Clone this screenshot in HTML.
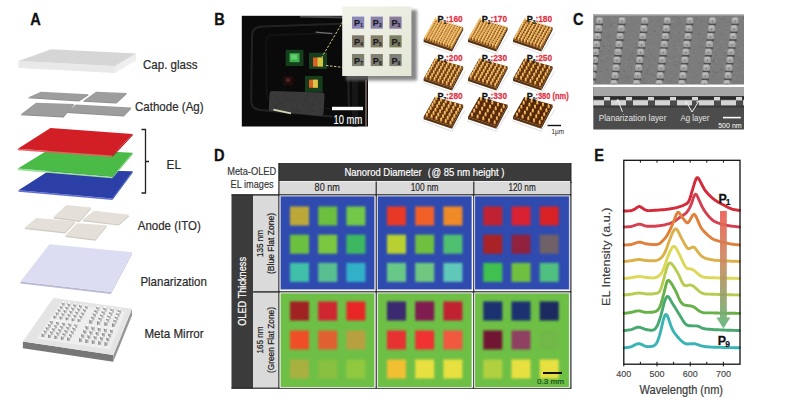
<!DOCTYPE html>
<html><head><meta charset="utf-8"><style>
html,body{margin:0;padding:0;background:#fff;}
body{width:800px;height:407px;overflow:hidden;font-family:"Liberation Sans",sans-serif;}
svg{display:block;}
</style></head><body>
<svg width="800" height="407" viewBox="0 0 800 407">
<defs><linearGradient id="ag" x1="0" y1="0" x2="0" y2="1"><stop offset="0" stop-color="#ea5a50"/><stop offset="0.45" stop-color="#c88a5c"/><stop offset="1" stop-color="#5cb474"/></linearGradient>
<filter id="blur2" x="-20%" y="-20%" width="140%" height="140%"><feGaussianBlur stdDeviation="1.6"/></filter>
<filter id="blur1" x="-30%" y="-30%" width="160%" height="160%"><feGaussianBlur stdDeviation="0.7"/></filter>
<filter id="blur05"><feGaussianBlur stdDeviation="0.45"/></filter>
<filter id="blurSq" x="-20%" y="-20%" width="140%" height="140%"><feGaussianBlur stdDeviation="0.8"/></filter>
<linearGradient id="insetg" x1="0" y1="0" x2="1" y2="1"><stop offset="0" stop-color="#f2f3ea"/><stop offset="1" stop-color="#e4e6d6"/></linearGradient>
<clipPath id="semclip"><rect x="593.3" y="14" width="150.7" height="70.5"/></clipPath>
<clipPath id="sem2clip"><rect x="593.3" y="87" width="150.7" height="42.5"/></clipPath>
<clipPath id="photoclip"><rect x="241.8" y="15.8" width="126.2" height="110.7"/></clipPath></defs>
<text transform="translate(30.30,24.60) scale(0.900,1)" font-size="16.20" fill="#111" font-weight="bold" stroke="#111" stroke-width="0.30" font-family="Liberation Sans, sans-serif">A</text>
<text transform="translate(214.20,24.80) scale(0.900,1)" font-size="16.20" fill="#111" font-weight="bold" stroke="#111" stroke-width="0.30" font-family="Liberation Sans, sans-serif">B</text>
<text transform="translate(573.00,24.60) scale(0.900,1)" font-size="16.20" fill="#111" font-weight="bold" stroke="#111" stroke-width="0.30" font-family="Liberation Sans, sans-serif">C</text>
<text transform="translate(214.00,161.20) scale(0.900,1)" font-size="16.20" fill="#111" font-weight="bold" stroke="#111" stroke-width="0.30" font-family="Liberation Sans, sans-serif">D</text>
<text transform="translate(594.30,161.20) scale(0.900,1)" font-size="16.20" fill="#111" font-weight="bold" stroke="#111" stroke-width="0.30" font-family="Liberation Sans, sans-serif">E</text>
<polygon points="18.4,61.0 115.0,66.0 115.0,73.0 18.4,68.0" fill="#e9e9e9" />
<polygon points="115.0,66.0 136.0,53.5 136.0,60.5 115.0,73.0" fill="#efefef" />
<polygon points="18.4,61.0 51.3,49.3 136.0,53.5 115.0,66.0" fill="#d6d6d6" />
<polygon points="27.9,98.3 40.9,92.5 88.8,95.1 79.0,101.6" fill="#8a8a8a" />
<polygon points="27.9,97.5 40.9,91.7 88.8,94.3 79.0,100.8" fill="#9d9d9d" />
<polygon points="83.1,101.8 96.1,92.5 127.0,93.8 116.4,103.5" fill="#8a8a8a" />
<polygon points="83.1,101.0 96.1,91.7 127.0,93.0 116.4,102.7" fill="#9d9d9d" />
<polygon points="20.6,115.2 36.0,103.5 74.2,104.8 63.6,117.4" fill="#8a8a8a" />
<polygon points="20.6,114.4 36.0,102.7 74.2,104.0 63.6,116.6" fill="#9d9d9d" />
<polygon points="66.9,113.0 75.8,105.2 131.5,108.4 123.7,116.5" fill="#8a8a8a" />
<polygon points="66.9,112.2 75.8,104.4 131.5,107.6 123.7,115.7" fill="#9d9d9d" />
<polygon points="18.5,190.2 112.4,198.5 112.4,200.0 18.5,191.7" fill="#6070d0" />
<polygon points="112.4,198.5 132.6,171.3 132.6,172.8 112.4,200.0" fill="#3050c0" />
<polygon points="18.5,190.2 51.0,169.5 132.6,171.3 112.4,198.5" fill="#2b3fa6" />
<polygon points="17.9,168.4 112.4,176.5 112.4,178.3 17.9,170.2" fill="#a0e0a0" />
<polygon points="112.4,176.5 132.6,152.8 132.6,154.6 112.4,178.3" fill="#7ad07a" />
<polygon points="17.9,168.4 50.5,148.5 132.6,152.8 112.4,176.5" fill="#4bbb48" />
<polygon points="17.9,148.8 112.4,155.5 112.4,157.0 17.9,150.3" fill="#e86060" />
<polygon points="112.4,155.5 132.6,134.0 132.6,135.5 112.4,157.0" fill="#b01820" />
<polygon points="17.9,148.8 50.5,127.9 132.6,134.0 112.4,155.5" fill="#d21f26" />
<path d="M141.5,129.5 H145.5 V193 H141.5 M145.5,161.5 H149" stroke="#222" stroke-width="1.3" fill="none"/>
<polygon points="53.3,218.5 66.4,206.2 91.4,208.8 79.6,221.9" fill="#cfcac2" />
<polygon points="53.3,217.3 66.4,205.0 91.4,207.6 79.6,220.7" fill="#e4e0d9" />
<polygon points="82.2,221.2 94.0,211.9 129.4,215.9 119.0,225.6" fill="#cfcac2" />
<polygon points="82.2,220.0 94.0,210.7 129.4,214.7 119.0,224.4" fill="#e4e0d9" />
<polygon points="24.4,229.0 36.2,219.2 75.6,222.4 65.0,233.5" fill="#cfcac2" />
<polygon points="24.4,227.8 36.2,218.0 75.6,221.2 65.0,232.3" fill="#e4e0d9" />
<polygon points="65.0,236.9 77.0,224.5 107.0,226.4 95.3,240.8" fill="#cfcac2" />
<polygon points="65.0,235.7 77.0,223.3 107.0,225.2 95.3,239.6" fill="#e4e0d9" />
<polygon points="20.5,281.6 111.0,292.0 111.0,294.0 20.5,283.6" fill="#b9b9d3" />
<polygon points="111.0,292.0 132.0,252.2 132.0,254.2 111.0,294.0" fill="#c8c8e0" />
<polygon points="20.5,281.6 49.4,244.3 132.0,252.2 111.0,292.0" fill="#dcdcf3" />
<polygon points="22.9,341.5 113.3,354.9 113.3,361.7 22.9,348.3" fill="#777777" />
<polygon points="113.3,354.9 132.0,308.7 132.0,315.5 113.3,361.7" fill="#979797" />
<polygon points="22.9,341.5 53.3,297.9 132.0,308.7 113.3,354.9" fill="#e4e4e4" />
<polygon points="36.6,338.7 60.4,302.7 125.7,311.7 109.8,349.5" fill="#eeeeee" />
<rect x="49.9" y="320.3" width="3.0" height="4.0" fill="#b4b4b4"/>
<rect x="49.9" y="320.3" width="1.2" height="4.0" fill="#8e8e8e"/>
<ellipse cx="51.4" cy="320.3" rx="1.50" ry="0.9" fill="#fbfbfb"/>
<rect x="56.0" y="321.2" width="3.0" height="4.0" fill="#b4b4b4"/>
<rect x="56.0" y="321.2" width="1.2" height="4.0" fill="#8e8e8e"/>
<ellipse cx="57.5" cy="321.2" rx="1.50" ry="0.9" fill="#fbfbfb"/>
<rect x="62.2" y="322.1" width="3.0" height="4.0" fill="#b4b4b4"/>
<rect x="62.2" y="322.1" width="1.2" height="4.0" fill="#8e8e8e"/>
<ellipse cx="63.7" cy="322.1" rx="1.50" ry="0.9" fill="#fbfbfb"/>
<rect x="68.3" y="322.9" width="3.0" height="4.0" fill="#b4b4b4"/>
<rect x="68.3" y="322.9" width="1.2" height="4.0" fill="#8e8e8e"/>
<ellipse cx="69.8" cy="322.9" rx="1.50" ry="0.9" fill="#fbfbfb"/>
<rect x="74.4" y="323.8" width="3.0" height="4.0" fill="#b4b4b4"/>
<rect x="74.4" y="323.8" width="1.2" height="4.0" fill="#8e8e8e"/>
<ellipse cx="75.9" cy="323.8" rx="1.50" ry="0.9" fill="#fbfbfb"/>
<rect x="47.9" y="323.5" width="3.0" height="4.0" fill="#b4b4b4"/>
<rect x="47.9" y="323.5" width="1.2" height="4.0" fill="#8e8e8e"/>
<ellipse cx="49.4" cy="323.5" rx="1.50" ry="0.9" fill="#fbfbfb"/>
<rect x="54.0" y="324.4" width="3.0" height="4.0" fill="#b4b4b4"/>
<rect x="54.0" y="324.4" width="1.2" height="4.0" fill="#8e8e8e"/>
<ellipse cx="55.5" cy="324.4" rx="1.50" ry="0.9" fill="#fbfbfb"/>
<rect x="60.2" y="325.3" width="3.0" height="4.0" fill="#b4b4b4"/>
<rect x="60.2" y="325.3" width="1.2" height="4.0" fill="#8e8e8e"/>
<ellipse cx="61.7" cy="325.3" rx="1.50" ry="0.9" fill="#fbfbfb"/>
<rect x="66.4" y="326.2" width="3.0" height="4.0" fill="#b4b4b4"/>
<rect x="66.4" y="326.2" width="1.2" height="4.0" fill="#8e8e8e"/>
<ellipse cx="67.9" cy="326.2" rx="1.50" ry="0.9" fill="#fbfbfb"/>
<rect x="72.6" y="327.0" width="3.0" height="4.0" fill="#b4b4b4"/>
<rect x="72.6" y="327.0" width="1.2" height="4.0" fill="#8e8e8e"/>
<ellipse cx="74.1" cy="327.0" rx="1.50" ry="0.9" fill="#fbfbfb"/>
<rect x="45.8" y="326.6" width="3.0" height="4.0" fill="#b4b4b4"/>
<rect x="45.8" y="326.6" width="1.2" height="4.0" fill="#8e8e8e"/>
<ellipse cx="47.3" cy="326.6" rx="1.50" ry="0.9" fill="#fbfbfb"/>
<rect x="52.1" y="327.5" width="3.0" height="4.0" fill="#b4b4b4"/>
<rect x="52.1" y="327.5" width="1.2" height="4.0" fill="#8e8e8e"/>
<ellipse cx="53.6" cy="327.5" rx="1.50" ry="0.9" fill="#fbfbfb"/>
<rect x="58.3" y="328.5" width="3.0" height="4.0" fill="#b4b4b4"/>
<rect x="58.3" y="328.5" width="1.2" height="4.0" fill="#8e8e8e"/>
<ellipse cx="59.8" cy="328.5" rx="1.50" ry="0.9" fill="#fbfbfb"/>
<rect x="64.6" y="329.4" width="3.0" height="4.0" fill="#b4b4b4"/>
<rect x="64.6" y="329.4" width="1.2" height="4.0" fill="#8e8e8e"/>
<ellipse cx="66.1" cy="329.4" rx="1.50" ry="0.9" fill="#fbfbfb"/>
<rect x="70.8" y="330.3" width="3.0" height="4.0" fill="#b4b4b4"/>
<rect x="70.8" y="330.3" width="1.2" height="4.0" fill="#8e8e8e"/>
<ellipse cx="72.3" cy="330.3" rx="1.50" ry="0.9" fill="#fbfbfb"/>
<rect x="43.8" y="329.8" width="3.0" height="4.0" fill="#b4b4b4"/>
<rect x="43.8" y="329.8" width="1.2" height="4.0" fill="#8e8e8e"/>
<ellipse cx="45.3" cy="329.8" rx="1.50" ry="0.9" fill="#fbfbfb"/>
<rect x="50.1" y="330.7" width="3.0" height="4.0" fill="#b4b4b4"/>
<rect x="50.1" y="330.7" width="1.2" height="4.0" fill="#8e8e8e"/>
<ellipse cx="51.6" cy="330.7" rx="1.50" ry="0.9" fill="#fbfbfb"/>
<rect x="56.4" y="331.7" width="3.0" height="4.0" fill="#b4b4b4"/>
<rect x="56.4" y="331.7" width="1.2" height="4.0" fill="#8e8e8e"/>
<ellipse cx="57.9" cy="331.7" rx="1.50" ry="0.9" fill="#fbfbfb"/>
<rect x="62.7" y="332.6" width="3.0" height="4.0" fill="#b4b4b4"/>
<rect x="62.7" y="332.6" width="1.2" height="4.0" fill="#8e8e8e"/>
<ellipse cx="64.2" cy="332.6" rx="1.50" ry="0.9" fill="#fbfbfb"/>
<rect x="69.0" y="333.5" width="3.0" height="4.0" fill="#b4b4b4"/>
<rect x="69.0" y="333.5" width="1.2" height="4.0" fill="#8e8e8e"/>
<ellipse cx="70.5" cy="333.5" rx="1.50" ry="0.9" fill="#fbfbfb"/>
<rect x="41.7" y="333.0" width="3.0" height="4.0" fill="#b4b4b4"/>
<rect x="41.7" y="333.0" width="1.2" height="4.0" fill="#8e8e8e"/>
<ellipse cx="43.2" cy="333.0" rx="1.50" ry="0.9" fill="#fbfbfb"/>
<rect x="48.1" y="333.9" width="3.0" height="4.0" fill="#b4b4b4"/>
<rect x="48.1" y="333.9" width="1.2" height="4.0" fill="#8e8e8e"/>
<ellipse cx="49.6" cy="333.9" rx="1.50" ry="0.9" fill="#fbfbfb"/>
<rect x="54.5" y="334.9" width="3.0" height="4.0" fill="#b4b4b4"/>
<rect x="54.5" y="334.9" width="1.2" height="4.0" fill="#8e8e8e"/>
<ellipse cx="56.0" cy="334.9" rx="1.50" ry="0.9" fill="#fbfbfb"/>
<rect x="60.9" y="335.8" width="3.0" height="4.0" fill="#b4b4b4"/>
<rect x="60.9" y="335.8" width="1.2" height="4.0" fill="#8e8e8e"/>
<ellipse cx="62.4" cy="335.8" rx="1.50" ry="0.9" fill="#fbfbfb"/>
<rect x="67.2" y="336.7" width="3.0" height="4.0" fill="#b4b4b4"/>
<rect x="67.2" y="336.7" width="1.2" height="4.0" fill="#8e8e8e"/>
<ellipse cx="68.7" cy="336.7" rx="1.50" ry="0.9" fill="#fbfbfb"/>
<rect x="85.5" y="325.4" width="3.0" height="4.4" fill="#b4b4b4"/>
<rect x="85.5" y="325.4" width="1.2" height="4.4" fill="#8e8e8e"/>
<ellipse cx="87.0" cy="325.4" rx="1.50" ry="0.9" fill="#fbfbfb"/>
<rect x="91.6" y="326.3" width="3.0" height="4.4" fill="#b4b4b4"/>
<rect x="91.6" y="326.3" width="1.2" height="4.4" fill="#8e8e8e"/>
<ellipse cx="93.1" cy="326.3" rx="1.50" ry="0.9" fill="#fbfbfb"/>
<rect x="97.8" y="327.2" width="3.0" height="4.4" fill="#b4b4b4"/>
<rect x="97.8" y="327.2" width="1.2" height="4.4" fill="#8e8e8e"/>
<ellipse cx="99.3" cy="327.2" rx="1.50" ry="0.9" fill="#fbfbfb"/>
<rect x="103.9" y="328.1" width="3.0" height="4.4" fill="#b4b4b4"/>
<rect x="103.9" y="328.1" width="1.2" height="4.4" fill="#8e8e8e"/>
<ellipse cx="105.4" cy="328.1" rx="1.50" ry="0.9" fill="#fbfbfb"/>
<rect x="110.0" y="329.0" width="3.0" height="4.4" fill="#b4b4b4"/>
<rect x="110.0" y="329.0" width="1.2" height="4.4" fill="#8e8e8e"/>
<ellipse cx="111.5" cy="329.0" rx="1.50" ry="0.9" fill="#fbfbfb"/>
<rect x="83.4" y="329.5" width="3.0" height="4.4" fill="#b4b4b4"/>
<rect x="83.4" y="329.5" width="1.2" height="4.4" fill="#8e8e8e"/>
<ellipse cx="84.9" cy="329.5" rx="1.50" ry="0.9" fill="#fbfbfb"/>
<rect x="89.6" y="330.4" width="3.0" height="4.4" fill="#b4b4b4"/>
<rect x="89.6" y="330.4" width="1.2" height="4.4" fill="#8e8e8e"/>
<ellipse cx="91.1" cy="330.4" rx="1.50" ry="0.9" fill="#fbfbfb"/>
<rect x="95.8" y="331.3" width="3.0" height="4.4" fill="#b4b4b4"/>
<rect x="95.8" y="331.3" width="1.2" height="4.4" fill="#8e8e8e"/>
<ellipse cx="97.3" cy="331.3" rx="1.50" ry="0.9" fill="#fbfbfb"/>
<rect x="102.0" y="332.2" width="3.0" height="4.4" fill="#b4b4b4"/>
<rect x="102.0" y="332.2" width="1.2" height="4.4" fill="#8e8e8e"/>
<ellipse cx="103.5" cy="332.2" rx="1.50" ry="0.9" fill="#fbfbfb"/>
<rect x="108.2" y="333.1" width="3.0" height="4.4" fill="#b4b4b4"/>
<rect x="108.2" y="333.1" width="1.2" height="4.4" fill="#8e8e8e"/>
<ellipse cx="109.7" cy="333.1" rx="1.50" ry="0.9" fill="#fbfbfb"/>
<rect x="81.3" y="333.6" width="3.0" height="4.4" fill="#b4b4b4"/>
<rect x="81.3" y="333.6" width="1.2" height="4.4" fill="#8e8e8e"/>
<ellipse cx="82.8" cy="333.6" rx="1.50" ry="0.9" fill="#fbfbfb"/>
<rect x="87.5" y="334.5" width="3.0" height="4.4" fill="#b4b4b4"/>
<rect x="87.5" y="334.5" width="1.2" height="4.4" fill="#8e8e8e"/>
<ellipse cx="89.0" cy="334.5" rx="1.50" ry="0.9" fill="#fbfbfb"/>
<rect x="93.8" y="335.4" width="3.0" height="4.4" fill="#b4b4b4"/>
<rect x="93.8" y="335.4" width="1.2" height="4.4" fill="#8e8e8e"/>
<ellipse cx="95.3" cy="335.4" rx="1.50" ry="0.9" fill="#fbfbfb"/>
<rect x="100.1" y="336.3" width="3.0" height="4.4" fill="#b4b4b4"/>
<rect x="100.1" y="336.3" width="1.2" height="4.4" fill="#8e8e8e"/>
<ellipse cx="101.6" cy="336.3" rx="1.50" ry="0.9" fill="#fbfbfb"/>
<rect x="106.4" y="337.2" width="3.0" height="4.4" fill="#b4b4b4"/>
<rect x="106.4" y="337.2" width="1.2" height="4.4" fill="#8e8e8e"/>
<ellipse cx="107.9" cy="337.2" rx="1.50" ry="0.9" fill="#fbfbfb"/>
<rect x="79.1" y="337.6" width="3.0" height="4.4" fill="#b4b4b4"/>
<rect x="79.1" y="337.6" width="1.2" height="4.4" fill="#8e8e8e"/>
<ellipse cx="80.6" cy="337.6" rx="1.50" ry="0.9" fill="#fbfbfb"/>
<rect x="85.5" y="338.6" width="3.0" height="4.4" fill="#b4b4b4"/>
<rect x="85.5" y="338.6" width="1.2" height="4.4" fill="#8e8e8e"/>
<ellipse cx="87.0" cy="338.6" rx="1.50" ry="0.9" fill="#fbfbfb"/>
<rect x="91.9" y="339.5" width="3.0" height="4.4" fill="#b4b4b4"/>
<rect x="91.9" y="339.5" width="1.2" height="4.4" fill="#8e8e8e"/>
<ellipse cx="93.4" cy="339.5" rx="1.50" ry="0.9" fill="#fbfbfb"/>
<rect x="98.3" y="340.4" width="3.0" height="4.4" fill="#b4b4b4"/>
<rect x="98.3" y="340.4" width="1.2" height="4.4" fill="#8e8e8e"/>
<ellipse cx="99.8" cy="340.4" rx="1.50" ry="0.9" fill="#fbfbfb"/>
<rect x="104.6" y="341.4" width="3.0" height="4.4" fill="#b4b4b4"/>
<rect x="104.6" y="341.4" width="1.2" height="4.4" fill="#8e8e8e"/>
<ellipse cx="106.1" cy="341.4" rx="1.50" ry="0.9" fill="#fbfbfb"/>
<rect x="61.9" y="302.2" width="2.8" height="3.6" fill="#b4b4b4"/>
<rect x="61.9" y="302.2" width="1.1" height="3.6" fill="#8e8e8e"/>
<ellipse cx="63.3" cy="302.2" rx="1.40" ry="0.9" fill="#fbfbfb"/>
<rect x="67.7" y="303.0" width="2.8" height="3.6" fill="#b4b4b4"/>
<rect x="67.7" y="303.0" width="1.1" height="3.6" fill="#8e8e8e"/>
<ellipse cx="69.1" cy="303.0" rx="1.40" ry="0.9" fill="#fbfbfb"/>
<rect x="73.5" y="303.8" width="2.8" height="3.6" fill="#b4b4b4"/>
<rect x="73.5" y="303.8" width="1.1" height="3.6" fill="#8e8e8e"/>
<ellipse cx="74.9" cy="303.8" rx="1.40" ry="0.9" fill="#fbfbfb"/>
<rect x="79.2" y="304.6" width="2.8" height="3.6" fill="#b4b4b4"/>
<rect x="79.2" y="304.6" width="1.1" height="3.6" fill="#8e8e8e"/>
<ellipse cx="80.6" cy="304.6" rx="1.40" ry="0.9" fill="#fbfbfb"/>
<rect x="85.0" y="305.4" width="2.8" height="3.6" fill="#b4b4b4"/>
<rect x="85.0" y="305.4" width="1.1" height="3.6" fill="#8e8e8e"/>
<ellipse cx="86.4" cy="305.4" rx="1.40" ry="0.9" fill="#fbfbfb"/>
<rect x="59.9" y="305.4" width="2.8" height="3.6" fill="#b4b4b4"/>
<rect x="59.9" y="305.4" width="1.1" height="3.6" fill="#8e8e8e"/>
<ellipse cx="61.3" cy="305.4" rx="1.40" ry="0.9" fill="#fbfbfb"/>
<rect x="65.7" y="306.2" width="2.8" height="3.6" fill="#b4b4b4"/>
<rect x="65.7" y="306.2" width="1.1" height="3.6" fill="#8e8e8e"/>
<ellipse cx="67.1" cy="306.2" rx="1.40" ry="0.9" fill="#fbfbfb"/>
<rect x="71.5" y="307.0" width="2.8" height="3.6" fill="#b4b4b4"/>
<rect x="71.5" y="307.0" width="1.1" height="3.6" fill="#8e8e8e"/>
<ellipse cx="72.9" cy="307.0" rx="1.40" ry="0.9" fill="#fbfbfb"/>
<rect x="77.4" y="307.8" width="2.8" height="3.6" fill="#b4b4b4"/>
<rect x="77.4" y="307.8" width="1.1" height="3.6" fill="#8e8e8e"/>
<ellipse cx="78.8" cy="307.8" rx="1.40" ry="0.9" fill="#fbfbfb"/>
<rect x="83.2" y="308.6" width="2.8" height="3.6" fill="#b4b4b4"/>
<rect x="83.2" y="308.6" width="1.1" height="3.6" fill="#8e8e8e"/>
<ellipse cx="84.6" cy="308.6" rx="1.40" ry="0.9" fill="#fbfbfb"/>
<rect x="57.8" y="308.5" width="2.8" height="3.6" fill="#b4b4b4"/>
<rect x="57.8" y="308.5" width="1.1" height="3.6" fill="#8e8e8e"/>
<ellipse cx="59.2" cy="308.5" rx="1.40" ry="0.9" fill="#fbfbfb"/>
<rect x="63.7" y="309.4" width="2.8" height="3.6" fill="#b4b4b4"/>
<rect x="63.7" y="309.4" width="1.1" height="3.6" fill="#8e8e8e"/>
<ellipse cx="65.1" cy="309.4" rx="1.40" ry="0.9" fill="#fbfbfb"/>
<rect x="69.6" y="310.2" width="2.8" height="3.6" fill="#b4b4b4"/>
<rect x="69.6" y="310.2" width="1.1" height="3.6" fill="#8e8e8e"/>
<ellipse cx="71.0" cy="310.2" rx="1.40" ry="0.9" fill="#fbfbfb"/>
<rect x="75.5" y="311.0" width="2.8" height="3.6" fill="#b4b4b4"/>
<rect x="75.5" y="311.0" width="1.1" height="3.6" fill="#8e8e8e"/>
<ellipse cx="76.9" cy="311.0" rx="1.40" ry="0.9" fill="#fbfbfb"/>
<rect x="81.4" y="311.9" width="2.8" height="3.6" fill="#b4b4b4"/>
<rect x="81.4" y="311.9" width="1.1" height="3.6" fill="#8e8e8e"/>
<ellipse cx="82.8" cy="311.9" rx="1.40" ry="0.9" fill="#fbfbfb"/>
<rect x="55.8" y="311.7" width="2.8" height="3.6" fill="#b4b4b4"/>
<rect x="55.8" y="311.7" width="1.1" height="3.6" fill="#8e8e8e"/>
<ellipse cx="57.2" cy="311.7" rx="1.40" ry="0.9" fill="#fbfbfb"/>
<rect x="61.7" y="312.6" width="2.8" height="3.6" fill="#b4b4b4"/>
<rect x="61.7" y="312.6" width="1.1" height="3.6" fill="#8e8e8e"/>
<ellipse cx="63.1" cy="312.6" rx="1.40" ry="0.9" fill="#fbfbfb"/>
<rect x="67.7" y="313.4" width="2.8" height="3.6" fill="#b4b4b4"/>
<rect x="67.7" y="313.4" width="1.1" height="3.6" fill="#8e8e8e"/>
<ellipse cx="69.1" cy="313.4" rx="1.40" ry="0.9" fill="#fbfbfb"/>
<rect x="73.7" y="314.2" width="2.8" height="3.6" fill="#b4b4b4"/>
<rect x="73.7" y="314.2" width="1.1" height="3.6" fill="#8e8e8e"/>
<ellipse cx="75.1" cy="314.2" rx="1.40" ry="0.9" fill="#fbfbfb"/>
<rect x="79.6" y="315.1" width="2.8" height="3.6" fill="#b4b4b4"/>
<rect x="79.6" y="315.1" width="1.1" height="3.6" fill="#8e8e8e"/>
<ellipse cx="81.0" cy="315.1" rx="1.40" ry="0.9" fill="#fbfbfb"/>
<rect x="53.7" y="314.9" width="2.8" height="3.6" fill="#b4b4b4"/>
<rect x="53.7" y="314.9" width="1.1" height="3.6" fill="#8e8e8e"/>
<ellipse cx="55.1" cy="314.9" rx="1.40" ry="0.9" fill="#fbfbfb"/>
<rect x="59.8" y="315.7" width="2.8" height="3.6" fill="#b4b4b4"/>
<rect x="59.8" y="315.7" width="1.1" height="3.6" fill="#8e8e8e"/>
<ellipse cx="61.2" cy="315.7" rx="1.40" ry="0.9" fill="#fbfbfb"/>
<rect x="65.8" y="316.6" width="2.8" height="3.6" fill="#b4b4b4"/>
<rect x="65.8" y="316.6" width="1.1" height="3.6" fill="#8e8e8e"/>
<ellipse cx="67.2" cy="316.6" rx="1.40" ry="0.9" fill="#fbfbfb"/>
<rect x="71.8" y="317.5" width="2.8" height="3.6" fill="#b4b4b4"/>
<rect x="71.8" y="317.5" width="1.1" height="3.6" fill="#8e8e8e"/>
<ellipse cx="73.2" cy="317.5" rx="1.40" ry="0.9" fill="#fbfbfb"/>
<rect x="77.8" y="318.3" width="2.8" height="3.6" fill="#b4b4b4"/>
<rect x="77.8" y="318.3" width="1.1" height="3.6" fill="#8e8e8e"/>
<ellipse cx="79.2" cy="318.3" rx="1.40" ry="0.9" fill="#fbfbfb"/>
<rect x="96.1" y="306.4" width="3.2" height="4.2" fill="#b4b4b4"/>
<rect x="96.1" y="306.4" width="1.3" height="4.2" fill="#8e8e8e"/>
<ellipse cx="97.7" cy="306.4" rx="1.60" ry="0.9" fill="#fbfbfb"/>
<rect x="103.4" y="307.4" width="3.2" height="4.2" fill="#b4b4b4"/>
<rect x="103.4" y="307.4" width="1.3" height="4.2" fill="#8e8e8e"/>
<ellipse cx="105.0" cy="307.4" rx="1.60" ry="0.9" fill="#fbfbfb"/>
<rect x="110.6" y="308.4" width="3.2" height="4.2" fill="#b4b4b4"/>
<rect x="110.6" y="308.4" width="1.3" height="4.2" fill="#8e8e8e"/>
<ellipse cx="112.2" cy="308.4" rx="1.60" ry="0.9" fill="#fbfbfb"/>
<rect x="117.8" y="309.4" width="3.2" height="4.2" fill="#b4b4b4"/>
<rect x="117.8" y="309.4" width="1.3" height="4.2" fill="#8e8e8e"/>
<ellipse cx="119.4" cy="309.4" rx="1.60" ry="0.9" fill="#fbfbfb"/>
<rect x="94.5" y="309.6" width="3.2" height="4.2" fill="#b4b4b4"/>
<rect x="94.5" y="309.6" width="1.3" height="4.2" fill="#8e8e8e"/>
<ellipse cx="96.1" cy="309.6" rx="1.60" ry="0.9" fill="#fbfbfb"/>
<rect x="101.8" y="310.7" width="3.2" height="4.2" fill="#b4b4b4"/>
<rect x="101.8" y="310.7" width="1.3" height="4.2" fill="#8e8e8e"/>
<ellipse cx="103.4" cy="310.7" rx="1.60" ry="0.9" fill="#fbfbfb"/>
<rect x="109.1" y="311.7" width="3.2" height="4.2" fill="#b4b4b4"/>
<rect x="109.1" y="311.7" width="1.3" height="4.2" fill="#8e8e8e"/>
<ellipse cx="110.7" cy="311.7" rx="1.60" ry="0.9" fill="#fbfbfb"/>
<rect x="116.4" y="312.7" width="3.2" height="4.2" fill="#b4b4b4"/>
<rect x="116.4" y="312.7" width="1.3" height="4.2" fill="#8e8e8e"/>
<ellipse cx="118.0" cy="312.7" rx="1.60" ry="0.9" fill="#fbfbfb"/>
<rect x="92.8" y="312.9" width="3.2" height="4.2" fill="#b4b4b4"/>
<rect x="92.8" y="312.9" width="1.3" height="4.2" fill="#8e8e8e"/>
<ellipse cx="94.4" cy="312.9" rx="1.60" ry="0.9" fill="#fbfbfb"/>
<rect x="100.2" y="313.9" width="3.2" height="4.2" fill="#b4b4b4"/>
<rect x="100.2" y="313.9" width="1.3" height="4.2" fill="#8e8e8e"/>
<ellipse cx="101.8" cy="313.9" rx="1.60" ry="0.9" fill="#fbfbfb"/>
<rect x="107.5" y="315.0" width="3.2" height="4.2" fill="#b4b4b4"/>
<rect x="107.5" y="315.0" width="1.3" height="4.2" fill="#8e8e8e"/>
<ellipse cx="109.1" cy="315.0" rx="1.60" ry="0.9" fill="#fbfbfb"/>
<rect x="114.9" y="316.0" width="3.2" height="4.2" fill="#b4b4b4"/>
<rect x="114.9" y="316.0" width="1.3" height="4.2" fill="#8e8e8e"/>
<ellipse cx="116.5" cy="316.0" rx="1.60" ry="0.9" fill="#fbfbfb"/>
<rect x="91.1" y="316.1" width="3.2" height="4.2" fill="#b4b4b4"/>
<rect x="91.1" y="316.1" width="1.3" height="4.2" fill="#8e8e8e"/>
<ellipse cx="92.7" cy="316.1" rx="1.60" ry="0.9" fill="#fbfbfb"/>
<rect x="98.6" y="317.2" width="3.2" height="4.2" fill="#b4b4b4"/>
<rect x="98.6" y="317.2" width="1.3" height="4.2" fill="#8e8e8e"/>
<ellipse cx="100.2" cy="317.2" rx="1.60" ry="0.9" fill="#fbfbfb"/>
<rect x="106.0" y="318.2" width="3.2" height="4.2" fill="#b4b4b4"/>
<rect x="106.0" y="318.2" width="1.3" height="4.2" fill="#8e8e8e"/>
<ellipse cx="107.6" cy="318.2" rx="1.60" ry="0.9" fill="#fbfbfb"/>
<rect x="113.5" y="319.3" width="3.2" height="4.2" fill="#b4b4b4"/>
<rect x="113.5" y="319.3" width="1.3" height="4.2" fill="#8e8e8e"/>
<ellipse cx="115.1" cy="319.3" rx="1.60" ry="0.9" fill="#fbfbfb"/>
<rect x="89.4" y="319.4" width="3.2" height="4.2" fill="#b4b4b4"/>
<rect x="89.4" y="319.4" width="1.3" height="4.2" fill="#8e8e8e"/>
<ellipse cx="91.0" cy="319.4" rx="1.60" ry="0.9" fill="#fbfbfb"/>
<rect x="97.0" y="320.5" width="3.2" height="4.2" fill="#b4b4b4"/>
<rect x="97.0" y="320.5" width="1.3" height="4.2" fill="#8e8e8e"/>
<ellipse cx="98.6" cy="320.5" rx="1.60" ry="0.9" fill="#fbfbfb"/>
<rect x="104.5" y="321.5" width="3.2" height="4.2" fill="#b4b4b4"/>
<rect x="104.5" y="321.5" width="1.3" height="4.2" fill="#8e8e8e"/>
<ellipse cx="106.1" cy="321.5" rx="1.60" ry="0.9" fill="#fbfbfb"/>
<rect x="112.0" y="322.6" width="3.2" height="4.2" fill="#b4b4b4"/>
<rect x="112.0" y="322.6" width="1.3" height="4.2" fill="#8e8e8e"/>
<ellipse cx="113.6" cy="322.6" rx="1.60" ry="0.9" fill="#fbfbfb"/>
<text x="143.0" y="69.0" font-size="12.80" fill="#2a2a2a" font-weight="normal" text-anchor="start" font-family="Liberation Sans, sans-serif" textLength="54.6" lengthAdjust="spacingAndGlyphs" stroke="#2a2a2a" stroke-width="0.2">Cap. glass</text>
<text x="135.0" y="110.5" font-size="12.80" fill="#2a2a2a" font-weight="normal" text-anchor="start" font-family="Liberation Sans, sans-serif" textLength="68.6" lengthAdjust="spacingAndGlyphs" stroke="#2a2a2a" stroke-width="0.2">Cathode (Ag)</text>
<text x="166.5" y="169.0" font-size="12.80" fill="#2a2a2a" font-weight="normal" text-anchor="start" font-family="Liberation Sans, sans-serif" textLength="14.5" lengthAdjust="spacingAndGlyphs" stroke="#2a2a2a" stroke-width="0.2">EL</text>
<text x="137.8" y="230.0" font-size="12.80" fill="#2a2a2a" font-weight="normal" text-anchor="start" font-family="Liberation Sans, sans-serif" textLength="63.0" lengthAdjust="spacingAndGlyphs" stroke="#2a2a2a" stroke-width="0.2">Anode (ITO)</text>
<text x="140.4" y="286.0" font-size="12.80" fill="#2a2a2a" font-weight="normal" text-anchor="start" font-family="Liberation Sans, sans-serif" textLength="66.5" lengthAdjust="spacingAndGlyphs" stroke="#2a2a2a" stroke-width="0.2">Planarization</text>
<text x="144.4" y="337.5" font-size="12.80" fill="#2a2a2a" font-weight="normal" text-anchor="start" font-family="Liberation Sans, sans-serif" textLength="59.3" lengthAdjust="spacingAndGlyphs" stroke="#2a2a2a" stroke-width="0.2">Meta Mirror</text>
<rect x="241.8" y="15.8" width="126.2" height="110.7" fill="#0a0a0a"/>
<g clip-path="url(#photoclip)">
<path d="M300,16.5 L368,18" stroke="#777" stroke-width="2" opacity="0.6" filter="url(#blur05)"/>
<path d="M262,26.6 L341,23.8 Q347,23.6 347,30 L349,110 M262,26.6 Q252,27 252,36 L251.2,100 Q251,109 260,110 L332,116.5" stroke="#232323" stroke-width="2" fill="none" filter="url(#blur05)"/>
<path d="M272,35 L338,33 M272,35 Q266,35 266,42 L266.6,94 Q267,100 274,101 L330,109" stroke="#161616" stroke-width="1.3" fill="none"/>
<path d="M315.6,32.2 L332.4,33.6" stroke="#8a8a8a" stroke-width="1.2" opacity="0.8"/>
<rect x="352" y="78" width="6" height="49" fill="#161616"/>
<path d="M366,80 L366,127" stroke="#c0a098" stroke-width="1.4" opacity="0.7"/>
</g>
<rect x="285.7" y="49.8" width="17.7" height="16.2" fill="#163e1e" filter="url(#blur05)"/>
<rect x="289.5" y="53.2" width="10" height="9" fill="#3cae4c" filter="url(#blur1)"/>
<rect x="291" y="54.5" width="6" height="5" fill="#60d070" filter="url(#blur05)"/>
<rect x="309" y="52.7" width="18" height="16.3" fill="#163e1e" filter="url(#blur05)"/>
<rect x="313" y="57.5" width="10" height="9" fill="#d86028" filter="url(#blur05)"/>
<rect x="317.5" y="57.5" width="5.5" height="9" fill="#d0c840" filter="url(#blur05)"/>
<rect x="283.4" y="75.9" width="10" height="9" fill="#221010" filter="url(#blur05)"/>
<rect x="286" y="78" width="4" height="4" fill="#4a2020" filter="url(#blur05)"/>
<rect x="305" y="75.9" width="17.7" height="16" fill="#163e1e" filter="url(#blur05)"/>
<rect x="309" y="79.7" width="9" height="8" fill="#d86028" filter="url(#blur05)"/>
<rect x="313" y="79.7" width="4.8" height="8" fill="#d8c848" filter="url(#blur05)"/>
<path d="M272,91 L322,92.5 Q325,93 324.5,96 L323.5,113 Q323,116 320,116 L271,111 Q268.5,110.5 268.8,108 L269.5,94 Q270,91 272,91 Z" fill="#3a3a3a"/>
<rect x="277.7" y="110.1" width="1.2" height="1.2" fill="#222" opacity="0.25"/>
<rect x="283.8" y="103.4" width="1.2" height="1.2" fill="#4a4a4a" opacity="0.25"/>
<rect x="294.6" y="101.2" width="1.2" height="1.2" fill="#222" opacity="0.25"/>
<rect x="275.7" y="94.5" width="1.2" height="1.2" fill="#4a4a4a" opacity="0.25"/>
<rect x="292.6" y="108.5" width="1.2" height="1.2" fill="#222" opacity="0.25"/>
<rect x="305.8" y="99.1" width="1.2" height="1.2" fill="#222" opacity="0.25"/>
<rect x="300.6" y="95.9" width="1.2" height="1.2" fill="#4a4a4a" opacity="0.25"/>
<rect x="272.5" y="94.5" width="1.2" height="1.2" fill="#222" opacity="0.25"/>
<rect x="318.0" y="101.2" width="1.2" height="1.2" fill="#222" opacity="0.25"/>
<rect x="319.5" y="107.8" width="1.2" height="1.2" fill="#222" opacity="0.25"/>
<rect x="309.2" y="111.8" width="1.2" height="1.2" fill="#222" opacity="0.25"/>
<rect x="288.3" y="106.9" width="1.2" height="1.2" fill="#4a4a4a" opacity="0.25"/>
<rect x="318.6" y="111.6" width="1.2" height="1.2" fill="#4a4a4a" opacity="0.25"/>
<rect x="312.9" y="104.6" width="1.2" height="1.2" fill="#222" opacity="0.25"/>
<rect x="280.3" y="112.9" width="1.2" height="1.2" fill="#4a4a4a" opacity="0.25"/>
<rect x="277.0" y="100.3" width="1.2" height="1.2" fill="#4a4a4a" opacity="0.25"/>
<rect x="296.4" y="111.3" width="1.2" height="1.2" fill="#222" opacity="0.25"/>
<rect x="286.2" y="105.2" width="1.2" height="1.2" fill="#4a4a4a" opacity="0.25"/>
<rect x="313.3" y="103.6" width="1.2" height="1.2" fill="#222" opacity="0.25"/>
<rect x="295.0" y="108.1" width="1.2" height="1.2" fill="#4a4a4a" opacity="0.25"/>
<rect x="291.7" y="97.3" width="1.2" height="1.2" fill="#4a4a4a" opacity="0.25"/>
<rect x="275.3" y="106.6" width="1.2" height="1.2" fill="#222" opacity="0.25"/>
<rect x="309.9" y="103.9" width="1.2" height="1.2" fill="#4a4a4a" opacity="0.25"/>
<rect x="289.5" y="107.9" width="1.2" height="1.2" fill="#4a4a4a" opacity="0.25"/>
<rect x="273.2" y="107.4" width="1.2" height="1.2" fill="#4a4a4a" opacity="0.25"/>
<rect x="303.4" y="97.2" width="1.2" height="1.2" fill="#222" opacity="0.25"/>
<rect x="320.1" y="108.6" width="1.2" height="1.2" fill="#222" opacity="0.25"/>
<rect x="291.2" y="100.5" width="1.2" height="1.2" fill="#4a4a4a" opacity="0.25"/>
<rect x="294.0" y="99.1" width="1.2" height="1.2" fill="#222" opacity="0.25"/>
<rect x="290.2" y="110.3" width="1.2" height="1.2" fill="#222" opacity="0.25"/>
<rect x="296.9" y="104.7" width="1.2" height="1.2" fill="#4a4a4a" opacity="0.25"/>
<rect x="318.5" y="103.1" width="1.2" height="1.2" fill="#4a4a4a" opacity="0.25"/>
<rect x="299.5" y="97.8" width="1.2" height="1.2" fill="#4a4a4a" opacity="0.25"/>
<rect x="295.2" y="100.8" width="1.2" height="1.2" fill="#4a4a4a" opacity="0.25"/>
<rect x="271.1" y="104.3" width="1.2" height="1.2" fill="#4a4a4a" opacity="0.25"/>
<rect x="293.9" y="94.5" width="1.2" height="1.2" fill="#222" opacity="0.25"/>
<rect x="302.8" y="104.5" width="1.2" height="1.2" fill="#222" opacity="0.25"/>
<rect x="314.1" y="109.2" width="1.2" height="1.2" fill="#4a4a4a" opacity="0.25"/>
<rect x="272.6" y="111.9" width="1.2" height="1.2" fill="#222" opacity="0.25"/>
<rect x="275.2" y="94.3" width="1.2" height="1.2" fill="#222" opacity="0.25"/>
<rect x="308.7" y="99.3" width="1.2" height="1.2" fill="#4a4a4a" opacity="0.25"/>
<rect x="276.5" y="105.9" width="1.2" height="1.2" fill="#4a4a4a" opacity="0.25"/>
<rect x="285.5" y="97.2" width="1.2" height="1.2" fill="#4a4a4a" opacity="0.25"/>
<rect x="297.4" y="97.2" width="1.2" height="1.2" fill="#4a4a4a" opacity="0.25"/>
<rect x="303.4" y="99.6" width="1.2" height="1.2" fill="#4a4a4a" opacity="0.25"/>
<rect x="295.8" y="96.2" width="1.2" height="1.2" fill="#4a4a4a" opacity="0.25"/>
<rect x="290.3" y="102.0" width="1.2" height="1.2" fill="#222" opacity="0.25"/>
<rect x="283.9" y="98.8" width="1.2" height="1.2" fill="#222" opacity="0.25"/>
<rect x="319.3" y="102.2" width="1.2" height="1.2" fill="#222" opacity="0.25"/>
<rect x="282.3" y="101.5" width="1.2" height="1.2" fill="#222" opacity="0.25"/>
<rect x="306.9" y="97.0" width="1.2" height="1.2" fill="#4a4a4a" opacity="0.25"/>
<rect x="298.2" y="98.2" width="1.2" height="1.2" fill="#4a4a4a" opacity="0.25"/>
<rect x="282.2" y="106.3" width="1.2" height="1.2" fill="#4a4a4a" opacity="0.25"/>
<rect x="304.7" y="109.3" width="1.2" height="1.2" fill="#4a4a4a" opacity="0.25"/>
<rect x="273.9" y="99.7" width="1.2" height="1.2" fill="#222" opacity="0.25"/>
<rect x="314.8" y="99.8" width="1.2" height="1.2" fill="#222" opacity="0.25"/>
<rect x="286.5" y="111.8" width="1.2" height="1.2" fill="#222" opacity="0.25"/>
<rect x="291.8" y="98.8" width="1.2" height="1.2" fill="#222" opacity="0.25"/>
<rect x="299.0" y="110.2" width="1.2" height="1.2" fill="#222" opacity="0.25"/>
<rect x="319.1" y="104.8" width="1.2" height="1.2" fill="#222" opacity="0.25"/>
<rect x="312.4" y="110.5" width="1.2" height="1.2" fill="#222" opacity="0.25"/>
<rect x="289.9" y="100.6" width="1.2" height="1.2" fill="#222" opacity="0.25"/>
<rect x="299.7" y="111.0" width="1.2" height="1.2" fill="#222" opacity="0.25"/>
<rect x="295.6" y="111.8" width="1.2" height="1.2" fill="#4a4a4a" opacity="0.25"/>
<rect x="285.8" y="103.5" width="1.2" height="1.2" fill="#4a4a4a" opacity="0.25"/>
<rect x="301.6" y="101.6" width="1.2" height="1.2" fill="#4a4a4a" opacity="0.25"/>
<rect x="271.9" y="97.8" width="1.2" height="1.2" fill="#4a4a4a" opacity="0.25"/>
<rect x="311.6" y="104.7" width="1.2" height="1.2" fill="#222" opacity="0.25"/>
<rect x="288.0" y="98.0" width="1.2" height="1.2" fill="#222" opacity="0.25"/>
<rect x="312.9" y="111.7" width="1.2" height="1.2" fill="#4a4a4a" opacity="0.25"/>
<rect x="316.7" y="109.9" width="1.2" height="1.2" fill="#4a4a4a" opacity="0.25"/>
<rect x="309.4" y="104.1" width="1.2" height="1.2" fill="#222" opacity="0.25"/>
<rect x="307.3" y="95.6" width="1.2" height="1.2" fill="#222" opacity="0.25"/>
<rect x="279.3" y="104.2" width="1.2" height="1.2" fill="#4a4a4a" opacity="0.25"/>
<rect x="309.0" y="105.4" width="1.2" height="1.2" fill="#4a4a4a" opacity="0.25"/>
<rect x="289.4" y="100.5" width="1.2" height="1.2" fill="#4a4a4a" opacity="0.25"/>
<rect x="282.8" y="111.9" width="1.2" height="1.2" fill="#4a4a4a" opacity="0.25"/>
<rect x="277.8" y="104.5" width="1.2" height="1.2" fill="#222" opacity="0.25"/>
<rect x="287.0" y="101.7" width="1.2" height="1.2" fill="#4a4a4a" opacity="0.25"/>
<rect x="314.3" y="109.0" width="1.2" height="1.2" fill="#222" opacity="0.25"/>
<rect x="288.0" y="105.7" width="1.2" height="1.2" fill="#4a4a4a" opacity="0.25"/>
<rect x="274.8" y="104.5" width="1.2" height="1.2" fill="#222" opacity="0.25"/>
<rect x="318.6" y="100.9" width="1.2" height="1.2" fill="#4a4a4a" opacity="0.25"/>
<rect x="299.2" y="111.6" width="1.2" height="1.2" fill="#4a4a4a" opacity="0.25"/>
<rect x="315.8" y="96.0" width="1.2" height="1.2" fill="#222" opacity="0.25"/>
<rect x="312.4" y="94.2" width="1.2" height="1.2" fill="#222" opacity="0.25"/>
<rect x="275.6" y="96.2" width="1.2" height="1.2" fill="#222" opacity="0.25"/>
<rect x="280.4" y="108.9" width="1.2" height="1.2" fill="#4a4a4a" opacity="0.25"/>
<rect x="279.1" y="102.6" width="1.2" height="1.2" fill="#222" opacity="0.25"/>
<rect x="278.9" y="110.1" width="1.2" height="1.2" fill="#4a4a4a" opacity="0.25"/>
<rect x="316.5" y="101.2" width="1.2" height="1.2" fill="#4a4a4a" opacity="0.25"/>
<rect x="298.5" y="107.5" width="1.2" height="1.2" fill="#4a4a4a" opacity="0.25"/>
<rect x="276.0" y="106.4" width="1.2" height="1.2" fill="#222" opacity="0.25"/>
<rect x="272.4" y="109.0" width="1.2" height="1.2" fill="#4a4a4a" opacity="0.25"/>
<rect x="307.3" y="100.1" width="1.2" height="1.2" fill="#4a4a4a" opacity="0.25"/>
<rect x="286.7" y="95.2" width="1.2" height="1.2" fill="#4a4a4a" opacity="0.25"/>
<rect x="319.5" y="112.4" width="1.2" height="1.2" fill="#222" opacity="0.25"/>
<rect x="283.5" y="108.9" width="1.2" height="1.2" fill="#4a4a4a" opacity="0.25"/>
<rect x="304.1" y="98.9" width="1.2" height="1.2" fill="#222" opacity="0.25"/>
<rect x="286.4" y="98.7" width="1.2" height="1.2" fill="#222" opacity="0.25"/>
<rect x="312.0" y="95.7" width="1.2" height="1.2" fill="#4a4a4a" opacity="0.25"/>
<rect x="275.5" y="104.9" width="1.2" height="1.2" fill="#4a4a4a" opacity="0.25"/>
<rect x="318.0" y="101.4" width="1.2" height="1.2" fill="#4a4a4a" opacity="0.25"/>
<rect x="273.1" y="97.5" width="1.2" height="1.2" fill="#4a4a4a" opacity="0.25"/>
<rect x="283.3" y="95.9" width="1.2" height="1.2" fill="#222" opacity="0.25"/>
<rect x="283.3" y="94.4" width="1.2" height="1.2" fill="#222" opacity="0.25"/>
<rect x="291.1" y="99.1" width="1.2" height="1.2" fill="#222" opacity="0.25"/>
<rect x="307.5" y="94.4" width="1.2" height="1.2" fill="#222" opacity="0.25"/>
<rect x="285.5" y="109.1" width="1.2" height="1.2" fill="#4a4a4a" opacity="0.25"/>
<rect x="294.4" y="110.3" width="1.2" height="1.2" fill="#222" opacity="0.25"/>
<rect x="296.1" y="109.1" width="1.2" height="1.2" fill="#222" opacity="0.25"/>
<rect x="296.5" y="106.6" width="1.2" height="1.2" fill="#222" opacity="0.25"/>
<rect x="309.8" y="112.7" width="1.2" height="1.2" fill="#4a4a4a" opacity="0.25"/>
<rect x="286.3" y="107.5" width="1.2" height="1.2" fill="#4a4a4a" opacity="0.25"/>
<rect x="277.3" y="97.9" width="1.2" height="1.2" fill="#222" opacity="0.25"/>
<rect x="310.0" y="109.6" width="1.2" height="1.2" fill="#222" opacity="0.25"/>
<rect x="279.9" y="102.2" width="1.2" height="1.2" fill="#222" opacity="0.25"/>
<rect x="273.4" y="110.4" width="1.2" height="1.2" fill="#222" opacity="0.25"/>
<rect x="283.6" y="95.2" width="1.2" height="1.2" fill="#4a4a4a" opacity="0.25"/>
<rect x="311.4" y="104.4" width="1.2" height="1.2" fill="#4a4a4a" opacity="0.25"/>
<path d="M273.4,109.6 L291,113.4" stroke="#d8d4b8" stroke-width="1.8"/>
<rect x="332" y="106.8" width="31" height="3.4" fill="#fff"/>
<text x="333.6" y="124.2" font-size="12.00" fill="#fff" font-weight="normal" text-anchor="start" font-family="Liberation Sans, sans-serif" textLength="28.6" lengthAdjust="spacingAndGlyphs" stroke="#fff" stroke-width="0.15">10 mm</text>
<path d="M345,18 L322,57 M326,65.5 L344,67.5" stroke="#d8c888" stroke-width="1" stroke-dasharray="2.5,1.5" fill="none"/>
<rect x="346" y="10" width="71" height="70.5" fill="#6a6a6a" opacity="0.8" filter="url(#blur2)"/>
<rect x="342.2" y="6.4" width="69.2" height="69.6" fill="url(#insetg)"/>
<rect x="352.0" y="16.6" width="12.2" height="12.1" fill="#8c88b8" filter="url(#blur05)"/>
<text transform="translate(354.00,26.20) scale(0.950,1)" font-size="9.60" fill="#1a1a24" font-weight="bold" stroke="#1a1a24" stroke-width="0.20" font-family="Liberation Sans, sans-serif">P</text>
<text transform="translate(360.20,27.20) scale(0.900,1)" font-size="5.40" fill="#1a1a24" font-weight="bold" stroke="#1a1a24" stroke-width="0.10" font-family="Liberation Sans, sans-serif">1</text>
<rect x="370.7" y="16.6" width="12.2" height="12.1" fill="#8a82aa" filter="url(#blur05)"/>
<text transform="translate(372.70,26.20) scale(0.950,1)" font-size="9.60" fill="#1a1a24" font-weight="bold" stroke="#1a1a24" stroke-width="0.20" font-family="Liberation Sans, sans-serif">P</text>
<text transform="translate(378.90,27.20) scale(0.900,1)" font-size="5.40" fill="#1a1a24" font-weight="bold" stroke="#1a1a24" stroke-width="0.10" font-family="Liberation Sans, sans-serif">2</text>
<rect x="389.4" y="16.6" width="12.2" height="12.1" fill="#8a7c9a" filter="url(#blur05)"/>
<text transform="translate(391.40,26.20) scale(0.950,1)" font-size="9.60" fill="#1a1a24" font-weight="bold" stroke="#1a1a24" stroke-width="0.20" font-family="Liberation Sans, sans-serif">P</text>
<text transform="translate(397.60,27.20) scale(0.900,1)" font-size="5.40" fill="#1a1a24" font-weight="bold" stroke="#1a1a24" stroke-width="0.10" font-family="Liberation Sans, sans-serif">3</text>
<rect x="352.0" y="35.3" width="12.2" height="12.1" fill="#807868" filter="url(#blur05)"/>
<text transform="translate(354.00,44.90) scale(0.950,1)" font-size="9.60" fill="#1a1a24" font-weight="bold" stroke="#1a1a24" stroke-width="0.20" font-family="Liberation Sans, sans-serif">P</text>
<text transform="translate(360.20,45.90) scale(0.900,1)" font-size="5.40" fill="#1a1a24" font-weight="bold" stroke="#1a1a24" stroke-width="0.10" font-family="Liberation Sans, sans-serif">4</text>
<rect x="370.7" y="35.3" width="12.2" height="12.1" fill="#857f68" filter="url(#blur05)"/>
<text transform="translate(372.70,44.90) scale(0.950,1)" font-size="9.60" fill="#1a1a24" font-weight="bold" stroke="#1a1a24" stroke-width="0.20" font-family="Liberation Sans, sans-serif">P</text>
<text transform="translate(378.90,45.90) scale(0.900,1)" font-size="5.40" fill="#1a1a24" font-weight="bold" stroke="#1a1a24" stroke-width="0.10" font-family="Liberation Sans, sans-serif">5</text>
<rect x="389.4" y="35.3" width="12.2" height="12.1" fill="#7c8060" filter="url(#blur05)"/>
<text transform="translate(391.40,44.90) scale(0.950,1)" font-size="9.60" fill="#1a1a24" font-weight="bold" stroke="#1a1a24" stroke-width="0.20" font-family="Liberation Sans, sans-serif">P</text>
<text transform="translate(397.60,45.90) scale(0.900,1)" font-size="5.40" fill="#1a1a24" font-weight="bold" stroke="#1a1a24" stroke-width="0.10" font-family="Liberation Sans, sans-serif">6</text>
<rect x="352.0" y="54.0" width="12.2" height="12.1" fill="#7e8070" filter="url(#blur05)"/>
<text transform="translate(354.00,63.60) scale(0.950,1)" font-size="9.60" fill="#1a1a24" font-weight="bold" stroke="#1a1a24" stroke-width="0.20" font-family="Liberation Sans, sans-serif">P</text>
<text transform="translate(360.20,64.60) scale(0.900,1)" font-size="5.40" fill="#1a1a24" font-weight="bold" stroke="#1a1a24" stroke-width="0.10" font-family="Liberation Sans, sans-serif">7</text>
<rect x="370.7" y="54.0" width="12.2" height="12.1" fill="#807f70" filter="url(#blur05)"/>
<text transform="translate(372.70,63.60) scale(0.950,1)" font-size="9.60" fill="#1a1a24" font-weight="bold" stroke="#1a1a24" stroke-width="0.20" font-family="Liberation Sans, sans-serif">P</text>
<text transform="translate(378.90,64.60) scale(0.900,1)" font-size="5.40" fill="#1a1a24" font-weight="bold" stroke="#1a1a24" stroke-width="0.10" font-family="Liberation Sans, sans-serif">8</text>
<rect x="389.4" y="54.0" width="12.2" height="12.1" fill="#80807a" filter="url(#blur05)"/>
<text transform="translate(391.40,63.60) scale(0.950,1)" font-size="9.60" fill="#1a1a24" font-weight="bold" stroke="#1a1a24" stroke-width="0.20" font-family="Liberation Sans, sans-serif">P</text>
<text transform="translate(397.60,64.60) scale(0.900,1)" font-size="5.40" fill="#1a1a24" font-weight="bold" stroke="#1a1a24" stroke-width="0.10" font-family="Liberation Sans, sans-serif">9</text>
<path d="M422.6,43.4 L452.0,53.9 L465.2,32.4" stroke="#d8d8d8" stroke-width="0.8" fill="none"/>
<polygon points="423.6,39.4 452.0,48.9 452.0,51.4 423.6,41.9" fill="#5a3410" />
<polygon points="452.0,48.9 463.2,27.4 463.2,29.9 452.0,51.4" fill="#4a2a0c" />
<polygon points="423.6,39.4 434.8,19.6 463.2,27.4 452.0,48.9" fill="#7a4818" />
<ellipse cx="435.6" cy="20.9" rx="1.01" ry="0.68" fill="#b8702c"/>
<ellipse cx="435.6" cy="19.4" rx="0.75" ry="2.08" fill="#e8b058"/>
<ellipse cx="435.6" cy="18.5" rx="0.38" ry="0.91" fill="#fbe0a0"/>
<ellipse cx="438.2" cy="21.8" rx="1.01" ry="0.68" fill="#b8702c"/>
<ellipse cx="438.2" cy="20.2" rx="0.75" ry="2.08" fill="#e8b058"/>
<ellipse cx="438.2" cy="19.3" rx="0.38" ry="0.91" fill="#fbe0a0"/>
<ellipse cx="440.7" cy="22.7" rx="1.01" ry="0.68" fill="#b8702c"/>
<ellipse cx="440.7" cy="21.1" rx="0.75" ry="2.08" fill="#e8b058"/>
<ellipse cx="440.7" cy="20.2" rx="0.38" ry="0.91" fill="#fbe0a0"/>
<ellipse cx="443.3" cy="23.5" rx="1.01" ry="0.68" fill="#b8702c"/>
<ellipse cx="443.3" cy="22.0" rx="0.75" ry="2.08" fill="#e8b058"/>
<ellipse cx="443.3" cy="21.1" rx="0.38" ry="0.91" fill="#fbe0a0"/>
<ellipse cx="445.9" cy="24.4" rx="1.01" ry="0.68" fill="#b8702c"/>
<ellipse cx="445.9" cy="22.8" rx="0.75" ry="2.08" fill="#e8b058"/>
<ellipse cx="445.9" cy="21.9" rx="0.38" ry="0.91" fill="#fbe0a0"/>
<ellipse cx="448.5" cy="25.2" rx="1.01" ry="0.68" fill="#b8702c"/>
<ellipse cx="448.5" cy="23.7" rx="0.75" ry="2.08" fill="#e8b058"/>
<ellipse cx="448.5" cy="22.8" rx="0.38" ry="0.91" fill="#fbe0a0"/>
<ellipse cx="451.1" cy="26.1" rx="1.01" ry="0.68" fill="#b8702c"/>
<ellipse cx="451.1" cy="24.6" rx="0.75" ry="2.08" fill="#e8b058"/>
<ellipse cx="451.1" cy="23.6" rx="0.38" ry="0.91" fill="#fbe0a0"/>
<ellipse cx="453.7" cy="27.0" rx="1.01" ry="0.68" fill="#b8702c"/>
<ellipse cx="453.7" cy="25.4" rx="0.75" ry="2.08" fill="#e8b058"/>
<ellipse cx="453.7" cy="24.5" rx="0.38" ry="0.91" fill="#fbe0a0"/>
<ellipse cx="456.2" cy="27.8" rx="1.01" ry="0.68" fill="#b8702c"/>
<ellipse cx="456.2" cy="26.3" rx="0.75" ry="2.08" fill="#e8b058"/>
<ellipse cx="456.2" cy="25.4" rx="0.38" ry="0.91" fill="#fbe0a0"/>
<ellipse cx="458.8" cy="28.7" rx="1.01" ry="0.68" fill="#b8702c"/>
<ellipse cx="458.8" cy="27.1" rx="0.75" ry="2.08" fill="#e8b058"/>
<ellipse cx="458.8" cy="26.2" rx="0.38" ry="0.91" fill="#fbe0a0"/>
<ellipse cx="461.4" cy="29.6" rx="1.01" ry="0.68" fill="#b8702c"/>
<ellipse cx="461.4" cy="28.0" rx="0.75" ry="2.08" fill="#e8b058"/>
<ellipse cx="461.4" cy="27.1" rx="0.38" ry="0.91" fill="#fbe0a0"/>
<ellipse cx="434.6" cy="22.7" rx="1.01" ry="0.68" fill="#b8702c"/>
<ellipse cx="434.6" cy="21.2" rx="0.75" ry="2.08" fill="#e8b058"/>
<ellipse cx="434.6" cy="20.3" rx="0.38" ry="0.91" fill="#fbe0a0"/>
<ellipse cx="437.1" cy="23.6" rx="1.01" ry="0.68" fill="#b8702c"/>
<ellipse cx="437.1" cy="22.0" rx="0.75" ry="2.08" fill="#e8b058"/>
<ellipse cx="437.1" cy="21.1" rx="0.38" ry="0.91" fill="#fbe0a0"/>
<ellipse cx="439.7" cy="24.5" rx="1.01" ry="0.68" fill="#b8702c"/>
<ellipse cx="439.7" cy="22.9" rx="0.75" ry="2.08" fill="#e8b058"/>
<ellipse cx="439.7" cy="22.0" rx="0.38" ry="0.91" fill="#fbe0a0"/>
<ellipse cx="442.3" cy="25.3" rx="1.01" ry="0.68" fill="#b8702c"/>
<ellipse cx="442.3" cy="23.8" rx="0.75" ry="2.08" fill="#e8b058"/>
<ellipse cx="442.3" cy="22.9" rx="0.38" ry="0.91" fill="#fbe0a0"/>
<ellipse cx="444.9" cy="26.2" rx="1.01" ry="0.68" fill="#b8702c"/>
<ellipse cx="444.9" cy="24.6" rx="0.75" ry="2.08" fill="#e8b058"/>
<ellipse cx="444.9" cy="23.7" rx="0.38" ry="0.91" fill="#fbe0a0"/>
<ellipse cx="447.5" cy="27.1" rx="1.01" ry="0.68" fill="#b8702c"/>
<ellipse cx="447.5" cy="25.5" rx="0.75" ry="2.08" fill="#e8b058"/>
<ellipse cx="447.5" cy="24.6" rx="0.38" ry="0.91" fill="#fbe0a0"/>
<ellipse cx="450.1" cy="27.9" rx="1.01" ry="0.68" fill="#b8702c"/>
<ellipse cx="450.1" cy="26.4" rx="0.75" ry="2.08" fill="#e8b058"/>
<ellipse cx="450.1" cy="25.4" rx="0.38" ry="0.91" fill="#fbe0a0"/>
<ellipse cx="452.6" cy="28.8" rx="1.01" ry="0.68" fill="#b8702c"/>
<ellipse cx="452.6" cy="27.2" rx="0.75" ry="2.08" fill="#e8b058"/>
<ellipse cx="452.6" cy="26.3" rx="0.38" ry="0.91" fill="#fbe0a0"/>
<ellipse cx="455.2" cy="29.6" rx="1.01" ry="0.68" fill="#b8702c"/>
<ellipse cx="455.2" cy="28.1" rx="0.75" ry="2.08" fill="#e8b058"/>
<ellipse cx="455.2" cy="27.2" rx="0.38" ry="0.91" fill="#fbe0a0"/>
<ellipse cx="457.8" cy="30.5" rx="1.01" ry="0.68" fill="#b8702c"/>
<ellipse cx="457.8" cy="28.9" rx="0.75" ry="2.08" fill="#e8b058"/>
<ellipse cx="457.8" cy="28.0" rx="0.38" ry="0.91" fill="#fbe0a0"/>
<ellipse cx="460.4" cy="31.4" rx="1.01" ry="0.68" fill="#b8702c"/>
<ellipse cx="460.4" cy="29.8" rx="0.75" ry="2.08" fill="#e8b058"/>
<ellipse cx="460.4" cy="28.9" rx="0.38" ry="0.91" fill="#fbe0a0"/>
<ellipse cx="433.5" cy="24.5" rx="1.01" ry="0.68" fill="#b8702c"/>
<ellipse cx="433.5" cy="23.0" rx="0.75" ry="2.08" fill="#e8b058"/>
<ellipse cx="433.5" cy="22.1" rx="0.38" ry="0.91" fill="#fbe0a0"/>
<ellipse cx="436.1" cy="25.4" rx="1.01" ry="0.68" fill="#b8702c"/>
<ellipse cx="436.1" cy="23.8" rx="0.75" ry="2.08" fill="#e8b058"/>
<ellipse cx="436.1" cy="22.9" rx="0.38" ry="0.91" fill="#fbe0a0"/>
<ellipse cx="438.7" cy="26.3" rx="1.01" ry="0.68" fill="#b8702c"/>
<ellipse cx="438.7" cy="24.7" rx="0.75" ry="2.08" fill="#e8b058"/>
<ellipse cx="438.7" cy="23.8" rx="0.38" ry="0.91" fill="#fbe0a0"/>
<ellipse cx="441.3" cy="27.1" rx="1.01" ry="0.68" fill="#b8702c"/>
<ellipse cx="441.3" cy="25.6" rx="0.75" ry="2.08" fill="#e8b058"/>
<ellipse cx="441.3" cy="24.7" rx="0.38" ry="0.91" fill="#fbe0a0"/>
<ellipse cx="443.9" cy="28.0" rx="1.01" ry="0.68" fill="#b8702c"/>
<ellipse cx="443.9" cy="26.4" rx="0.75" ry="2.08" fill="#e8b058"/>
<ellipse cx="443.9" cy="25.5" rx="0.38" ry="0.91" fill="#fbe0a0"/>
<ellipse cx="446.5" cy="28.9" rx="1.01" ry="0.68" fill="#b8702c"/>
<ellipse cx="446.5" cy="27.3" rx="0.75" ry="2.08" fill="#e8b058"/>
<ellipse cx="446.5" cy="26.4" rx="0.38" ry="0.91" fill="#fbe0a0"/>
<ellipse cx="449.0" cy="29.7" rx="1.01" ry="0.68" fill="#b8702c"/>
<ellipse cx="449.0" cy="28.2" rx="0.75" ry="2.08" fill="#e8b058"/>
<ellipse cx="449.0" cy="27.2" rx="0.38" ry="0.91" fill="#fbe0a0"/>
<ellipse cx="451.6" cy="30.6" rx="1.01" ry="0.68" fill="#b8702c"/>
<ellipse cx="451.6" cy="29.0" rx="0.75" ry="2.08" fill="#e8b058"/>
<ellipse cx="451.6" cy="28.1" rx="0.38" ry="0.91" fill="#fbe0a0"/>
<ellipse cx="454.2" cy="31.4" rx="1.01" ry="0.68" fill="#b8702c"/>
<ellipse cx="454.2" cy="29.9" rx="0.75" ry="2.08" fill="#e8b058"/>
<ellipse cx="454.2" cy="29.0" rx="0.38" ry="0.91" fill="#fbe0a0"/>
<ellipse cx="456.8" cy="32.3" rx="1.01" ry="0.68" fill="#b8702c"/>
<ellipse cx="456.8" cy="30.7" rx="0.75" ry="2.08" fill="#e8b058"/>
<ellipse cx="456.8" cy="29.8" rx="0.38" ry="0.91" fill="#fbe0a0"/>
<ellipse cx="459.4" cy="33.2" rx="1.01" ry="0.68" fill="#b8702c"/>
<ellipse cx="459.4" cy="31.6" rx="0.75" ry="2.08" fill="#e8b058"/>
<ellipse cx="459.4" cy="30.7" rx="0.38" ry="0.91" fill="#fbe0a0"/>
<ellipse cx="432.5" cy="26.3" rx="1.01" ry="0.68" fill="#b8702c"/>
<ellipse cx="432.5" cy="24.8" rx="0.75" ry="2.08" fill="#e8b058"/>
<ellipse cx="432.5" cy="23.9" rx="0.38" ry="0.91" fill="#fbe0a0"/>
<ellipse cx="435.1" cy="27.2" rx="1.01" ry="0.68" fill="#b8702c"/>
<ellipse cx="435.1" cy="25.6" rx="0.75" ry="2.08" fill="#e8b058"/>
<ellipse cx="435.1" cy="24.7" rx="0.38" ry="0.91" fill="#fbe0a0"/>
<ellipse cx="437.7" cy="28.1" rx="1.01" ry="0.68" fill="#b8702c"/>
<ellipse cx="437.7" cy="26.5" rx="0.75" ry="2.08" fill="#e8b058"/>
<ellipse cx="437.7" cy="25.6" rx="0.38" ry="0.91" fill="#fbe0a0"/>
<ellipse cx="440.3" cy="28.9" rx="1.01" ry="0.68" fill="#b8702c"/>
<ellipse cx="440.3" cy="27.4" rx="0.75" ry="2.08" fill="#e8b058"/>
<ellipse cx="440.3" cy="26.5" rx="0.38" ry="0.91" fill="#fbe0a0"/>
<ellipse cx="442.9" cy="29.8" rx="1.01" ry="0.68" fill="#b8702c"/>
<ellipse cx="442.9" cy="28.2" rx="0.75" ry="2.08" fill="#e8b058"/>
<ellipse cx="442.9" cy="27.3" rx="0.38" ry="0.91" fill="#fbe0a0"/>
<ellipse cx="445.4" cy="30.7" rx="1.01" ry="0.68" fill="#b8702c"/>
<ellipse cx="445.4" cy="29.1" rx="0.75" ry="2.08" fill="#e8b058"/>
<ellipse cx="445.4" cy="28.2" rx="0.38" ry="0.91" fill="#fbe0a0"/>
<ellipse cx="448.0" cy="31.5" rx="1.01" ry="0.68" fill="#b8702c"/>
<ellipse cx="448.0" cy="30.0" rx="0.75" ry="2.08" fill="#e8b058"/>
<ellipse cx="448.0" cy="29.0" rx="0.38" ry="0.91" fill="#fbe0a0"/>
<ellipse cx="450.6" cy="32.4" rx="1.01" ry="0.68" fill="#b8702c"/>
<ellipse cx="450.6" cy="30.8" rx="0.75" ry="2.08" fill="#e8b058"/>
<ellipse cx="450.6" cy="29.9" rx="0.38" ry="0.91" fill="#fbe0a0"/>
<ellipse cx="453.2" cy="33.2" rx="1.01" ry="0.68" fill="#b8702c"/>
<ellipse cx="453.2" cy="31.7" rx="0.75" ry="2.08" fill="#e8b058"/>
<ellipse cx="453.2" cy="30.8" rx="0.38" ry="0.91" fill="#fbe0a0"/>
<ellipse cx="455.8" cy="34.1" rx="1.01" ry="0.68" fill="#b8702c"/>
<ellipse cx="455.8" cy="32.5" rx="0.75" ry="2.08" fill="#e8b058"/>
<ellipse cx="455.8" cy="31.6" rx="0.38" ry="0.91" fill="#fbe0a0"/>
<ellipse cx="458.3" cy="35.0" rx="1.01" ry="0.68" fill="#b8702c"/>
<ellipse cx="458.3" cy="33.4" rx="0.75" ry="2.08" fill="#e8b058"/>
<ellipse cx="458.3" cy="32.5" rx="0.38" ry="0.91" fill="#fbe0a0"/>
<ellipse cx="431.5" cy="28.1" rx="1.01" ry="0.68" fill="#b8702c"/>
<ellipse cx="431.5" cy="26.6" rx="0.75" ry="2.08" fill="#e8b058"/>
<ellipse cx="431.5" cy="25.7" rx="0.38" ry="0.91" fill="#fbe0a0"/>
<ellipse cx="434.1" cy="29.0" rx="1.01" ry="0.68" fill="#b8702c"/>
<ellipse cx="434.1" cy="27.4" rx="0.75" ry="2.08" fill="#e8b058"/>
<ellipse cx="434.1" cy="26.5" rx="0.38" ry="0.91" fill="#fbe0a0"/>
<ellipse cx="436.7" cy="29.9" rx="1.01" ry="0.68" fill="#b8702c"/>
<ellipse cx="436.7" cy="28.3" rx="0.75" ry="2.08" fill="#e8b058"/>
<ellipse cx="436.7" cy="27.4" rx="0.38" ry="0.91" fill="#fbe0a0"/>
<ellipse cx="439.3" cy="30.7" rx="1.01" ry="0.68" fill="#b8702c"/>
<ellipse cx="439.3" cy="29.2" rx="0.75" ry="2.08" fill="#e8b058"/>
<ellipse cx="439.3" cy="28.3" rx="0.38" ry="0.91" fill="#fbe0a0"/>
<ellipse cx="441.8" cy="31.6" rx="1.01" ry="0.68" fill="#b8702c"/>
<ellipse cx="441.8" cy="30.0" rx="0.75" ry="2.08" fill="#e8b058"/>
<ellipse cx="441.8" cy="29.1" rx="0.38" ry="0.91" fill="#fbe0a0"/>
<ellipse cx="444.4" cy="32.5" rx="1.01" ry="0.68" fill="#b8702c"/>
<ellipse cx="444.4" cy="30.9" rx="0.75" ry="2.08" fill="#e8b058"/>
<ellipse cx="444.4" cy="30.0" rx="0.38" ry="0.91" fill="#fbe0a0"/>
<ellipse cx="447.0" cy="33.3" rx="1.01" ry="0.68" fill="#b8702c"/>
<ellipse cx="447.0" cy="31.8" rx="0.75" ry="2.08" fill="#e8b058"/>
<ellipse cx="447.0" cy="30.8" rx="0.38" ry="0.91" fill="#fbe0a0"/>
<ellipse cx="449.6" cy="34.2" rx="1.01" ry="0.68" fill="#b8702c"/>
<ellipse cx="449.6" cy="32.6" rx="0.75" ry="2.08" fill="#e8b058"/>
<ellipse cx="449.6" cy="31.7" rx="0.38" ry="0.91" fill="#fbe0a0"/>
<ellipse cx="452.2" cy="35.0" rx="1.01" ry="0.68" fill="#b8702c"/>
<ellipse cx="452.2" cy="33.5" rx="0.75" ry="2.08" fill="#e8b058"/>
<ellipse cx="452.2" cy="32.6" rx="0.38" ry="0.91" fill="#fbe0a0"/>
<ellipse cx="454.7" cy="35.9" rx="1.01" ry="0.68" fill="#b8702c"/>
<ellipse cx="454.7" cy="34.3" rx="0.75" ry="2.08" fill="#e8b058"/>
<ellipse cx="454.7" cy="33.4" rx="0.38" ry="0.91" fill="#fbe0a0"/>
<ellipse cx="457.3" cy="36.8" rx="1.01" ry="0.68" fill="#b8702c"/>
<ellipse cx="457.3" cy="35.2" rx="0.75" ry="2.08" fill="#e8b058"/>
<ellipse cx="457.3" cy="34.3" rx="0.38" ry="0.91" fill="#fbe0a0"/>
<ellipse cx="430.5" cy="29.9" rx="1.01" ry="0.68" fill="#b8702c"/>
<ellipse cx="430.5" cy="28.4" rx="0.75" ry="2.08" fill="#e8b058"/>
<ellipse cx="430.5" cy="27.5" rx="0.38" ry="0.91" fill="#fbe0a0"/>
<ellipse cx="433.1" cy="30.8" rx="1.01" ry="0.68" fill="#b8702c"/>
<ellipse cx="433.1" cy="29.2" rx="0.75" ry="2.08" fill="#e8b058"/>
<ellipse cx="433.1" cy="28.3" rx="0.38" ry="0.91" fill="#fbe0a0"/>
<ellipse cx="435.7" cy="31.7" rx="1.01" ry="0.68" fill="#b8702c"/>
<ellipse cx="435.7" cy="30.1" rx="0.75" ry="2.08" fill="#e8b058"/>
<ellipse cx="435.7" cy="29.2" rx="0.38" ry="0.91" fill="#fbe0a0"/>
<ellipse cx="438.2" cy="32.5" rx="1.01" ry="0.68" fill="#b8702c"/>
<ellipse cx="438.2" cy="31.0" rx="0.75" ry="2.08" fill="#e8b058"/>
<ellipse cx="438.2" cy="30.1" rx="0.38" ry="0.91" fill="#fbe0a0"/>
<ellipse cx="440.8" cy="33.4" rx="1.01" ry="0.68" fill="#b8702c"/>
<ellipse cx="440.8" cy="31.8" rx="0.75" ry="2.08" fill="#e8b058"/>
<ellipse cx="440.8" cy="30.9" rx="0.38" ry="0.91" fill="#fbe0a0"/>
<ellipse cx="443.4" cy="34.2" rx="1.01" ry="0.68" fill="#b8702c"/>
<ellipse cx="443.4" cy="32.7" rx="0.75" ry="2.08" fill="#e8b058"/>
<ellipse cx="443.4" cy="31.8" rx="0.38" ry="0.91" fill="#fbe0a0"/>
<ellipse cx="446.0" cy="35.1" rx="1.01" ry="0.68" fill="#b8702c"/>
<ellipse cx="446.0" cy="33.6" rx="0.75" ry="2.08" fill="#e8b058"/>
<ellipse cx="446.0" cy="32.6" rx="0.38" ry="0.91" fill="#fbe0a0"/>
<ellipse cx="448.6" cy="36.0" rx="1.01" ry="0.68" fill="#b8702c"/>
<ellipse cx="448.6" cy="34.4" rx="0.75" ry="2.08" fill="#e8b058"/>
<ellipse cx="448.6" cy="33.5" rx="0.38" ry="0.91" fill="#fbe0a0"/>
<ellipse cx="451.1" cy="36.8" rx="1.01" ry="0.68" fill="#b8702c"/>
<ellipse cx="451.1" cy="35.3" rx="0.75" ry="2.08" fill="#e8b058"/>
<ellipse cx="451.1" cy="34.4" rx="0.38" ry="0.91" fill="#fbe0a0"/>
<ellipse cx="453.7" cy="37.7" rx="1.01" ry="0.68" fill="#b8702c"/>
<ellipse cx="453.7" cy="36.1" rx="0.75" ry="2.08" fill="#e8b058"/>
<ellipse cx="453.7" cy="35.2" rx="0.38" ry="0.91" fill="#fbe0a0"/>
<ellipse cx="456.3" cy="38.6" rx="1.01" ry="0.68" fill="#b8702c"/>
<ellipse cx="456.3" cy="37.0" rx="0.75" ry="2.08" fill="#e8b058"/>
<ellipse cx="456.3" cy="36.1" rx="0.38" ry="0.91" fill="#fbe0a0"/>
<ellipse cx="429.5" cy="31.7" rx="1.01" ry="0.68" fill="#b8702c"/>
<ellipse cx="429.5" cy="30.2" rx="0.75" ry="2.08" fill="#e8b058"/>
<ellipse cx="429.5" cy="29.3" rx="0.38" ry="0.91" fill="#fbe0a0"/>
<ellipse cx="432.1" cy="32.6" rx="1.01" ry="0.68" fill="#b8702c"/>
<ellipse cx="432.1" cy="31.0" rx="0.75" ry="2.08" fill="#e8b058"/>
<ellipse cx="432.1" cy="30.1" rx="0.38" ry="0.91" fill="#fbe0a0"/>
<ellipse cx="434.6" cy="33.5" rx="1.01" ry="0.68" fill="#b8702c"/>
<ellipse cx="434.6" cy="31.9" rx="0.75" ry="2.08" fill="#e8b058"/>
<ellipse cx="434.6" cy="31.0" rx="0.38" ry="0.91" fill="#fbe0a0"/>
<ellipse cx="437.2" cy="34.3" rx="1.01" ry="0.68" fill="#b8702c"/>
<ellipse cx="437.2" cy="32.8" rx="0.75" ry="2.08" fill="#e8b058"/>
<ellipse cx="437.2" cy="31.9" rx="0.38" ry="0.91" fill="#fbe0a0"/>
<ellipse cx="439.8" cy="35.2" rx="1.01" ry="0.68" fill="#b8702c"/>
<ellipse cx="439.8" cy="33.6" rx="0.75" ry="2.08" fill="#e8b058"/>
<ellipse cx="439.8" cy="32.7" rx="0.38" ry="0.91" fill="#fbe0a0"/>
<ellipse cx="442.4" cy="36.1" rx="1.01" ry="0.68" fill="#b8702c"/>
<ellipse cx="442.4" cy="34.5" rx="0.75" ry="2.08" fill="#e8b058"/>
<ellipse cx="442.4" cy="33.6" rx="0.38" ry="0.91" fill="#fbe0a0"/>
<ellipse cx="445.0" cy="36.9" rx="1.01" ry="0.68" fill="#b8702c"/>
<ellipse cx="445.0" cy="35.4" rx="0.75" ry="2.08" fill="#e8b058"/>
<ellipse cx="445.0" cy="34.4" rx="0.38" ry="0.91" fill="#fbe0a0"/>
<ellipse cx="447.5" cy="37.8" rx="1.01" ry="0.68" fill="#b8702c"/>
<ellipse cx="447.5" cy="36.2" rx="0.75" ry="2.08" fill="#e8b058"/>
<ellipse cx="447.5" cy="35.3" rx="0.38" ry="0.91" fill="#fbe0a0"/>
<ellipse cx="450.1" cy="38.6" rx="1.01" ry="0.68" fill="#b8702c"/>
<ellipse cx="450.1" cy="37.1" rx="0.75" ry="2.08" fill="#e8b058"/>
<ellipse cx="450.1" cy="36.2" rx="0.38" ry="0.91" fill="#fbe0a0"/>
<ellipse cx="452.7" cy="39.5" rx="1.01" ry="0.68" fill="#b8702c"/>
<ellipse cx="452.7" cy="37.9" rx="0.75" ry="2.08" fill="#e8b058"/>
<ellipse cx="452.7" cy="37.0" rx="0.38" ry="0.91" fill="#fbe0a0"/>
<ellipse cx="455.3" cy="40.4" rx="1.01" ry="0.68" fill="#b8702c"/>
<ellipse cx="455.3" cy="38.8" rx="0.75" ry="2.08" fill="#e8b058"/>
<ellipse cx="455.3" cy="37.9" rx="0.38" ry="0.91" fill="#fbe0a0"/>
<ellipse cx="428.5" cy="33.5" rx="1.01" ry="0.68" fill="#b8702c"/>
<ellipse cx="428.5" cy="32.0" rx="0.75" ry="2.08" fill="#e8b058"/>
<ellipse cx="428.5" cy="31.1" rx="0.38" ry="0.91" fill="#fbe0a0"/>
<ellipse cx="431.0" cy="34.4" rx="1.01" ry="0.68" fill="#b8702c"/>
<ellipse cx="431.0" cy="32.8" rx="0.75" ry="2.08" fill="#e8b058"/>
<ellipse cx="431.0" cy="31.9" rx="0.38" ry="0.91" fill="#fbe0a0"/>
<ellipse cx="433.6" cy="35.3" rx="1.01" ry="0.68" fill="#b8702c"/>
<ellipse cx="433.6" cy="33.7" rx="0.75" ry="2.08" fill="#e8b058"/>
<ellipse cx="433.6" cy="32.8" rx="0.38" ry="0.91" fill="#fbe0a0"/>
<ellipse cx="436.2" cy="36.1" rx="1.01" ry="0.68" fill="#b8702c"/>
<ellipse cx="436.2" cy="34.6" rx="0.75" ry="2.08" fill="#e8b058"/>
<ellipse cx="436.2" cy="33.7" rx="0.38" ry="0.91" fill="#fbe0a0"/>
<ellipse cx="438.8" cy="37.0" rx="1.01" ry="0.68" fill="#b8702c"/>
<ellipse cx="438.8" cy="35.4" rx="0.75" ry="2.08" fill="#e8b058"/>
<ellipse cx="438.8" cy="34.5" rx="0.38" ry="0.91" fill="#fbe0a0"/>
<ellipse cx="441.4" cy="37.9" rx="1.01" ry="0.68" fill="#b8702c"/>
<ellipse cx="441.4" cy="36.3" rx="0.75" ry="2.08" fill="#e8b058"/>
<ellipse cx="441.4" cy="35.4" rx="0.38" ry="0.91" fill="#fbe0a0"/>
<ellipse cx="443.9" cy="38.7" rx="1.01" ry="0.68" fill="#b8702c"/>
<ellipse cx="443.9" cy="37.2" rx="0.75" ry="2.08" fill="#e8b058"/>
<ellipse cx="443.9" cy="36.2" rx="0.38" ry="0.91" fill="#fbe0a0"/>
<ellipse cx="446.5" cy="39.6" rx="1.01" ry="0.68" fill="#b8702c"/>
<ellipse cx="446.5" cy="38.0" rx="0.75" ry="2.08" fill="#e8b058"/>
<ellipse cx="446.5" cy="37.1" rx="0.38" ry="0.91" fill="#fbe0a0"/>
<ellipse cx="449.1" cy="40.4" rx="1.01" ry="0.68" fill="#b8702c"/>
<ellipse cx="449.1" cy="38.9" rx="0.75" ry="2.08" fill="#e8b058"/>
<ellipse cx="449.1" cy="38.0" rx="0.38" ry="0.91" fill="#fbe0a0"/>
<ellipse cx="451.7" cy="41.3" rx="1.01" ry="0.68" fill="#b8702c"/>
<ellipse cx="451.7" cy="39.7" rx="0.75" ry="2.08" fill="#e8b058"/>
<ellipse cx="451.7" cy="38.8" rx="0.38" ry="0.91" fill="#fbe0a0"/>
<ellipse cx="454.3" cy="42.2" rx="1.01" ry="0.68" fill="#b8702c"/>
<ellipse cx="454.3" cy="40.6" rx="0.75" ry="2.08" fill="#e8b058"/>
<ellipse cx="454.3" cy="39.7" rx="0.38" ry="0.91" fill="#fbe0a0"/>
<ellipse cx="427.4" cy="35.3" rx="1.01" ry="0.68" fill="#b8702c"/>
<ellipse cx="427.4" cy="33.8" rx="0.75" ry="2.08" fill="#e8b058"/>
<ellipse cx="427.4" cy="32.9" rx="0.38" ry="0.91" fill="#fbe0a0"/>
<ellipse cx="430.0" cy="36.2" rx="1.01" ry="0.68" fill="#b8702c"/>
<ellipse cx="430.0" cy="34.6" rx="0.75" ry="2.08" fill="#e8b058"/>
<ellipse cx="430.0" cy="33.7" rx="0.38" ry="0.91" fill="#fbe0a0"/>
<ellipse cx="432.6" cy="37.1" rx="1.01" ry="0.68" fill="#b8702c"/>
<ellipse cx="432.6" cy="35.5" rx="0.75" ry="2.08" fill="#e8b058"/>
<ellipse cx="432.6" cy="34.6" rx="0.38" ry="0.91" fill="#fbe0a0"/>
<ellipse cx="435.2" cy="37.9" rx="1.01" ry="0.68" fill="#b8702c"/>
<ellipse cx="435.2" cy="36.4" rx="0.75" ry="2.08" fill="#e8b058"/>
<ellipse cx="435.2" cy="35.5" rx="0.38" ry="0.91" fill="#fbe0a0"/>
<ellipse cx="437.8" cy="38.8" rx="1.01" ry="0.68" fill="#b8702c"/>
<ellipse cx="437.8" cy="37.2" rx="0.75" ry="2.08" fill="#e8b058"/>
<ellipse cx="437.8" cy="36.3" rx="0.38" ry="0.91" fill="#fbe0a0"/>
<ellipse cx="440.3" cy="39.7" rx="1.01" ry="0.68" fill="#b8702c"/>
<ellipse cx="440.3" cy="38.1" rx="0.75" ry="2.08" fill="#e8b058"/>
<ellipse cx="440.3" cy="37.2" rx="0.38" ry="0.91" fill="#fbe0a0"/>
<ellipse cx="442.9" cy="40.5" rx="1.01" ry="0.68" fill="#b8702c"/>
<ellipse cx="442.9" cy="39.0" rx="0.75" ry="2.08" fill="#e8b058"/>
<ellipse cx="442.9" cy="38.0" rx="0.38" ry="0.91" fill="#fbe0a0"/>
<ellipse cx="445.5" cy="41.4" rx="1.01" ry="0.68" fill="#b8702c"/>
<ellipse cx="445.5" cy="39.8" rx="0.75" ry="2.08" fill="#e8b058"/>
<ellipse cx="445.5" cy="38.9" rx="0.38" ry="0.91" fill="#fbe0a0"/>
<ellipse cx="448.1" cy="42.2" rx="1.01" ry="0.68" fill="#b8702c"/>
<ellipse cx="448.1" cy="40.7" rx="0.75" ry="2.08" fill="#e8b058"/>
<ellipse cx="448.1" cy="39.8" rx="0.38" ry="0.91" fill="#fbe0a0"/>
<ellipse cx="450.7" cy="43.1" rx="1.01" ry="0.68" fill="#b8702c"/>
<ellipse cx="450.7" cy="41.5" rx="0.75" ry="2.08" fill="#e8b058"/>
<ellipse cx="450.7" cy="40.6" rx="0.38" ry="0.91" fill="#fbe0a0"/>
<ellipse cx="453.3" cy="44.0" rx="1.01" ry="0.68" fill="#b8702c"/>
<ellipse cx="453.3" cy="42.4" rx="0.75" ry="2.08" fill="#e8b058"/>
<ellipse cx="453.3" cy="41.5" rx="0.38" ry="0.91" fill="#fbe0a0"/>
<ellipse cx="426.4" cy="37.1" rx="1.01" ry="0.68" fill="#b8702c"/>
<ellipse cx="426.4" cy="35.6" rx="0.75" ry="2.08" fill="#e8b058"/>
<ellipse cx="426.4" cy="34.7" rx="0.38" ry="0.91" fill="#fbe0a0"/>
<ellipse cx="429.0" cy="38.0" rx="1.01" ry="0.68" fill="#b8702c"/>
<ellipse cx="429.0" cy="36.4" rx="0.75" ry="2.08" fill="#e8b058"/>
<ellipse cx="429.0" cy="35.5" rx="0.38" ry="0.91" fill="#fbe0a0"/>
<ellipse cx="431.6" cy="38.9" rx="1.01" ry="0.68" fill="#b8702c"/>
<ellipse cx="431.6" cy="37.3" rx="0.75" ry="2.08" fill="#e8b058"/>
<ellipse cx="431.6" cy="36.4" rx="0.38" ry="0.91" fill="#fbe0a0"/>
<ellipse cx="434.2" cy="39.7" rx="1.01" ry="0.68" fill="#b8702c"/>
<ellipse cx="434.2" cy="38.2" rx="0.75" ry="2.08" fill="#e8b058"/>
<ellipse cx="434.2" cy="37.3" rx="0.38" ry="0.91" fill="#fbe0a0"/>
<ellipse cx="436.7" cy="40.6" rx="1.01" ry="0.68" fill="#b8702c"/>
<ellipse cx="436.7" cy="39.0" rx="0.75" ry="2.08" fill="#e8b058"/>
<ellipse cx="436.7" cy="38.1" rx="0.38" ry="0.91" fill="#fbe0a0"/>
<ellipse cx="439.3" cy="41.5" rx="1.01" ry="0.68" fill="#b8702c"/>
<ellipse cx="439.3" cy="39.9" rx="0.75" ry="2.08" fill="#e8b058"/>
<ellipse cx="439.3" cy="39.0" rx="0.38" ry="0.91" fill="#fbe0a0"/>
<ellipse cx="441.9" cy="42.3" rx="1.01" ry="0.68" fill="#b8702c"/>
<ellipse cx="441.9" cy="40.8" rx="0.75" ry="2.08" fill="#e8b058"/>
<ellipse cx="441.9" cy="39.8" rx="0.38" ry="0.91" fill="#fbe0a0"/>
<ellipse cx="444.5" cy="43.2" rx="1.01" ry="0.68" fill="#b8702c"/>
<ellipse cx="444.5" cy="41.6" rx="0.75" ry="2.08" fill="#e8b058"/>
<ellipse cx="444.5" cy="40.7" rx="0.38" ry="0.91" fill="#fbe0a0"/>
<ellipse cx="447.1" cy="44.0" rx="1.01" ry="0.68" fill="#b8702c"/>
<ellipse cx="447.1" cy="42.5" rx="0.75" ry="2.08" fill="#e8b058"/>
<ellipse cx="447.1" cy="41.6" rx="0.38" ry="0.91" fill="#fbe0a0"/>
<ellipse cx="449.7" cy="44.9" rx="1.01" ry="0.68" fill="#b8702c"/>
<ellipse cx="449.7" cy="43.3" rx="0.75" ry="2.08" fill="#e8b058"/>
<ellipse cx="449.7" cy="42.4" rx="0.38" ry="0.91" fill="#fbe0a0"/>
<ellipse cx="452.2" cy="45.8" rx="1.01" ry="0.68" fill="#b8702c"/>
<ellipse cx="452.2" cy="44.2" rx="0.75" ry="2.08" fill="#e8b058"/>
<ellipse cx="452.2" cy="43.3" rx="0.38" ry="0.91" fill="#fbe0a0"/>
<ellipse cx="425.4" cy="38.9" rx="1.01" ry="0.68" fill="#b8702c"/>
<ellipse cx="425.4" cy="37.4" rx="0.75" ry="2.08" fill="#e8b058"/>
<ellipse cx="425.4" cy="36.5" rx="0.38" ry="0.91" fill="#fbe0a0"/>
<ellipse cx="428.0" cy="39.8" rx="1.01" ry="0.68" fill="#b8702c"/>
<ellipse cx="428.0" cy="38.2" rx="0.75" ry="2.08" fill="#e8b058"/>
<ellipse cx="428.0" cy="37.3" rx="0.38" ry="0.91" fill="#fbe0a0"/>
<ellipse cx="430.6" cy="40.7" rx="1.01" ry="0.68" fill="#b8702c"/>
<ellipse cx="430.6" cy="39.1" rx="0.75" ry="2.08" fill="#e8b058"/>
<ellipse cx="430.6" cy="38.2" rx="0.38" ry="0.91" fill="#fbe0a0"/>
<ellipse cx="433.1" cy="41.5" rx="1.01" ry="0.68" fill="#b8702c"/>
<ellipse cx="433.1" cy="40.0" rx="0.75" ry="2.08" fill="#e8b058"/>
<ellipse cx="433.1" cy="39.1" rx="0.38" ry="0.91" fill="#fbe0a0"/>
<ellipse cx="435.7" cy="42.4" rx="1.01" ry="0.68" fill="#b8702c"/>
<ellipse cx="435.7" cy="40.8" rx="0.75" ry="2.08" fill="#e8b058"/>
<ellipse cx="435.7" cy="39.9" rx="0.38" ry="0.91" fill="#fbe0a0"/>
<ellipse cx="438.3" cy="43.3" rx="1.01" ry="0.68" fill="#b8702c"/>
<ellipse cx="438.3" cy="41.7" rx="0.75" ry="2.08" fill="#e8b058"/>
<ellipse cx="438.3" cy="40.8" rx="0.38" ry="0.91" fill="#fbe0a0"/>
<ellipse cx="440.9" cy="44.1" rx="1.01" ry="0.68" fill="#b8702c"/>
<ellipse cx="440.9" cy="42.6" rx="0.75" ry="2.08" fill="#e8b058"/>
<ellipse cx="440.9" cy="41.6" rx="0.38" ry="0.91" fill="#fbe0a0"/>
<ellipse cx="443.5" cy="45.0" rx="1.01" ry="0.68" fill="#b8702c"/>
<ellipse cx="443.5" cy="43.4" rx="0.75" ry="2.08" fill="#e8b058"/>
<ellipse cx="443.5" cy="42.5" rx="0.38" ry="0.91" fill="#fbe0a0"/>
<ellipse cx="446.1" cy="45.8" rx="1.01" ry="0.68" fill="#b8702c"/>
<ellipse cx="446.1" cy="44.3" rx="0.75" ry="2.08" fill="#e8b058"/>
<ellipse cx="446.1" cy="43.4" rx="0.38" ry="0.91" fill="#fbe0a0"/>
<ellipse cx="448.6" cy="46.7" rx="1.01" ry="0.68" fill="#b8702c"/>
<ellipse cx="448.6" cy="45.1" rx="0.75" ry="2.08" fill="#e8b058"/>
<ellipse cx="448.6" cy="44.2" rx="0.38" ry="0.91" fill="#fbe0a0"/>
<ellipse cx="451.2" cy="47.6" rx="1.01" ry="0.68" fill="#b8702c"/>
<ellipse cx="451.2" cy="46.0" rx="0.75" ry="2.08" fill="#e8b058"/>
<ellipse cx="451.2" cy="45.1" rx="0.38" ry="0.91" fill="#fbe0a0"/>
<text transform="translate(437.40,21.80) scale(0.950,1)" font-size="9.60" fill="#111" font-weight="bold" stroke="#111" stroke-width="0.35" font-family="Liberation Sans, sans-serif">P</text>
<text transform="translate(443.40,24.00) scale(0.900,1)" font-size="5.50" fill="#111" font-weight="bold" stroke="#111" stroke-width="0.20" font-family="Liberation Sans, sans-serif">1</text>
<text transform="translate(446.00,21.80) scale(0.870,1)" font-size="9.60" fill="#dc3446" font-weight="bold" stroke="#dc3446" stroke-width="0.25" font-family="Liberation Sans, sans-serif">:160</text>
<path d="M467.0,43.4 L496.4,53.9 L509.6,32.4" stroke="#d8d8d8" stroke-width="0.8" fill="none"/>
<polygon points="468.0,39.4 496.4,48.9 496.4,51.4 468.0,41.9" fill="#5a3410" />
<polygon points="496.4,48.9 507.6,27.4 507.6,29.9 496.4,51.4" fill="#4a2a0c" />
<polygon points="468.0,39.4 479.2,19.6 507.6,27.4 496.4,48.9" fill="#7a4818" />
<ellipse cx="480.1" cy="21.1" rx="1.05" ry="0.70" fill="#b8702c"/>
<ellipse cx="480.1" cy="19.5" rx="0.78" ry="2.08" fill="#e8b058"/>
<ellipse cx="480.1" cy="18.6" rx="0.39" ry="0.91" fill="#fbe0a0"/>
<ellipse cx="482.9" cy="22.0" rx="1.05" ry="0.70" fill="#b8702c"/>
<ellipse cx="482.9" cy="20.5" rx="0.78" ry="2.08" fill="#e8b058"/>
<ellipse cx="482.9" cy="19.5" rx="0.39" ry="0.91" fill="#fbe0a0"/>
<ellipse cx="485.7" cy="23.0" rx="1.05" ry="0.70" fill="#b8702c"/>
<ellipse cx="485.7" cy="21.4" rx="0.78" ry="2.08" fill="#e8b058"/>
<ellipse cx="485.7" cy="20.5" rx="0.39" ry="0.91" fill="#fbe0a0"/>
<ellipse cx="488.6" cy="23.9" rx="1.05" ry="0.70" fill="#b8702c"/>
<ellipse cx="488.6" cy="22.4" rx="0.78" ry="2.08" fill="#e8b058"/>
<ellipse cx="488.6" cy="21.4" rx="0.39" ry="0.91" fill="#fbe0a0"/>
<ellipse cx="491.4" cy="24.9" rx="1.05" ry="0.70" fill="#b8702c"/>
<ellipse cx="491.4" cy="23.3" rx="0.78" ry="2.08" fill="#e8b058"/>
<ellipse cx="491.4" cy="22.4" rx="0.39" ry="0.91" fill="#fbe0a0"/>
<ellipse cx="494.3" cy="25.8" rx="1.05" ry="0.70" fill="#b8702c"/>
<ellipse cx="494.3" cy="24.3" rx="0.78" ry="2.08" fill="#e8b058"/>
<ellipse cx="494.3" cy="23.3" rx="0.39" ry="0.91" fill="#fbe0a0"/>
<ellipse cx="497.1" cy="26.8" rx="1.05" ry="0.70" fill="#b8702c"/>
<ellipse cx="497.1" cy="25.2" rx="0.78" ry="2.08" fill="#e8b058"/>
<ellipse cx="497.1" cy="24.3" rx="0.39" ry="0.91" fill="#fbe0a0"/>
<ellipse cx="499.9" cy="27.7" rx="1.05" ry="0.70" fill="#b8702c"/>
<ellipse cx="499.9" cy="26.2" rx="0.78" ry="2.08" fill="#e8b058"/>
<ellipse cx="499.9" cy="25.2" rx="0.39" ry="0.91" fill="#fbe0a0"/>
<ellipse cx="502.8" cy="28.7" rx="1.05" ry="0.70" fill="#b8702c"/>
<ellipse cx="502.8" cy="27.1" rx="0.78" ry="2.08" fill="#e8b058"/>
<ellipse cx="502.8" cy="26.2" rx="0.39" ry="0.91" fill="#fbe0a0"/>
<ellipse cx="505.6" cy="29.6" rx="1.05" ry="0.70" fill="#b8702c"/>
<ellipse cx="505.6" cy="28.1" rx="0.78" ry="2.08" fill="#e8b058"/>
<ellipse cx="505.6" cy="27.1" rx="0.39" ry="0.91" fill="#fbe0a0"/>
<ellipse cx="478.9" cy="23.0" rx="1.05" ry="0.70" fill="#b8702c"/>
<ellipse cx="478.9" cy="21.5" rx="0.78" ry="2.08" fill="#e8b058"/>
<ellipse cx="478.9" cy="20.6" rx="0.39" ry="0.91" fill="#fbe0a0"/>
<ellipse cx="481.8" cy="24.0" rx="1.05" ry="0.70" fill="#b8702c"/>
<ellipse cx="481.8" cy="22.4" rx="0.78" ry="2.08" fill="#e8b058"/>
<ellipse cx="481.8" cy="21.5" rx="0.39" ry="0.91" fill="#fbe0a0"/>
<ellipse cx="484.6" cy="24.9" rx="1.05" ry="0.70" fill="#b8702c"/>
<ellipse cx="484.6" cy="23.4" rx="0.78" ry="2.08" fill="#e8b058"/>
<ellipse cx="484.6" cy="22.5" rx="0.39" ry="0.91" fill="#fbe0a0"/>
<ellipse cx="487.5" cy="25.9" rx="1.05" ry="0.70" fill="#b8702c"/>
<ellipse cx="487.5" cy="24.3" rx="0.78" ry="2.08" fill="#e8b058"/>
<ellipse cx="487.5" cy="23.4" rx="0.39" ry="0.91" fill="#fbe0a0"/>
<ellipse cx="490.3" cy="26.8" rx="1.05" ry="0.70" fill="#b8702c"/>
<ellipse cx="490.3" cy="25.3" rx="0.78" ry="2.08" fill="#e8b058"/>
<ellipse cx="490.3" cy="24.4" rx="0.39" ry="0.91" fill="#fbe0a0"/>
<ellipse cx="493.1" cy="27.8" rx="1.05" ry="0.70" fill="#b8702c"/>
<ellipse cx="493.1" cy="26.2" rx="0.78" ry="2.08" fill="#e8b058"/>
<ellipse cx="493.1" cy="25.3" rx="0.39" ry="0.91" fill="#fbe0a0"/>
<ellipse cx="496.0" cy="28.7" rx="1.05" ry="0.70" fill="#b8702c"/>
<ellipse cx="496.0" cy="27.2" rx="0.78" ry="2.08" fill="#e8b058"/>
<ellipse cx="496.0" cy="26.3" rx="0.39" ry="0.91" fill="#fbe0a0"/>
<ellipse cx="498.8" cy="29.7" rx="1.05" ry="0.70" fill="#b8702c"/>
<ellipse cx="498.8" cy="28.1" rx="0.78" ry="2.08" fill="#e8b058"/>
<ellipse cx="498.8" cy="27.2" rx="0.39" ry="0.91" fill="#fbe0a0"/>
<ellipse cx="501.7" cy="30.6" rx="1.05" ry="0.70" fill="#b8702c"/>
<ellipse cx="501.7" cy="29.1" rx="0.78" ry="2.08" fill="#e8b058"/>
<ellipse cx="501.7" cy="28.2" rx="0.39" ry="0.91" fill="#fbe0a0"/>
<ellipse cx="504.5" cy="31.6" rx="1.05" ry="0.70" fill="#b8702c"/>
<ellipse cx="504.5" cy="30.0" rx="0.78" ry="2.08" fill="#e8b058"/>
<ellipse cx="504.5" cy="29.1" rx="0.39" ry="0.91" fill="#fbe0a0"/>
<ellipse cx="477.8" cy="25.0" rx="1.05" ry="0.70" fill="#b8702c"/>
<ellipse cx="477.8" cy="23.5" rx="0.78" ry="2.08" fill="#e8b058"/>
<ellipse cx="477.8" cy="22.6" rx="0.39" ry="0.91" fill="#fbe0a0"/>
<ellipse cx="480.7" cy="26.0" rx="1.05" ry="0.70" fill="#b8702c"/>
<ellipse cx="480.7" cy="24.4" rx="0.78" ry="2.08" fill="#e8b058"/>
<ellipse cx="480.7" cy="23.5" rx="0.39" ry="0.91" fill="#fbe0a0"/>
<ellipse cx="483.5" cy="26.9" rx="1.05" ry="0.70" fill="#b8702c"/>
<ellipse cx="483.5" cy="25.4" rx="0.78" ry="2.08" fill="#e8b058"/>
<ellipse cx="483.5" cy="24.5" rx="0.39" ry="0.91" fill="#fbe0a0"/>
<ellipse cx="486.3" cy="27.9" rx="1.05" ry="0.70" fill="#b8702c"/>
<ellipse cx="486.3" cy="26.3" rx="0.78" ry="2.08" fill="#e8b058"/>
<ellipse cx="486.3" cy="25.4" rx="0.39" ry="0.91" fill="#fbe0a0"/>
<ellipse cx="489.2" cy="28.8" rx="1.05" ry="0.70" fill="#b8702c"/>
<ellipse cx="489.2" cy="27.3" rx="0.78" ry="2.08" fill="#e8b058"/>
<ellipse cx="489.2" cy="26.4" rx="0.39" ry="0.91" fill="#fbe0a0"/>
<ellipse cx="492.0" cy="29.8" rx="1.05" ry="0.70" fill="#b8702c"/>
<ellipse cx="492.0" cy="28.2" rx="0.78" ry="2.08" fill="#e8b058"/>
<ellipse cx="492.0" cy="27.3" rx="0.39" ry="0.91" fill="#fbe0a0"/>
<ellipse cx="494.9" cy="30.7" rx="1.05" ry="0.70" fill="#b8702c"/>
<ellipse cx="494.9" cy="29.2" rx="0.78" ry="2.08" fill="#e8b058"/>
<ellipse cx="494.9" cy="28.3" rx="0.39" ry="0.91" fill="#fbe0a0"/>
<ellipse cx="497.7" cy="31.7" rx="1.05" ry="0.70" fill="#b8702c"/>
<ellipse cx="497.7" cy="30.1" rx="0.78" ry="2.08" fill="#e8b058"/>
<ellipse cx="497.7" cy="29.2" rx="0.39" ry="0.91" fill="#fbe0a0"/>
<ellipse cx="500.5" cy="32.6" rx="1.05" ry="0.70" fill="#b8702c"/>
<ellipse cx="500.5" cy="31.1" rx="0.78" ry="2.08" fill="#e8b058"/>
<ellipse cx="500.5" cy="30.2" rx="0.39" ry="0.91" fill="#fbe0a0"/>
<ellipse cx="503.4" cy="33.6" rx="1.05" ry="0.70" fill="#b8702c"/>
<ellipse cx="503.4" cy="32.0" rx="0.78" ry="2.08" fill="#e8b058"/>
<ellipse cx="503.4" cy="31.1" rx="0.39" ry="0.91" fill="#fbe0a0"/>
<ellipse cx="476.7" cy="27.0" rx="1.05" ry="0.70" fill="#b8702c"/>
<ellipse cx="476.7" cy="25.4" rx="0.78" ry="2.08" fill="#e8b058"/>
<ellipse cx="476.7" cy="24.5" rx="0.39" ry="0.91" fill="#fbe0a0"/>
<ellipse cx="479.5" cy="28.0" rx="1.05" ry="0.70" fill="#b8702c"/>
<ellipse cx="479.5" cy="26.4" rx="0.78" ry="2.08" fill="#e8b058"/>
<ellipse cx="479.5" cy="25.5" rx="0.39" ry="0.91" fill="#fbe0a0"/>
<ellipse cx="482.4" cy="28.9" rx="1.05" ry="0.70" fill="#b8702c"/>
<ellipse cx="482.4" cy="27.3" rx="0.78" ry="2.08" fill="#e8b058"/>
<ellipse cx="482.4" cy="26.4" rx="0.39" ry="0.91" fill="#fbe0a0"/>
<ellipse cx="485.2" cy="29.9" rx="1.05" ry="0.70" fill="#b8702c"/>
<ellipse cx="485.2" cy="28.3" rx="0.78" ry="2.08" fill="#e8b058"/>
<ellipse cx="485.2" cy="27.4" rx="0.39" ry="0.91" fill="#fbe0a0"/>
<ellipse cx="488.1" cy="30.8" rx="1.05" ry="0.70" fill="#b8702c"/>
<ellipse cx="488.1" cy="29.2" rx="0.78" ry="2.08" fill="#e8b058"/>
<ellipse cx="488.1" cy="28.3" rx="0.39" ry="0.91" fill="#fbe0a0"/>
<ellipse cx="490.9" cy="31.8" rx="1.05" ry="0.70" fill="#b8702c"/>
<ellipse cx="490.9" cy="30.2" rx="0.78" ry="2.08" fill="#e8b058"/>
<ellipse cx="490.9" cy="29.3" rx="0.39" ry="0.91" fill="#fbe0a0"/>
<ellipse cx="493.7" cy="32.7" rx="1.05" ry="0.70" fill="#b8702c"/>
<ellipse cx="493.7" cy="31.1" rx="0.78" ry="2.08" fill="#e8b058"/>
<ellipse cx="493.7" cy="30.2" rx="0.39" ry="0.91" fill="#fbe0a0"/>
<ellipse cx="496.6" cy="33.7" rx="1.05" ry="0.70" fill="#b8702c"/>
<ellipse cx="496.6" cy="32.1" rx="0.78" ry="2.08" fill="#e8b058"/>
<ellipse cx="496.6" cy="31.2" rx="0.39" ry="0.91" fill="#fbe0a0"/>
<ellipse cx="499.4" cy="34.6" rx="1.05" ry="0.70" fill="#b8702c"/>
<ellipse cx="499.4" cy="33.0" rx="0.78" ry="2.08" fill="#e8b058"/>
<ellipse cx="499.4" cy="32.1" rx="0.39" ry="0.91" fill="#fbe0a0"/>
<ellipse cx="502.3" cy="35.6" rx="1.05" ry="0.70" fill="#b8702c"/>
<ellipse cx="502.3" cy="34.0" rx="0.78" ry="2.08" fill="#e8b058"/>
<ellipse cx="502.3" cy="33.1" rx="0.39" ry="0.91" fill="#fbe0a0"/>
<ellipse cx="475.6" cy="29.0" rx="1.05" ry="0.70" fill="#b8702c"/>
<ellipse cx="475.6" cy="27.4" rx="0.78" ry="2.08" fill="#e8b058"/>
<ellipse cx="475.6" cy="26.5" rx="0.39" ry="0.91" fill="#fbe0a0"/>
<ellipse cx="478.4" cy="29.9" rx="1.05" ry="0.70" fill="#b8702c"/>
<ellipse cx="478.4" cy="28.4" rx="0.78" ry="2.08" fill="#e8b058"/>
<ellipse cx="478.4" cy="27.5" rx="0.39" ry="0.91" fill="#fbe0a0"/>
<ellipse cx="481.3" cy="30.9" rx="1.05" ry="0.70" fill="#b8702c"/>
<ellipse cx="481.3" cy="29.3" rx="0.78" ry="2.08" fill="#e8b058"/>
<ellipse cx="481.3" cy="28.4" rx="0.39" ry="0.91" fill="#fbe0a0"/>
<ellipse cx="484.1" cy="31.8" rx="1.05" ry="0.70" fill="#b8702c"/>
<ellipse cx="484.1" cy="30.3" rx="0.78" ry="2.08" fill="#e8b058"/>
<ellipse cx="484.1" cy="29.4" rx="0.39" ry="0.91" fill="#fbe0a0"/>
<ellipse cx="486.9" cy="32.8" rx="1.05" ry="0.70" fill="#b8702c"/>
<ellipse cx="486.9" cy="31.2" rx="0.78" ry="2.08" fill="#e8b058"/>
<ellipse cx="486.9" cy="30.3" rx="0.39" ry="0.91" fill="#fbe0a0"/>
<ellipse cx="489.8" cy="33.7" rx="1.05" ry="0.70" fill="#b8702c"/>
<ellipse cx="489.8" cy="32.2" rx="0.78" ry="2.08" fill="#e8b058"/>
<ellipse cx="489.8" cy="31.3" rx="0.39" ry="0.91" fill="#fbe0a0"/>
<ellipse cx="492.6" cy="34.7" rx="1.05" ry="0.70" fill="#b8702c"/>
<ellipse cx="492.6" cy="33.1" rx="0.78" ry="2.08" fill="#e8b058"/>
<ellipse cx="492.6" cy="32.2" rx="0.39" ry="0.91" fill="#fbe0a0"/>
<ellipse cx="495.5" cy="35.6" rx="1.05" ry="0.70" fill="#b8702c"/>
<ellipse cx="495.5" cy="34.1" rx="0.78" ry="2.08" fill="#e8b058"/>
<ellipse cx="495.5" cy="33.2" rx="0.39" ry="0.91" fill="#fbe0a0"/>
<ellipse cx="498.3" cy="36.6" rx="1.05" ry="0.70" fill="#b8702c"/>
<ellipse cx="498.3" cy="35.0" rx="0.78" ry="2.08" fill="#e8b058"/>
<ellipse cx="498.3" cy="34.1" rx="0.39" ry="0.91" fill="#fbe0a0"/>
<ellipse cx="501.1" cy="37.5" rx="1.05" ry="0.70" fill="#b8702c"/>
<ellipse cx="501.1" cy="36.0" rx="0.78" ry="2.08" fill="#e8b058"/>
<ellipse cx="501.1" cy="35.1" rx="0.39" ry="0.91" fill="#fbe0a0"/>
<ellipse cx="474.5" cy="31.0" rx="1.05" ry="0.70" fill="#b8702c"/>
<ellipse cx="474.5" cy="29.4" rx="0.78" ry="2.08" fill="#e8b058"/>
<ellipse cx="474.5" cy="28.5" rx="0.39" ry="0.91" fill="#fbe0a0"/>
<ellipse cx="477.3" cy="31.9" rx="1.05" ry="0.70" fill="#b8702c"/>
<ellipse cx="477.3" cy="30.4" rx="0.78" ry="2.08" fill="#e8b058"/>
<ellipse cx="477.3" cy="29.4" rx="0.39" ry="0.91" fill="#fbe0a0"/>
<ellipse cx="480.1" cy="32.9" rx="1.05" ry="0.70" fill="#b8702c"/>
<ellipse cx="480.1" cy="31.3" rx="0.78" ry="2.08" fill="#e8b058"/>
<ellipse cx="480.1" cy="30.4" rx="0.39" ry="0.91" fill="#fbe0a0"/>
<ellipse cx="483.0" cy="33.8" rx="1.05" ry="0.70" fill="#b8702c"/>
<ellipse cx="483.0" cy="32.3" rx="0.78" ry="2.08" fill="#e8b058"/>
<ellipse cx="483.0" cy="31.3" rx="0.39" ry="0.91" fill="#fbe0a0"/>
<ellipse cx="485.8" cy="34.8" rx="1.05" ry="0.70" fill="#b8702c"/>
<ellipse cx="485.8" cy="33.2" rx="0.78" ry="2.08" fill="#e8b058"/>
<ellipse cx="485.8" cy="32.3" rx="0.39" ry="0.91" fill="#fbe0a0"/>
<ellipse cx="488.7" cy="35.7" rx="1.05" ry="0.70" fill="#b8702c"/>
<ellipse cx="488.7" cy="34.2" rx="0.78" ry="2.08" fill="#e8b058"/>
<ellipse cx="488.7" cy="33.2" rx="0.39" ry="0.91" fill="#fbe0a0"/>
<ellipse cx="491.5" cy="36.7" rx="1.05" ry="0.70" fill="#b8702c"/>
<ellipse cx="491.5" cy="35.1" rx="0.78" ry="2.08" fill="#e8b058"/>
<ellipse cx="491.5" cy="34.2" rx="0.39" ry="0.91" fill="#fbe0a0"/>
<ellipse cx="494.3" cy="37.6" rx="1.05" ry="0.70" fill="#b8702c"/>
<ellipse cx="494.3" cy="36.1" rx="0.78" ry="2.08" fill="#e8b058"/>
<ellipse cx="494.3" cy="35.1" rx="0.39" ry="0.91" fill="#fbe0a0"/>
<ellipse cx="497.2" cy="38.6" rx="1.05" ry="0.70" fill="#b8702c"/>
<ellipse cx="497.2" cy="37.0" rx="0.78" ry="2.08" fill="#e8b058"/>
<ellipse cx="497.2" cy="36.1" rx="0.39" ry="0.91" fill="#fbe0a0"/>
<ellipse cx="500.0" cy="39.5" rx="1.05" ry="0.70" fill="#b8702c"/>
<ellipse cx="500.0" cy="38.0" rx="0.78" ry="2.08" fill="#e8b058"/>
<ellipse cx="500.0" cy="37.0" rx="0.39" ry="0.91" fill="#fbe0a0"/>
<ellipse cx="473.3" cy="32.9" rx="1.05" ry="0.70" fill="#b8702c"/>
<ellipse cx="473.3" cy="31.4" rx="0.78" ry="2.08" fill="#e8b058"/>
<ellipse cx="473.3" cy="30.5" rx="0.39" ry="0.91" fill="#fbe0a0"/>
<ellipse cx="476.2" cy="33.9" rx="1.05" ry="0.70" fill="#b8702c"/>
<ellipse cx="476.2" cy="32.3" rx="0.78" ry="2.08" fill="#e8b058"/>
<ellipse cx="476.2" cy="31.4" rx="0.39" ry="0.91" fill="#fbe0a0"/>
<ellipse cx="479.0" cy="34.8" rx="1.05" ry="0.70" fill="#b8702c"/>
<ellipse cx="479.0" cy="33.3" rx="0.78" ry="2.08" fill="#e8b058"/>
<ellipse cx="479.0" cy="32.4" rx="0.39" ry="0.91" fill="#fbe0a0"/>
<ellipse cx="481.9" cy="35.8" rx="1.05" ry="0.70" fill="#b8702c"/>
<ellipse cx="481.9" cy="34.2" rx="0.78" ry="2.08" fill="#e8b058"/>
<ellipse cx="481.9" cy="33.3" rx="0.39" ry="0.91" fill="#fbe0a0"/>
<ellipse cx="484.7" cy="36.7" rx="1.05" ry="0.70" fill="#b8702c"/>
<ellipse cx="484.7" cy="35.2" rx="0.78" ry="2.08" fill="#e8b058"/>
<ellipse cx="484.7" cy="34.3" rx="0.39" ry="0.91" fill="#fbe0a0"/>
<ellipse cx="487.5" cy="37.7" rx="1.05" ry="0.70" fill="#b8702c"/>
<ellipse cx="487.5" cy="36.1" rx="0.78" ry="2.08" fill="#e8b058"/>
<ellipse cx="487.5" cy="35.2" rx="0.39" ry="0.91" fill="#fbe0a0"/>
<ellipse cx="490.4" cy="38.6" rx="1.05" ry="0.70" fill="#b8702c"/>
<ellipse cx="490.4" cy="37.1" rx="0.78" ry="2.08" fill="#e8b058"/>
<ellipse cx="490.4" cy="36.2" rx="0.39" ry="0.91" fill="#fbe0a0"/>
<ellipse cx="493.2" cy="39.6" rx="1.05" ry="0.70" fill="#b8702c"/>
<ellipse cx="493.2" cy="38.0" rx="0.78" ry="2.08" fill="#e8b058"/>
<ellipse cx="493.2" cy="37.1" rx="0.39" ry="0.91" fill="#fbe0a0"/>
<ellipse cx="496.1" cy="40.5" rx="1.05" ry="0.70" fill="#b8702c"/>
<ellipse cx="496.1" cy="39.0" rx="0.78" ry="2.08" fill="#e8b058"/>
<ellipse cx="496.1" cy="38.1" rx="0.39" ry="0.91" fill="#fbe0a0"/>
<ellipse cx="498.9" cy="41.5" rx="1.05" ry="0.70" fill="#b8702c"/>
<ellipse cx="498.9" cy="39.9" rx="0.78" ry="2.08" fill="#e8b058"/>
<ellipse cx="498.9" cy="39.0" rx="0.39" ry="0.91" fill="#fbe0a0"/>
<ellipse cx="472.2" cy="34.9" rx="1.05" ry="0.70" fill="#b8702c"/>
<ellipse cx="472.2" cy="33.4" rx="0.78" ry="2.08" fill="#e8b058"/>
<ellipse cx="472.2" cy="32.5" rx="0.39" ry="0.91" fill="#fbe0a0"/>
<ellipse cx="475.1" cy="35.9" rx="1.05" ry="0.70" fill="#b8702c"/>
<ellipse cx="475.1" cy="34.3" rx="0.78" ry="2.08" fill="#e8b058"/>
<ellipse cx="475.1" cy="33.4" rx="0.39" ry="0.91" fill="#fbe0a0"/>
<ellipse cx="477.9" cy="36.8" rx="1.05" ry="0.70" fill="#b8702c"/>
<ellipse cx="477.9" cy="35.3" rx="0.78" ry="2.08" fill="#e8b058"/>
<ellipse cx="477.9" cy="34.4" rx="0.39" ry="0.91" fill="#fbe0a0"/>
<ellipse cx="480.7" cy="37.8" rx="1.05" ry="0.70" fill="#b8702c"/>
<ellipse cx="480.7" cy="36.2" rx="0.78" ry="2.08" fill="#e8b058"/>
<ellipse cx="480.7" cy="35.3" rx="0.39" ry="0.91" fill="#fbe0a0"/>
<ellipse cx="483.6" cy="38.7" rx="1.05" ry="0.70" fill="#b8702c"/>
<ellipse cx="483.6" cy="37.2" rx="0.78" ry="2.08" fill="#e8b058"/>
<ellipse cx="483.6" cy="36.3" rx="0.39" ry="0.91" fill="#fbe0a0"/>
<ellipse cx="486.4" cy="39.7" rx="1.05" ry="0.70" fill="#b8702c"/>
<ellipse cx="486.4" cy="38.1" rx="0.78" ry="2.08" fill="#e8b058"/>
<ellipse cx="486.4" cy="37.2" rx="0.39" ry="0.91" fill="#fbe0a0"/>
<ellipse cx="489.3" cy="40.6" rx="1.05" ry="0.70" fill="#b8702c"/>
<ellipse cx="489.3" cy="39.1" rx="0.78" ry="2.08" fill="#e8b058"/>
<ellipse cx="489.3" cy="38.2" rx="0.39" ry="0.91" fill="#fbe0a0"/>
<ellipse cx="492.1" cy="41.6" rx="1.05" ry="0.70" fill="#b8702c"/>
<ellipse cx="492.1" cy="40.0" rx="0.78" ry="2.08" fill="#e8b058"/>
<ellipse cx="492.1" cy="39.1" rx="0.39" ry="0.91" fill="#fbe0a0"/>
<ellipse cx="494.9" cy="42.5" rx="1.05" ry="0.70" fill="#b8702c"/>
<ellipse cx="494.9" cy="41.0" rx="0.78" ry="2.08" fill="#e8b058"/>
<ellipse cx="494.9" cy="40.1" rx="0.39" ry="0.91" fill="#fbe0a0"/>
<ellipse cx="497.8" cy="43.5" rx="1.05" ry="0.70" fill="#b8702c"/>
<ellipse cx="497.8" cy="41.9" rx="0.78" ry="2.08" fill="#e8b058"/>
<ellipse cx="497.8" cy="41.0" rx="0.39" ry="0.91" fill="#fbe0a0"/>
<ellipse cx="471.1" cy="36.9" rx="1.05" ry="0.70" fill="#b8702c"/>
<ellipse cx="471.1" cy="35.3" rx="0.78" ry="2.08" fill="#e8b058"/>
<ellipse cx="471.1" cy="34.4" rx="0.39" ry="0.91" fill="#fbe0a0"/>
<ellipse cx="473.9" cy="37.9" rx="1.05" ry="0.70" fill="#b8702c"/>
<ellipse cx="473.9" cy="36.3" rx="0.78" ry="2.08" fill="#e8b058"/>
<ellipse cx="473.9" cy="35.4" rx="0.39" ry="0.91" fill="#fbe0a0"/>
<ellipse cx="476.8" cy="38.8" rx="1.05" ry="0.70" fill="#b8702c"/>
<ellipse cx="476.8" cy="37.2" rx="0.78" ry="2.08" fill="#e8b058"/>
<ellipse cx="476.8" cy="36.3" rx="0.39" ry="0.91" fill="#fbe0a0"/>
<ellipse cx="479.6" cy="39.8" rx="1.05" ry="0.70" fill="#b8702c"/>
<ellipse cx="479.6" cy="38.2" rx="0.78" ry="2.08" fill="#e8b058"/>
<ellipse cx="479.6" cy="37.3" rx="0.39" ry="0.91" fill="#fbe0a0"/>
<ellipse cx="482.5" cy="40.7" rx="1.05" ry="0.70" fill="#b8702c"/>
<ellipse cx="482.5" cy="39.1" rx="0.78" ry="2.08" fill="#e8b058"/>
<ellipse cx="482.5" cy="38.2" rx="0.39" ry="0.91" fill="#fbe0a0"/>
<ellipse cx="485.3" cy="41.7" rx="1.05" ry="0.70" fill="#b8702c"/>
<ellipse cx="485.3" cy="40.1" rx="0.78" ry="2.08" fill="#e8b058"/>
<ellipse cx="485.3" cy="39.2" rx="0.39" ry="0.91" fill="#fbe0a0"/>
<ellipse cx="488.1" cy="42.6" rx="1.05" ry="0.70" fill="#b8702c"/>
<ellipse cx="488.1" cy="41.0" rx="0.78" ry="2.08" fill="#e8b058"/>
<ellipse cx="488.1" cy="40.1" rx="0.39" ry="0.91" fill="#fbe0a0"/>
<ellipse cx="491.0" cy="43.6" rx="1.05" ry="0.70" fill="#b8702c"/>
<ellipse cx="491.0" cy="42.0" rx="0.78" ry="2.08" fill="#e8b058"/>
<ellipse cx="491.0" cy="41.1" rx="0.39" ry="0.91" fill="#fbe0a0"/>
<ellipse cx="493.8" cy="44.5" rx="1.05" ry="0.70" fill="#b8702c"/>
<ellipse cx="493.8" cy="42.9" rx="0.78" ry="2.08" fill="#e8b058"/>
<ellipse cx="493.8" cy="42.0" rx="0.39" ry="0.91" fill="#fbe0a0"/>
<ellipse cx="496.7" cy="45.5" rx="1.05" ry="0.70" fill="#b8702c"/>
<ellipse cx="496.7" cy="43.9" rx="0.78" ry="2.08" fill="#e8b058"/>
<ellipse cx="496.7" cy="43.0" rx="0.39" ry="0.91" fill="#fbe0a0"/>
<ellipse cx="470.0" cy="38.9" rx="1.05" ry="0.70" fill="#b8702c"/>
<ellipse cx="470.0" cy="37.3" rx="0.78" ry="2.08" fill="#e8b058"/>
<ellipse cx="470.0" cy="36.4" rx="0.39" ry="0.91" fill="#fbe0a0"/>
<ellipse cx="472.8" cy="39.8" rx="1.05" ry="0.70" fill="#b8702c"/>
<ellipse cx="472.8" cy="38.3" rx="0.78" ry="2.08" fill="#e8b058"/>
<ellipse cx="472.8" cy="37.4" rx="0.39" ry="0.91" fill="#fbe0a0"/>
<ellipse cx="475.7" cy="40.8" rx="1.05" ry="0.70" fill="#b8702c"/>
<ellipse cx="475.7" cy="39.2" rx="0.78" ry="2.08" fill="#e8b058"/>
<ellipse cx="475.7" cy="38.3" rx="0.39" ry="0.91" fill="#fbe0a0"/>
<ellipse cx="478.5" cy="41.7" rx="1.05" ry="0.70" fill="#b8702c"/>
<ellipse cx="478.5" cy="40.2" rx="0.78" ry="2.08" fill="#e8b058"/>
<ellipse cx="478.5" cy="39.3" rx="0.39" ry="0.91" fill="#fbe0a0"/>
<ellipse cx="481.3" cy="42.7" rx="1.05" ry="0.70" fill="#b8702c"/>
<ellipse cx="481.3" cy="41.1" rx="0.78" ry="2.08" fill="#e8b058"/>
<ellipse cx="481.3" cy="40.2" rx="0.39" ry="0.91" fill="#fbe0a0"/>
<ellipse cx="484.2" cy="43.6" rx="1.05" ry="0.70" fill="#b8702c"/>
<ellipse cx="484.2" cy="42.1" rx="0.78" ry="2.08" fill="#e8b058"/>
<ellipse cx="484.2" cy="41.2" rx="0.39" ry="0.91" fill="#fbe0a0"/>
<ellipse cx="487.0" cy="44.6" rx="1.05" ry="0.70" fill="#b8702c"/>
<ellipse cx="487.0" cy="43.0" rx="0.78" ry="2.08" fill="#e8b058"/>
<ellipse cx="487.0" cy="42.1" rx="0.39" ry="0.91" fill="#fbe0a0"/>
<ellipse cx="489.9" cy="45.5" rx="1.05" ry="0.70" fill="#b8702c"/>
<ellipse cx="489.9" cy="44.0" rx="0.78" ry="2.08" fill="#e8b058"/>
<ellipse cx="489.9" cy="43.1" rx="0.39" ry="0.91" fill="#fbe0a0"/>
<ellipse cx="492.7" cy="46.5" rx="1.05" ry="0.70" fill="#b8702c"/>
<ellipse cx="492.7" cy="44.9" rx="0.78" ry="2.08" fill="#e8b058"/>
<ellipse cx="492.7" cy="44.0" rx="0.39" ry="0.91" fill="#fbe0a0"/>
<ellipse cx="495.5" cy="47.4" rx="1.05" ry="0.70" fill="#b8702c"/>
<ellipse cx="495.5" cy="45.9" rx="0.78" ry="2.08" fill="#e8b058"/>
<ellipse cx="495.5" cy="45.0" rx="0.39" ry="0.91" fill="#fbe0a0"/>
<text transform="translate(481.80,21.80) scale(0.950,1)" font-size="9.60" fill="#111" font-weight="bold" stroke="#111" stroke-width="0.35" font-family="Liberation Sans, sans-serif">P</text>
<text transform="translate(487.80,24.00) scale(0.900,1)" font-size="5.50" fill="#111" font-weight="bold" stroke="#111" stroke-width="0.20" font-family="Liberation Sans, sans-serif">2</text>
<text transform="translate(490.40,21.80) scale(0.870,1)" font-size="9.60" fill="#dc3446" font-weight="bold" stroke="#dc3446" stroke-width="0.25" font-family="Liberation Sans, sans-serif">:170</text>
<path d="M512.0,43.4 L541.4,53.9 L554.6,32.4" stroke="#d8d8d8" stroke-width="0.8" fill="none"/>
<polygon points="513.0,39.4 541.4,48.9 541.4,51.4 513.0,41.9" fill="#5a3410" />
<polygon points="541.4,48.9 552.6,27.4 552.6,29.9 541.4,51.4" fill="#4a2a0c" />
<polygon points="513.0,39.4 524.2,19.6 552.6,27.4 541.4,48.9" fill="#784618" />
<ellipse cx="525.2" cy="21.2" rx="1.08" ry="0.72" fill="#b8702c"/>
<ellipse cx="525.2" cy="19.7" rx="0.80" ry="2.00" fill="#e8b058"/>
<ellipse cx="525.2" cy="18.9" rx="0.40" ry="0.88" fill="#fbe0a0"/>
<ellipse cx="528.3" cy="22.3" rx="1.08" ry="0.72" fill="#b8702c"/>
<ellipse cx="528.3" cy="20.8" rx="0.80" ry="2.00" fill="#e8b058"/>
<ellipse cx="528.3" cy="19.9" rx="0.40" ry="0.88" fill="#fbe0a0"/>
<ellipse cx="531.5" cy="23.3" rx="1.08" ry="0.72" fill="#b8702c"/>
<ellipse cx="531.5" cy="21.8" rx="0.80" ry="2.00" fill="#e8b058"/>
<ellipse cx="531.5" cy="21.0" rx="0.40" ry="0.88" fill="#fbe0a0"/>
<ellipse cx="534.6" cy="24.4" rx="1.08" ry="0.72" fill="#b8702c"/>
<ellipse cx="534.6" cy="22.9" rx="0.80" ry="2.00" fill="#e8b058"/>
<ellipse cx="534.6" cy="22.0" rx="0.40" ry="0.88" fill="#fbe0a0"/>
<ellipse cx="537.8" cy="25.5" rx="1.08" ry="0.72" fill="#b8702c"/>
<ellipse cx="537.8" cy="24.0" rx="0.80" ry="2.00" fill="#e8b058"/>
<ellipse cx="537.8" cy="23.1" rx="0.40" ry="0.88" fill="#fbe0a0"/>
<ellipse cx="540.9" cy="26.5" rx="1.08" ry="0.72" fill="#b8702c"/>
<ellipse cx="540.9" cy="25.0" rx="0.80" ry="2.00" fill="#e8b058"/>
<ellipse cx="540.9" cy="24.1" rx="0.40" ry="0.88" fill="#fbe0a0"/>
<ellipse cx="544.1" cy="27.6" rx="1.08" ry="0.72" fill="#b8702c"/>
<ellipse cx="544.1" cy="26.1" rx="0.80" ry="2.00" fill="#e8b058"/>
<ellipse cx="544.1" cy="25.2" rx="0.40" ry="0.88" fill="#fbe0a0"/>
<ellipse cx="547.2" cy="28.6" rx="1.08" ry="0.72" fill="#b8702c"/>
<ellipse cx="547.2" cy="27.1" rx="0.80" ry="2.00" fill="#e8b058"/>
<ellipse cx="547.2" cy="26.2" rx="0.40" ry="0.88" fill="#fbe0a0"/>
<ellipse cx="550.4" cy="29.7" rx="1.08" ry="0.72" fill="#b8702c"/>
<ellipse cx="550.4" cy="28.2" rx="0.80" ry="2.00" fill="#e8b058"/>
<ellipse cx="550.4" cy="27.3" rx="0.40" ry="0.88" fill="#fbe0a0"/>
<ellipse cx="523.9" cy="23.4" rx="1.08" ry="0.72" fill="#b8702c"/>
<ellipse cx="523.9" cy="21.9" rx="0.80" ry="2.00" fill="#e8b058"/>
<ellipse cx="523.9" cy="21.1" rx="0.40" ry="0.88" fill="#fbe0a0"/>
<ellipse cx="527.1" cy="24.5" rx="1.08" ry="0.72" fill="#b8702c"/>
<ellipse cx="527.1" cy="23.0" rx="0.80" ry="2.00" fill="#e8b058"/>
<ellipse cx="527.1" cy="22.1" rx="0.40" ry="0.88" fill="#fbe0a0"/>
<ellipse cx="530.2" cy="25.5" rx="1.08" ry="0.72" fill="#b8702c"/>
<ellipse cx="530.2" cy="24.0" rx="0.80" ry="2.00" fill="#e8b058"/>
<ellipse cx="530.2" cy="23.2" rx="0.40" ry="0.88" fill="#fbe0a0"/>
<ellipse cx="533.4" cy="26.6" rx="1.08" ry="0.72" fill="#b8702c"/>
<ellipse cx="533.4" cy="25.1" rx="0.80" ry="2.00" fill="#e8b058"/>
<ellipse cx="533.4" cy="24.2" rx="0.40" ry="0.88" fill="#fbe0a0"/>
<ellipse cx="536.5" cy="27.7" rx="1.08" ry="0.72" fill="#b8702c"/>
<ellipse cx="536.5" cy="26.2" rx="0.80" ry="2.00" fill="#e8b058"/>
<ellipse cx="536.5" cy="25.3" rx="0.40" ry="0.88" fill="#fbe0a0"/>
<ellipse cx="539.7" cy="28.7" rx="1.08" ry="0.72" fill="#b8702c"/>
<ellipse cx="539.7" cy="27.2" rx="0.80" ry="2.00" fill="#e8b058"/>
<ellipse cx="539.7" cy="26.3" rx="0.40" ry="0.88" fill="#fbe0a0"/>
<ellipse cx="542.8" cy="29.8" rx="1.08" ry="0.72" fill="#b8702c"/>
<ellipse cx="542.8" cy="28.3" rx="0.80" ry="2.00" fill="#e8b058"/>
<ellipse cx="542.8" cy="27.4" rx="0.40" ry="0.88" fill="#fbe0a0"/>
<ellipse cx="546.0" cy="30.8" rx="1.08" ry="0.72" fill="#b8702c"/>
<ellipse cx="546.0" cy="29.3" rx="0.80" ry="2.00" fill="#e8b058"/>
<ellipse cx="546.0" cy="28.4" rx="0.40" ry="0.88" fill="#fbe0a0"/>
<ellipse cx="549.2" cy="31.9" rx="1.08" ry="0.72" fill="#b8702c"/>
<ellipse cx="549.2" cy="30.4" rx="0.80" ry="2.00" fill="#e8b058"/>
<ellipse cx="549.2" cy="29.5" rx="0.40" ry="0.88" fill="#fbe0a0"/>
<ellipse cx="522.7" cy="25.6" rx="1.08" ry="0.72" fill="#b8702c"/>
<ellipse cx="522.7" cy="24.1" rx="0.80" ry="2.00" fill="#e8b058"/>
<ellipse cx="522.7" cy="23.3" rx="0.40" ry="0.88" fill="#fbe0a0"/>
<ellipse cx="525.8" cy="26.7" rx="1.08" ry="0.72" fill="#b8702c"/>
<ellipse cx="525.8" cy="25.2" rx="0.80" ry="2.00" fill="#e8b058"/>
<ellipse cx="525.8" cy="24.3" rx="0.40" ry="0.88" fill="#fbe0a0"/>
<ellipse cx="529.0" cy="27.7" rx="1.08" ry="0.72" fill="#b8702c"/>
<ellipse cx="529.0" cy="26.2" rx="0.80" ry="2.00" fill="#e8b058"/>
<ellipse cx="529.0" cy="25.4" rx="0.40" ry="0.88" fill="#fbe0a0"/>
<ellipse cx="532.1" cy="28.8" rx="1.08" ry="0.72" fill="#b8702c"/>
<ellipse cx="532.1" cy="27.3" rx="0.80" ry="2.00" fill="#e8b058"/>
<ellipse cx="532.1" cy="26.4" rx="0.40" ry="0.88" fill="#fbe0a0"/>
<ellipse cx="535.3" cy="29.9" rx="1.08" ry="0.72" fill="#b8702c"/>
<ellipse cx="535.3" cy="28.4" rx="0.80" ry="2.00" fill="#e8b058"/>
<ellipse cx="535.3" cy="27.5" rx="0.40" ry="0.88" fill="#fbe0a0"/>
<ellipse cx="538.4" cy="30.9" rx="1.08" ry="0.72" fill="#b8702c"/>
<ellipse cx="538.4" cy="29.4" rx="0.80" ry="2.00" fill="#e8b058"/>
<ellipse cx="538.4" cy="28.5" rx="0.40" ry="0.88" fill="#fbe0a0"/>
<ellipse cx="541.6" cy="32.0" rx="1.08" ry="0.72" fill="#b8702c"/>
<ellipse cx="541.6" cy="30.5" rx="0.80" ry="2.00" fill="#e8b058"/>
<ellipse cx="541.6" cy="29.6" rx="0.40" ry="0.88" fill="#fbe0a0"/>
<ellipse cx="544.8" cy="33.0" rx="1.08" ry="0.72" fill="#b8702c"/>
<ellipse cx="544.8" cy="31.5" rx="0.80" ry="2.00" fill="#e8b058"/>
<ellipse cx="544.8" cy="30.6" rx="0.40" ry="0.88" fill="#fbe0a0"/>
<ellipse cx="547.9" cy="34.1" rx="1.08" ry="0.72" fill="#b8702c"/>
<ellipse cx="547.9" cy="32.6" rx="0.80" ry="2.00" fill="#e8b058"/>
<ellipse cx="547.9" cy="31.7" rx="0.40" ry="0.88" fill="#fbe0a0"/>
<ellipse cx="521.4" cy="27.8" rx="1.08" ry="0.72" fill="#b8702c"/>
<ellipse cx="521.4" cy="26.3" rx="0.80" ry="2.00" fill="#e8b058"/>
<ellipse cx="521.4" cy="25.5" rx="0.40" ry="0.88" fill="#fbe0a0"/>
<ellipse cx="524.6" cy="28.9" rx="1.08" ry="0.72" fill="#b8702c"/>
<ellipse cx="524.6" cy="27.4" rx="0.80" ry="2.00" fill="#e8b058"/>
<ellipse cx="524.6" cy="26.5" rx="0.40" ry="0.88" fill="#fbe0a0"/>
<ellipse cx="527.7" cy="29.9" rx="1.08" ry="0.72" fill="#b8702c"/>
<ellipse cx="527.7" cy="28.4" rx="0.80" ry="2.00" fill="#e8b058"/>
<ellipse cx="527.7" cy="27.6" rx="0.40" ry="0.88" fill="#fbe0a0"/>
<ellipse cx="530.9" cy="31.0" rx="1.08" ry="0.72" fill="#b8702c"/>
<ellipse cx="530.9" cy="29.5" rx="0.80" ry="2.00" fill="#e8b058"/>
<ellipse cx="530.9" cy="28.6" rx="0.40" ry="0.88" fill="#fbe0a0"/>
<ellipse cx="534.0" cy="32.1" rx="1.08" ry="0.72" fill="#b8702c"/>
<ellipse cx="534.0" cy="30.6" rx="0.80" ry="2.00" fill="#e8b058"/>
<ellipse cx="534.0" cy="29.7" rx="0.40" ry="0.88" fill="#fbe0a0"/>
<ellipse cx="537.2" cy="33.1" rx="1.08" ry="0.72" fill="#b8702c"/>
<ellipse cx="537.2" cy="31.6" rx="0.80" ry="2.00" fill="#e8b058"/>
<ellipse cx="537.2" cy="30.7" rx="0.40" ry="0.88" fill="#fbe0a0"/>
<ellipse cx="540.4" cy="34.2" rx="1.08" ry="0.72" fill="#b8702c"/>
<ellipse cx="540.4" cy="32.7" rx="0.80" ry="2.00" fill="#e8b058"/>
<ellipse cx="540.4" cy="31.8" rx="0.40" ry="0.88" fill="#fbe0a0"/>
<ellipse cx="543.5" cy="35.2" rx="1.08" ry="0.72" fill="#b8702c"/>
<ellipse cx="543.5" cy="33.7" rx="0.80" ry="2.00" fill="#e8b058"/>
<ellipse cx="543.5" cy="32.8" rx="0.40" ry="0.88" fill="#fbe0a0"/>
<ellipse cx="546.7" cy="36.3" rx="1.08" ry="0.72" fill="#b8702c"/>
<ellipse cx="546.7" cy="34.8" rx="0.80" ry="2.00" fill="#e8b058"/>
<ellipse cx="546.7" cy="33.9" rx="0.40" ry="0.88" fill="#fbe0a0"/>
<ellipse cx="520.2" cy="30.0" rx="1.08" ry="0.72" fill="#b8702c"/>
<ellipse cx="520.2" cy="28.5" rx="0.80" ry="2.00" fill="#e8b058"/>
<ellipse cx="520.2" cy="27.7" rx="0.40" ry="0.88" fill="#fbe0a0"/>
<ellipse cx="523.3" cy="31.1" rx="1.08" ry="0.72" fill="#b8702c"/>
<ellipse cx="523.3" cy="29.6" rx="0.80" ry="2.00" fill="#e8b058"/>
<ellipse cx="523.3" cy="28.7" rx="0.40" ry="0.88" fill="#fbe0a0"/>
<ellipse cx="526.5" cy="32.1" rx="1.08" ry="0.72" fill="#b8702c"/>
<ellipse cx="526.5" cy="30.6" rx="0.80" ry="2.00" fill="#e8b058"/>
<ellipse cx="526.5" cy="29.8" rx="0.40" ry="0.88" fill="#fbe0a0"/>
<ellipse cx="529.6" cy="33.2" rx="1.08" ry="0.72" fill="#b8702c"/>
<ellipse cx="529.6" cy="31.7" rx="0.80" ry="2.00" fill="#e8b058"/>
<ellipse cx="529.6" cy="30.8" rx="0.40" ry="0.88" fill="#fbe0a0"/>
<ellipse cx="532.8" cy="34.2" rx="1.08" ry="0.72" fill="#b8702c"/>
<ellipse cx="532.8" cy="32.8" rx="0.80" ry="2.00" fill="#e8b058"/>
<ellipse cx="532.8" cy="31.9" rx="0.40" ry="0.88" fill="#fbe0a0"/>
<ellipse cx="536.0" cy="35.3" rx="1.08" ry="0.72" fill="#b8702c"/>
<ellipse cx="536.0" cy="33.8" rx="0.80" ry="2.00" fill="#e8b058"/>
<ellipse cx="536.0" cy="32.9" rx="0.40" ry="0.88" fill="#fbe0a0"/>
<ellipse cx="539.1" cy="36.4" rx="1.08" ry="0.72" fill="#b8702c"/>
<ellipse cx="539.1" cy="34.9" rx="0.80" ry="2.00" fill="#e8b058"/>
<ellipse cx="539.1" cy="34.0" rx="0.40" ry="0.88" fill="#fbe0a0"/>
<ellipse cx="542.3" cy="37.4" rx="1.08" ry="0.72" fill="#b8702c"/>
<ellipse cx="542.3" cy="35.9" rx="0.80" ry="2.00" fill="#e8b058"/>
<ellipse cx="542.3" cy="35.0" rx="0.40" ry="0.88" fill="#fbe0a0"/>
<ellipse cx="545.4" cy="38.5" rx="1.08" ry="0.72" fill="#b8702c"/>
<ellipse cx="545.4" cy="37.0" rx="0.80" ry="2.00" fill="#e8b058"/>
<ellipse cx="545.4" cy="36.1" rx="0.40" ry="0.88" fill="#fbe0a0"/>
<ellipse cx="518.9" cy="32.2" rx="1.08" ry="0.72" fill="#b8702c"/>
<ellipse cx="518.9" cy="30.7" rx="0.80" ry="2.00" fill="#e8b058"/>
<ellipse cx="518.9" cy="29.9" rx="0.40" ry="0.88" fill="#fbe0a0"/>
<ellipse cx="522.1" cy="33.3" rx="1.08" ry="0.72" fill="#b8702c"/>
<ellipse cx="522.1" cy="31.8" rx="0.80" ry="2.00" fill="#e8b058"/>
<ellipse cx="522.1" cy="30.9" rx="0.40" ry="0.88" fill="#fbe0a0"/>
<ellipse cx="525.2" cy="34.3" rx="1.08" ry="0.72" fill="#b8702c"/>
<ellipse cx="525.2" cy="32.8" rx="0.80" ry="2.00" fill="#e8b058"/>
<ellipse cx="525.2" cy="32.0" rx="0.40" ry="0.88" fill="#fbe0a0"/>
<ellipse cx="528.4" cy="35.4" rx="1.08" ry="0.72" fill="#b8702c"/>
<ellipse cx="528.4" cy="33.9" rx="0.80" ry="2.00" fill="#e8b058"/>
<ellipse cx="528.4" cy="33.0" rx="0.40" ry="0.88" fill="#fbe0a0"/>
<ellipse cx="531.6" cy="36.5" rx="1.08" ry="0.72" fill="#b8702c"/>
<ellipse cx="531.6" cy="35.0" rx="0.80" ry="2.00" fill="#e8b058"/>
<ellipse cx="531.6" cy="34.1" rx="0.40" ry="0.88" fill="#fbe0a0"/>
<ellipse cx="534.7" cy="37.5" rx="1.08" ry="0.72" fill="#b8702c"/>
<ellipse cx="534.7" cy="36.0" rx="0.80" ry="2.00" fill="#e8b058"/>
<ellipse cx="534.7" cy="35.1" rx="0.40" ry="0.88" fill="#fbe0a0"/>
<ellipse cx="537.9" cy="38.6" rx="1.08" ry="0.72" fill="#b8702c"/>
<ellipse cx="537.9" cy="37.1" rx="0.80" ry="2.00" fill="#e8b058"/>
<ellipse cx="537.9" cy="36.2" rx="0.40" ry="0.88" fill="#fbe0a0"/>
<ellipse cx="541.0" cy="39.6" rx="1.08" ry="0.72" fill="#b8702c"/>
<ellipse cx="541.0" cy="38.1" rx="0.80" ry="2.00" fill="#e8b058"/>
<ellipse cx="541.0" cy="37.2" rx="0.40" ry="0.88" fill="#fbe0a0"/>
<ellipse cx="544.2" cy="40.7" rx="1.08" ry="0.72" fill="#b8702c"/>
<ellipse cx="544.2" cy="39.2" rx="0.80" ry="2.00" fill="#e8b058"/>
<ellipse cx="544.2" cy="38.3" rx="0.40" ry="0.88" fill="#fbe0a0"/>
<ellipse cx="517.7" cy="34.4" rx="1.08" ry="0.72" fill="#b8702c"/>
<ellipse cx="517.7" cy="32.9" rx="0.80" ry="2.00" fill="#e8b058"/>
<ellipse cx="517.7" cy="32.1" rx="0.40" ry="0.88" fill="#fbe0a0"/>
<ellipse cx="520.8" cy="35.5" rx="1.08" ry="0.72" fill="#b8702c"/>
<ellipse cx="520.8" cy="34.0" rx="0.80" ry="2.00" fill="#e8b058"/>
<ellipse cx="520.8" cy="33.1" rx="0.40" ry="0.88" fill="#fbe0a0"/>
<ellipse cx="524.0" cy="36.5" rx="1.08" ry="0.72" fill="#b8702c"/>
<ellipse cx="524.0" cy="35.0" rx="0.80" ry="2.00" fill="#e8b058"/>
<ellipse cx="524.0" cy="34.2" rx="0.40" ry="0.88" fill="#fbe0a0"/>
<ellipse cx="527.2" cy="37.6" rx="1.08" ry="0.72" fill="#b8702c"/>
<ellipse cx="527.2" cy="36.1" rx="0.80" ry="2.00" fill="#e8b058"/>
<ellipse cx="527.2" cy="35.2" rx="0.40" ry="0.88" fill="#fbe0a0"/>
<ellipse cx="530.3" cy="38.7" rx="1.08" ry="0.72" fill="#b8702c"/>
<ellipse cx="530.3" cy="37.2" rx="0.80" ry="2.00" fill="#e8b058"/>
<ellipse cx="530.3" cy="36.3" rx="0.40" ry="0.88" fill="#fbe0a0"/>
<ellipse cx="533.5" cy="39.7" rx="1.08" ry="0.72" fill="#b8702c"/>
<ellipse cx="533.5" cy="38.2" rx="0.80" ry="2.00" fill="#e8b058"/>
<ellipse cx="533.5" cy="37.3" rx="0.40" ry="0.88" fill="#fbe0a0"/>
<ellipse cx="536.6" cy="40.8" rx="1.08" ry="0.72" fill="#b8702c"/>
<ellipse cx="536.6" cy="39.3" rx="0.80" ry="2.00" fill="#e8b058"/>
<ellipse cx="536.6" cy="38.4" rx="0.40" ry="0.88" fill="#fbe0a0"/>
<ellipse cx="539.8" cy="41.8" rx="1.08" ry="0.72" fill="#b8702c"/>
<ellipse cx="539.8" cy="40.3" rx="0.80" ry="2.00" fill="#e8b058"/>
<ellipse cx="539.8" cy="39.4" rx="0.40" ry="0.88" fill="#fbe0a0"/>
<ellipse cx="542.9" cy="42.9" rx="1.08" ry="0.72" fill="#b8702c"/>
<ellipse cx="542.9" cy="41.4" rx="0.80" ry="2.00" fill="#e8b058"/>
<ellipse cx="542.9" cy="40.5" rx="0.40" ry="0.88" fill="#fbe0a0"/>
<ellipse cx="516.4" cy="36.6" rx="1.08" ry="0.72" fill="#b8702c"/>
<ellipse cx="516.4" cy="35.1" rx="0.80" ry="2.00" fill="#e8b058"/>
<ellipse cx="516.4" cy="34.3" rx="0.40" ry="0.88" fill="#fbe0a0"/>
<ellipse cx="519.6" cy="37.7" rx="1.08" ry="0.72" fill="#b8702c"/>
<ellipse cx="519.6" cy="36.2" rx="0.80" ry="2.00" fill="#e8b058"/>
<ellipse cx="519.6" cy="35.3" rx="0.40" ry="0.88" fill="#fbe0a0"/>
<ellipse cx="522.8" cy="38.7" rx="1.08" ry="0.72" fill="#b8702c"/>
<ellipse cx="522.8" cy="37.2" rx="0.80" ry="2.00" fill="#e8b058"/>
<ellipse cx="522.8" cy="36.4" rx="0.40" ry="0.88" fill="#fbe0a0"/>
<ellipse cx="525.9" cy="39.8" rx="1.08" ry="0.72" fill="#b8702c"/>
<ellipse cx="525.9" cy="38.3" rx="0.80" ry="2.00" fill="#e8b058"/>
<ellipse cx="525.9" cy="37.4" rx="0.40" ry="0.88" fill="#fbe0a0"/>
<ellipse cx="529.1" cy="40.9" rx="1.08" ry="0.72" fill="#b8702c"/>
<ellipse cx="529.1" cy="39.4" rx="0.80" ry="2.00" fill="#e8b058"/>
<ellipse cx="529.1" cy="38.5" rx="0.40" ry="0.88" fill="#fbe0a0"/>
<ellipse cx="532.2" cy="41.9" rx="1.08" ry="0.72" fill="#b8702c"/>
<ellipse cx="532.2" cy="40.4" rx="0.80" ry="2.00" fill="#e8b058"/>
<ellipse cx="532.2" cy="39.5" rx="0.40" ry="0.88" fill="#fbe0a0"/>
<ellipse cx="535.4" cy="43.0" rx="1.08" ry="0.72" fill="#b8702c"/>
<ellipse cx="535.4" cy="41.5" rx="0.80" ry="2.00" fill="#e8b058"/>
<ellipse cx="535.4" cy="40.6" rx="0.40" ry="0.88" fill="#fbe0a0"/>
<ellipse cx="538.5" cy="44.0" rx="1.08" ry="0.72" fill="#b8702c"/>
<ellipse cx="538.5" cy="42.5" rx="0.80" ry="2.00" fill="#e8b058"/>
<ellipse cx="538.5" cy="41.6" rx="0.40" ry="0.88" fill="#fbe0a0"/>
<ellipse cx="541.7" cy="45.1" rx="1.08" ry="0.72" fill="#b8702c"/>
<ellipse cx="541.7" cy="43.6" rx="0.80" ry="2.00" fill="#e8b058"/>
<ellipse cx="541.7" cy="42.7" rx="0.40" ry="0.88" fill="#fbe0a0"/>
<ellipse cx="515.2" cy="38.8" rx="1.08" ry="0.72" fill="#b8702c"/>
<ellipse cx="515.2" cy="37.3" rx="0.80" ry="2.00" fill="#e8b058"/>
<ellipse cx="515.2" cy="36.5" rx="0.40" ry="0.88" fill="#fbe0a0"/>
<ellipse cx="518.4" cy="39.9" rx="1.08" ry="0.72" fill="#b8702c"/>
<ellipse cx="518.4" cy="38.4" rx="0.80" ry="2.00" fill="#e8b058"/>
<ellipse cx="518.4" cy="37.5" rx="0.40" ry="0.88" fill="#fbe0a0"/>
<ellipse cx="521.5" cy="40.9" rx="1.08" ry="0.72" fill="#b8702c"/>
<ellipse cx="521.5" cy="39.4" rx="0.80" ry="2.00" fill="#e8b058"/>
<ellipse cx="521.5" cy="38.6" rx="0.40" ry="0.88" fill="#fbe0a0"/>
<ellipse cx="524.7" cy="42.0" rx="1.08" ry="0.72" fill="#b8702c"/>
<ellipse cx="524.7" cy="40.5" rx="0.80" ry="2.00" fill="#e8b058"/>
<ellipse cx="524.7" cy="39.6" rx="0.40" ry="0.88" fill="#fbe0a0"/>
<ellipse cx="527.8" cy="43.1" rx="1.08" ry="0.72" fill="#b8702c"/>
<ellipse cx="527.8" cy="41.6" rx="0.80" ry="2.00" fill="#e8b058"/>
<ellipse cx="527.8" cy="40.7" rx="0.40" ry="0.88" fill="#fbe0a0"/>
<ellipse cx="531.0" cy="44.1" rx="1.08" ry="0.72" fill="#b8702c"/>
<ellipse cx="531.0" cy="42.6" rx="0.80" ry="2.00" fill="#e8b058"/>
<ellipse cx="531.0" cy="41.7" rx="0.40" ry="0.88" fill="#fbe0a0"/>
<ellipse cx="534.1" cy="45.2" rx="1.08" ry="0.72" fill="#b8702c"/>
<ellipse cx="534.1" cy="43.7" rx="0.80" ry="2.00" fill="#e8b058"/>
<ellipse cx="534.1" cy="42.8" rx="0.40" ry="0.88" fill="#fbe0a0"/>
<ellipse cx="537.3" cy="46.2" rx="1.08" ry="0.72" fill="#b8702c"/>
<ellipse cx="537.3" cy="44.7" rx="0.80" ry="2.00" fill="#e8b058"/>
<ellipse cx="537.3" cy="43.8" rx="0.40" ry="0.88" fill="#fbe0a0"/>
<ellipse cx="540.4" cy="47.3" rx="1.08" ry="0.72" fill="#b8702c"/>
<ellipse cx="540.4" cy="45.8" rx="0.80" ry="2.00" fill="#e8b058"/>
<ellipse cx="540.4" cy="44.9" rx="0.40" ry="0.88" fill="#fbe0a0"/>
<text transform="translate(526.80,21.80) scale(0.950,1)" font-size="9.60" fill="#111" font-weight="bold" stroke="#111" stroke-width="0.35" font-family="Liberation Sans, sans-serif">P</text>
<text transform="translate(532.80,24.00) scale(0.900,1)" font-size="5.50" fill="#111" font-weight="bold" stroke="#111" stroke-width="0.20" font-family="Liberation Sans, sans-serif">3</text>
<text transform="translate(535.40,21.80) scale(0.870,1)" font-size="9.60" fill="#dc3446" font-weight="bold" stroke="#dc3446" stroke-width="0.25" font-family="Liberation Sans, sans-serif">:180</text>
<path d="M422.6,82.4 L452.0,92.9 L465.2,71.4" stroke="#d8d8d8" stroke-width="0.8" fill="none"/>
<polygon points="423.6,78.4 452.0,87.9 452.0,90.4 423.6,80.9" fill="#5a3410" />
<polygon points="452.0,87.9 463.2,66.4 463.2,68.9 452.0,90.4" fill="#4a2a0c" />
<polygon points="423.6,78.4 434.8,58.6 463.2,66.4 452.0,87.9" fill="#6e3e14" />
<ellipse cx="436.0" cy="60.7" rx="1.22" ry="0.81" fill="#b8702c"/>
<ellipse cx="436.0" cy="59.3" rx="0.90" ry="1.92" fill="#e8b058"/>
<ellipse cx="436.0" cy="58.4" rx="0.45" ry="0.84" fill="#fbe0a0"/>
<ellipse cx="440.1" cy="62.1" rx="1.22" ry="0.81" fill="#b8702c"/>
<ellipse cx="440.1" cy="60.6" rx="0.90" ry="1.92" fill="#e8b058"/>
<ellipse cx="440.1" cy="59.8" rx="0.45" ry="0.84" fill="#fbe0a0"/>
<ellipse cx="444.1" cy="63.4" rx="1.22" ry="0.81" fill="#b8702c"/>
<ellipse cx="444.1" cy="62.0" rx="0.90" ry="1.92" fill="#e8b058"/>
<ellipse cx="444.1" cy="61.1" rx="0.45" ry="0.84" fill="#fbe0a0"/>
<ellipse cx="448.2" cy="64.8" rx="1.22" ry="0.81" fill="#b8702c"/>
<ellipse cx="448.2" cy="63.3" rx="0.90" ry="1.92" fill="#e8b058"/>
<ellipse cx="448.2" cy="62.5" rx="0.45" ry="0.84" fill="#fbe0a0"/>
<ellipse cx="452.3" cy="66.1" rx="1.22" ry="0.81" fill="#b8702c"/>
<ellipse cx="452.3" cy="64.7" rx="0.90" ry="1.92" fill="#e8b058"/>
<ellipse cx="452.3" cy="63.8" rx="0.45" ry="0.84" fill="#fbe0a0"/>
<ellipse cx="456.3" cy="67.5" rx="1.22" ry="0.81" fill="#b8702c"/>
<ellipse cx="456.3" cy="66.0" rx="0.90" ry="1.92" fill="#e8b058"/>
<ellipse cx="456.3" cy="65.2" rx="0.45" ry="0.84" fill="#fbe0a0"/>
<ellipse cx="460.4" cy="68.8" rx="1.22" ry="0.81" fill="#b8702c"/>
<ellipse cx="460.4" cy="67.4" rx="0.90" ry="1.92" fill="#e8b058"/>
<ellipse cx="460.4" cy="66.6" rx="0.45" ry="0.84" fill="#fbe0a0"/>
<ellipse cx="434.4" cy="63.5" rx="1.22" ry="0.81" fill="#b8702c"/>
<ellipse cx="434.4" cy="62.1" rx="0.90" ry="1.92" fill="#e8b058"/>
<ellipse cx="434.4" cy="61.2" rx="0.45" ry="0.84" fill="#fbe0a0"/>
<ellipse cx="438.5" cy="64.9" rx="1.22" ry="0.81" fill="#b8702c"/>
<ellipse cx="438.5" cy="63.4" rx="0.90" ry="1.92" fill="#e8b058"/>
<ellipse cx="438.5" cy="62.6" rx="0.45" ry="0.84" fill="#fbe0a0"/>
<ellipse cx="442.5" cy="66.2" rx="1.22" ry="0.81" fill="#b8702c"/>
<ellipse cx="442.5" cy="64.8" rx="0.90" ry="1.92" fill="#e8b058"/>
<ellipse cx="442.5" cy="64.0" rx="0.45" ry="0.84" fill="#fbe0a0"/>
<ellipse cx="446.6" cy="67.6" rx="1.22" ry="0.81" fill="#b8702c"/>
<ellipse cx="446.6" cy="66.2" rx="0.90" ry="1.92" fill="#e8b058"/>
<ellipse cx="446.6" cy="65.3" rx="0.45" ry="0.84" fill="#fbe0a0"/>
<ellipse cx="450.7" cy="69.0" rx="1.22" ry="0.81" fill="#b8702c"/>
<ellipse cx="450.7" cy="67.5" rx="0.90" ry="1.92" fill="#e8b058"/>
<ellipse cx="450.7" cy="66.7" rx="0.45" ry="0.84" fill="#fbe0a0"/>
<ellipse cx="454.7" cy="70.3" rx="1.22" ry="0.81" fill="#b8702c"/>
<ellipse cx="454.7" cy="68.9" rx="0.90" ry="1.92" fill="#e8b058"/>
<ellipse cx="454.7" cy="68.0" rx="0.45" ry="0.84" fill="#fbe0a0"/>
<ellipse cx="458.8" cy="71.7" rx="1.22" ry="0.81" fill="#b8702c"/>
<ellipse cx="458.8" cy="70.2" rx="0.90" ry="1.92" fill="#e8b058"/>
<ellipse cx="458.8" cy="69.4" rx="0.45" ry="0.84" fill="#fbe0a0"/>
<ellipse cx="432.8" cy="66.4" rx="1.22" ry="0.81" fill="#b8702c"/>
<ellipse cx="432.8" cy="64.9" rx="0.90" ry="1.92" fill="#e8b058"/>
<ellipse cx="432.8" cy="64.1" rx="0.45" ry="0.84" fill="#fbe0a0"/>
<ellipse cx="436.9" cy="67.7" rx="1.22" ry="0.81" fill="#b8702c"/>
<ellipse cx="436.9" cy="66.3" rx="0.90" ry="1.92" fill="#e8b058"/>
<ellipse cx="436.9" cy="65.4" rx="0.45" ry="0.84" fill="#fbe0a0"/>
<ellipse cx="440.9" cy="69.1" rx="1.22" ry="0.81" fill="#b8702c"/>
<ellipse cx="440.9" cy="67.6" rx="0.90" ry="1.92" fill="#e8b058"/>
<ellipse cx="440.9" cy="66.8" rx="0.45" ry="0.84" fill="#fbe0a0"/>
<ellipse cx="445.0" cy="70.4" rx="1.22" ry="0.81" fill="#b8702c"/>
<ellipse cx="445.0" cy="69.0" rx="0.90" ry="1.92" fill="#e8b058"/>
<ellipse cx="445.0" cy="68.1" rx="0.45" ry="0.84" fill="#fbe0a0"/>
<ellipse cx="449.1" cy="71.8" rx="1.22" ry="0.81" fill="#b8702c"/>
<ellipse cx="449.1" cy="70.3" rx="0.90" ry="1.92" fill="#e8b058"/>
<ellipse cx="449.1" cy="69.5" rx="0.45" ry="0.84" fill="#fbe0a0"/>
<ellipse cx="453.1" cy="73.1" rx="1.22" ry="0.81" fill="#b8702c"/>
<ellipse cx="453.1" cy="71.7" rx="0.90" ry="1.92" fill="#e8b058"/>
<ellipse cx="453.1" cy="70.9" rx="0.45" ry="0.84" fill="#fbe0a0"/>
<ellipse cx="457.2" cy="74.5" rx="1.22" ry="0.81" fill="#b8702c"/>
<ellipse cx="457.2" cy="73.1" rx="0.90" ry="1.92" fill="#e8b058"/>
<ellipse cx="457.2" cy="72.2" rx="0.45" ry="0.84" fill="#fbe0a0"/>
<ellipse cx="431.2" cy="69.2" rx="1.22" ry="0.81" fill="#b8702c"/>
<ellipse cx="431.2" cy="67.7" rx="0.90" ry="1.92" fill="#e8b058"/>
<ellipse cx="431.2" cy="66.9" rx="0.45" ry="0.84" fill="#fbe0a0"/>
<ellipse cx="435.3" cy="70.5" rx="1.22" ry="0.81" fill="#b8702c"/>
<ellipse cx="435.3" cy="69.1" rx="0.90" ry="1.92" fill="#e8b058"/>
<ellipse cx="435.3" cy="68.3" rx="0.45" ry="0.84" fill="#fbe0a0"/>
<ellipse cx="439.3" cy="71.9" rx="1.22" ry="0.81" fill="#b8702c"/>
<ellipse cx="439.3" cy="70.5" rx="0.90" ry="1.92" fill="#e8b058"/>
<ellipse cx="439.3" cy="69.6" rx="0.45" ry="0.84" fill="#fbe0a0"/>
<ellipse cx="443.4" cy="73.2" rx="1.22" ry="0.81" fill="#b8702c"/>
<ellipse cx="443.4" cy="71.8" rx="0.90" ry="1.92" fill="#e8b058"/>
<ellipse cx="443.4" cy="71.0" rx="0.45" ry="0.84" fill="#fbe0a0"/>
<ellipse cx="447.5" cy="74.6" rx="1.22" ry="0.81" fill="#b8702c"/>
<ellipse cx="447.5" cy="73.2" rx="0.90" ry="1.92" fill="#e8b058"/>
<ellipse cx="447.5" cy="72.3" rx="0.45" ry="0.84" fill="#fbe0a0"/>
<ellipse cx="451.5" cy="76.0" rx="1.22" ry="0.81" fill="#b8702c"/>
<ellipse cx="451.5" cy="74.5" rx="0.90" ry="1.92" fill="#e8b058"/>
<ellipse cx="451.5" cy="73.7" rx="0.45" ry="0.84" fill="#fbe0a0"/>
<ellipse cx="455.6" cy="77.3" rx="1.22" ry="0.81" fill="#b8702c"/>
<ellipse cx="455.6" cy="75.9" rx="0.90" ry="1.92" fill="#e8b058"/>
<ellipse cx="455.6" cy="75.0" rx="0.45" ry="0.84" fill="#fbe0a0"/>
<ellipse cx="429.6" cy="72.0" rx="1.22" ry="0.81" fill="#b8702c"/>
<ellipse cx="429.6" cy="70.6" rx="0.90" ry="1.92" fill="#e8b058"/>
<ellipse cx="429.6" cy="69.7" rx="0.45" ry="0.84" fill="#fbe0a0"/>
<ellipse cx="433.7" cy="73.4" rx="1.22" ry="0.81" fill="#b8702c"/>
<ellipse cx="433.7" cy="71.9" rx="0.90" ry="1.92" fill="#e8b058"/>
<ellipse cx="433.7" cy="71.1" rx="0.45" ry="0.84" fill="#fbe0a0"/>
<ellipse cx="437.7" cy="74.7" rx="1.22" ry="0.81" fill="#b8702c"/>
<ellipse cx="437.7" cy="73.3" rx="0.90" ry="1.92" fill="#e8b058"/>
<ellipse cx="437.7" cy="72.4" rx="0.45" ry="0.84" fill="#fbe0a0"/>
<ellipse cx="441.8" cy="76.1" rx="1.22" ry="0.81" fill="#b8702c"/>
<ellipse cx="441.8" cy="74.6" rx="0.90" ry="1.92" fill="#e8b058"/>
<ellipse cx="441.8" cy="73.8" rx="0.45" ry="0.84" fill="#fbe0a0"/>
<ellipse cx="445.9" cy="77.4" rx="1.22" ry="0.81" fill="#b8702c"/>
<ellipse cx="445.9" cy="76.0" rx="0.90" ry="1.92" fill="#e8b058"/>
<ellipse cx="445.9" cy="75.2" rx="0.45" ry="0.84" fill="#fbe0a0"/>
<ellipse cx="449.9" cy="78.8" rx="1.22" ry="0.81" fill="#b8702c"/>
<ellipse cx="449.9" cy="77.4" rx="0.90" ry="1.92" fill="#e8b058"/>
<ellipse cx="449.9" cy="76.5" rx="0.45" ry="0.84" fill="#fbe0a0"/>
<ellipse cx="454.0" cy="80.2" rx="1.22" ry="0.81" fill="#b8702c"/>
<ellipse cx="454.0" cy="78.7" rx="0.90" ry="1.92" fill="#e8b058"/>
<ellipse cx="454.0" cy="77.9" rx="0.45" ry="0.84" fill="#fbe0a0"/>
<ellipse cx="428.0" cy="74.8" rx="1.22" ry="0.81" fill="#b8702c"/>
<ellipse cx="428.0" cy="73.4" rx="0.90" ry="1.92" fill="#e8b058"/>
<ellipse cx="428.0" cy="72.6" rx="0.45" ry="0.84" fill="#fbe0a0"/>
<ellipse cx="432.1" cy="76.2" rx="1.22" ry="0.81" fill="#b8702c"/>
<ellipse cx="432.1" cy="74.8" rx="0.90" ry="1.92" fill="#e8b058"/>
<ellipse cx="432.1" cy="73.9" rx="0.45" ry="0.84" fill="#fbe0a0"/>
<ellipse cx="436.1" cy="77.5" rx="1.22" ry="0.81" fill="#b8702c"/>
<ellipse cx="436.1" cy="76.1" rx="0.90" ry="1.92" fill="#e8b058"/>
<ellipse cx="436.1" cy="75.3" rx="0.45" ry="0.84" fill="#fbe0a0"/>
<ellipse cx="440.2" cy="78.9" rx="1.22" ry="0.81" fill="#b8702c"/>
<ellipse cx="440.2" cy="77.5" rx="0.90" ry="1.92" fill="#e8b058"/>
<ellipse cx="440.2" cy="76.6" rx="0.45" ry="0.84" fill="#fbe0a0"/>
<ellipse cx="444.3" cy="80.3" rx="1.22" ry="0.81" fill="#b8702c"/>
<ellipse cx="444.3" cy="78.8" rx="0.90" ry="1.92" fill="#e8b058"/>
<ellipse cx="444.3" cy="78.0" rx="0.45" ry="0.84" fill="#fbe0a0"/>
<ellipse cx="448.3" cy="81.6" rx="1.22" ry="0.81" fill="#b8702c"/>
<ellipse cx="448.3" cy="80.2" rx="0.90" ry="1.92" fill="#e8b058"/>
<ellipse cx="448.3" cy="79.3" rx="0.45" ry="0.84" fill="#fbe0a0"/>
<ellipse cx="452.4" cy="83.0" rx="1.22" ry="0.81" fill="#b8702c"/>
<ellipse cx="452.4" cy="81.5" rx="0.90" ry="1.92" fill="#e8b058"/>
<ellipse cx="452.4" cy="80.7" rx="0.45" ry="0.84" fill="#fbe0a0"/>
<ellipse cx="426.4" cy="77.7" rx="1.22" ry="0.81" fill="#b8702c"/>
<ellipse cx="426.4" cy="76.2" rx="0.90" ry="1.92" fill="#e8b058"/>
<ellipse cx="426.4" cy="75.4" rx="0.45" ry="0.84" fill="#fbe0a0"/>
<ellipse cx="430.5" cy="79.0" rx="1.22" ry="0.81" fill="#b8702c"/>
<ellipse cx="430.5" cy="77.6" rx="0.90" ry="1.92" fill="#e8b058"/>
<ellipse cx="430.5" cy="76.7" rx="0.45" ry="0.84" fill="#fbe0a0"/>
<ellipse cx="434.5" cy="80.4" rx="1.22" ry="0.81" fill="#b8702c"/>
<ellipse cx="434.5" cy="78.9" rx="0.90" ry="1.92" fill="#e8b058"/>
<ellipse cx="434.5" cy="78.1" rx="0.45" ry="0.84" fill="#fbe0a0"/>
<ellipse cx="438.6" cy="81.7" rx="1.22" ry="0.81" fill="#b8702c"/>
<ellipse cx="438.6" cy="80.3" rx="0.90" ry="1.92" fill="#e8b058"/>
<ellipse cx="438.6" cy="79.5" rx="0.45" ry="0.84" fill="#fbe0a0"/>
<ellipse cx="442.7" cy="83.1" rx="1.22" ry="0.81" fill="#b8702c"/>
<ellipse cx="442.7" cy="81.7" rx="0.90" ry="1.92" fill="#e8b058"/>
<ellipse cx="442.7" cy="80.8" rx="0.45" ry="0.84" fill="#fbe0a0"/>
<ellipse cx="446.7" cy="84.5" rx="1.22" ry="0.81" fill="#b8702c"/>
<ellipse cx="446.7" cy="83.0" rx="0.90" ry="1.92" fill="#e8b058"/>
<ellipse cx="446.7" cy="82.2" rx="0.45" ry="0.84" fill="#fbe0a0"/>
<ellipse cx="450.8" cy="85.8" rx="1.22" ry="0.81" fill="#b8702c"/>
<ellipse cx="450.8" cy="84.4" rx="0.90" ry="1.92" fill="#e8b058"/>
<ellipse cx="450.8" cy="83.5" rx="0.45" ry="0.84" fill="#fbe0a0"/>
<text transform="translate(437.40,60.80) scale(0.950,1)" font-size="9.60" fill="#111" font-weight="bold" stroke="#111" stroke-width="0.35" font-family="Liberation Sans, sans-serif">P</text>
<text transform="translate(443.40,63.00) scale(0.900,1)" font-size="5.50" fill="#111" font-weight="bold" stroke="#111" stroke-width="0.20" font-family="Liberation Sans, sans-serif">4</text>
<text transform="translate(446.00,60.80) scale(0.870,1)" font-size="9.60" fill="#dc3446" font-weight="bold" stroke="#dc3446" stroke-width="0.25" font-family="Liberation Sans, sans-serif">:200</text>
<path d="M467.0,82.4 L496.4,92.9 L509.6,71.4" stroke="#d8d8d8" stroke-width="0.8" fill="none"/>
<polygon points="468.0,78.4 496.4,87.9 496.4,90.4 468.0,80.9" fill="#5a3410" />
<polygon points="496.4,87.9 507.6,66.4 507.6,68.9 496.4,90.4" fill="#4a2a0c" />
<polygon points="468.0,78.4 479.2,58.6 507.6,66.4 496.4,87.9" fill="#6a3a12" />
<ellipse cx="480.4" cy="60.7" rx="1.28" ry="0.85" fill="#b8702c"/>
<ellipse cx="480.4" cy="59.3" rx="0.95" ry="1.84" fill="#e8b058"/>
<ellipse cx="480.4" cy="58.5" rx="0.47" ry="0.80" fill="#fbe0a0"/>
<ellipse cx="484.5" cy="62.1" rx="1.28" ry="0.85" fill="#b8702c"/>
<ellipse cx="484.5" cy="60.7" rx="0.95" ry="1.84" fill="#e8b058"/>
<ellipse cx="484.5" cy="59.9" rx="0.47" ry="0.80" fill="#fbe0a0"/>
<ellipse cx="488.5" cy="63.4" rx="1.28" ry="0.85" fill="#b8702c"/>
<ellipse cx="488.5" cy="62.0" rx="0.95" ry="1.84" fill="#e8b058"/>
<ellipse cx="488.5" cy="61.2" rx="0.47" ry="0.80" fill="#fbe0a0"/>
<ellipse cx="492.6" cy="64.8" rx="1.28" ry="0.85" fill="#b8702c"/>
<ellipse cx="492.6" cy="63.4" rx="0.95" ry="1.84" fill="#e8b058"/>
<ellipse cx="492.6" cy="62.6" rx="0.47" ry="0.80" fill="#fbe0a0"/>
<ellipse cx="496.7" cy="66.1" rx="1.28" ry="0.85" fill="#b8702c"/>
<ellipse cx="496.7" cy="64.7" rx="0.95" ry="1.84" fill="#e8b058"/>
<ellipse cx="496.7" cy="63.9" rx="0.47" ry="0.80" fill="#fbe0a0"/>
<ellipse cx="500.7" cy="67.5" rx="1.28" ry="0.85" fill="#b8702c"/>
<ellipse cx="500.7" cy="66.1" rx="0.95" ry="1.84" fill="#e8b058"/>
<ellipse cx="500.7" cy="65.3" rx="0.47" ry="0.80" fill="#fbe0a0"/>
<ellipse cx="504.8" cy="68.8" rx="1.28" ry="0.85" fill="#b8702c"/>
<ellipse cx="504.8" cy="67.5" rx="0.95" ry="1.84" fill="#e8b058"/>
<ellipse cx="504.8" cy="66.7" rx="0.47" ry="0.80" fill="#fbe0a0"/>
<ellipse cx="478.8" cy="63.5" rx="1.28" ry="0.85" fill="#b8702c"/>
<ellipse cx="478.8" cy="62.1" rx="0.95" ry="1.84" fill="#e8b058"/>
<ellipse cx="478.8" cy="61.3" rx="0.47" ry="0.80" fill="#fbe0a0"/>
<ellipse cx="482.9" cy="64.9" rx="1.28" ry="0.85" fill="#b8702c"/>
<ellipse cx="482.9" cy="63.5" rx="0.95" ry="1.84" fill="#e8b058"/>
<ellipse cx="482.9" cy="62.7" rx="0.47" ry="0.80" fill="#fbe0a0"/>
<ellipse cx="486.9" cy="66.2" rx="1.28" ry="0.85" fill="#b8702c"/>
<ellipse cx="486.9" cy="64.9" rx="0.95" ry="1.84" fill="#e8b058"/>
<ellipse cx="486.9" cy="64.1" rx="0.47" ry="0.80" fill="#fbe0a0"/>
<ellipse cx="491.0" cy="67.6" rx="1.28" ry="0.85" fill="#b8702c"/>
<ellipse cx="491.0" cy="66.2" rx="0.95" ry="1.84" fill="#e8b058"/>
<ellipse cx="491.0" cy="65.4" rx="0.47" ry="0.80" fill="#fbe0a0"/>
<ellipse cx="495.1" cy="69.0" rx="1.28" ry="0.85" fill="#b8702c"/>
<ellipse cx="495.1" cy="67.6" rx="0.95" ry="1.84" fill="#e8b058"/>
<ellipse cx="495.1" cy="66.8" rx="0.47" ry="0.80" fill="#fbe0a0"/>
<ellipse cx="499.1" cy="70.3" rx="1.28" ry="0.85" fill="#b8702c"/>
<ellipse cx="499.1" cy="68.9" rx="0.95" ry="1.84" fill="#e8b058"/>
<ellipse cx="499.1" cy="68.1" rx="0.47" ry="0.80" fill="#fbe0a0"/>
<ellipse cx="503.2" cy="71.7" rx="1.28" ry="0.85" fill="#b8702c"/>
<ellipse cx="503.2" cy="70.3" rx="0.95" ry="1.84" fill="#e8b058"/>
<ellipse cx="503.2" cy="69.5" rx="0.47" ry="0.80" fill="#fbe0a0"/>
<ellipse cx="477.2" cy="66.4" rx="1.28" ry="0.85" fill="#b8702c"/>
<ellipse cx="477.2" cy="65.0" rx="0.95" ry="1.84" fill="#e8b058"/>
<ellipse cx="477.2" cy="64.2" rx="0.47" ry="0.80" fill="#fbe0a0"/>
<ellipse cx="481.3" cy="67.7" rx="1.28" ry="0.85" fill="#b8702c"/>
<ellipse cx="481.3" cy="66.3" rx="0.95" ry="1.84" fill="#e8b058"/>
<ellipse cx="481.3" cy="65.5" rx="0.47" ry="0.80" fill="#fbe0a0"/>
<ellipse cx="485.3" cy="69.1" rx="1.28" ry="0.85" fill="#b8702c"/>
<ellipse cx="485.3" cy="67.7" rx="0.95" ry="1.84" fill="#e8b058"/>
<ellipse cx="485.3" cy="66.9" rx="0.47" ry="0.80" fill="#fbe0a0"/>
<ellipse cx="489.4" cy="70.4" rx="1.28" ry="0.85" fill="#b8702c"/>
<ellipse cx="489.4" cy="69.0" rx="0.95" ry="1.84" fill="#e8b058"/>
<ellipse cx="489.4" cy="68.2" rx="0.47" ry="0.80" fill="#fbe0a0"/>
<ellipse cx="493.5" cy="71.8" rx="1.28" ry="0.85" fill="#b8702c"/>
<ellipse cx="493.5" cy="70.4" rx="0.95" ry="1.84" fill="#e8b058"/>
<ellipse cx="493.5" cy="69.6" rx="0.47" ry="0.80" fill="#fbe0a0"/>
<ellipse cx="497.5" cy="73.1" rx="1.28" ry="0.85" fill="#b8702c"/>
<ellipse cx="497.5" cy="71.8" rx="0.95" ry="1.84" fill="#e8b058"/>
<ellipse cx="497.5" cy="71.0" rx="0.47" ry="0.80" fill="#fbe0a0"/>
<ellipse cx="501.6" cy="74.5" rx="1.28" ry="0.85" fill="#b8702c"/>
<ellipse cx="501.6" cy="73.1" rx="0.95" ry="1.84" fill="#e8b058"/>
<ellipse cx="501.6" cy="72.3" rx="0.47" ry="0.80" fill="#fbe0a0"/>
<ellipse cx="475.6" cy="69.2" rx="1.28" ry="0.85" fill="#b8702c"/>
<ellipse cx="475.6" cy="67.8" rx="0.95" ry="1.84" fill="#e8b058"/>
<ellipse cx="475.6" cy="67.0" rx="0.47" ry="0.80" fill="#fbe0a0"/>
<ellipse cx="479.7" cy="70.5" rx="1.28" ry="0.85" fill="#b8702c"/>
<ellipse cx="479.7" cy="69.2" rx="0.95" ry="1.84" fill="#e8b058"/>
<ellipse cx="479.7" cy="68.4" rx="0.47" ry="0.80" fill="#fbe0a0"/>
<ellipse cx="483.7" cy="71.9" rx="1.28" ry="0.85" fill="#b8702c"/>
<ellipse cx="483.7" cy="70.5" rx="0.95" ry="1.84" fill="#e8b058"/>
<ellipse cx="483.7" cy="69.7" rx="0.47" ry="0.80" fill="#fbe0a0"/>
<ellipse cx="487.8" cy="73.2" rx="1.28" ry="0.85" fill="#b8702c"/>
<ellipse cx="487.8" cy="71.9" rx="0.95" ry="1.84" fill="#e8b058"/>
<ellipse cx="487.8" cy="71.1" rx="0.47" ry="0.80" fill="#fbe0a0"/>
<ellipse cx="491.9" cy="74.6" rx="1.28" ry="0.85" fill="#b8702c"/>
<ellipse cx="491.9" cy="73.2" rx="0.95" ry="1.84" fill="#e8b058"/>
<ellipse cx="491.9" cy="72.4" rx="0.47" ry="0.80" fill="#fbe0a0"/>
<ellipse cx="495.9" cy="76.0" rx="1.28" ry="0.85" fill="#b8702c"/>
<ellipse cx="495.9" cy="74.6" rx="0.95" ry="1.84" fill="#e8b058"/>
<ellipse cx="495.9" cy="73.8" rx="0.47" ry="0.80" fill="#fbe0a0"/>
<ellipse cx="500.0" cy="77.3" rx="1.28" ry="0.85" fill="#b8702c"/>
<ellipse cx="500.0" cy="75.9" rx="0.95" ry="1.84" fill="#e8b058"/>
<ellipse cx="500.0" cy="75.1" rx="0.47" ry="0.80" fill="#fbe0a0"/>
<ellipse cx="474.0" cy="72.0" rx="1.28" ry="0.85" fill="#b8702c"/>
<ellipse cx="474.0" cy="70.6" rx="0.95" ry="1.84" fill="#e8b058"/>
<ellipse cx="474.0" cy="69.8" rx="0.47" ry="0.80" fill="#fbe0a0"/>
<ellipse cx="478.1" cy="73.4" rx="1.28" ry="0.85" fill="#b8702c"/>
<ellipse cx="478.1" cy="72.0" rx="0.95" ry="1.84" fill="#e8b058"/>
<ellipse cx="478.1" cy="71.2" rx="0.47" ry="0.80" fill="#fbe0a0"/>
<ellipse cx="482.1" cy="74.7" rx="1.28" ry="0.85" fill="#b8702c"/>
<ellipse cx="482.1" cy="73.3" rx="0.95" ry="1.84" fill="#e8b058"/>
<ellipse cx="482.1" cy="72.5" rx="0.47" ry="0.80" fill="#fbe0a0"/>
<ellipse cx="486.2" cy="76.1" rx="1.28" ry="0.85" fill="#b8702c"/>
<ellipse cx="486.2" cy="74.7" rx="0.95" ry="1.84" fill="#e8b058"/>
<ellipse cx="486.2" cy="73.9" rx="0.47" ry="0.80" fill="#fbe0a0"/>
<ellipse cx="490.3" cy="77.4" rx="1.28" ry="0.85" fill="#b8702c"/>
<ellipse cx="490.3" cy="76.1" rx="0.95" ry="1.84" fill="#e8b058"/>
<ellipse cx="490.3" cy="75.3" rx="0.47" ry="0.80" fill="#fbe0a0"/>
<ellipse cx="494.3" cy="78.8" rx="1.28" ry="0.85" fill="#b8702c"/>
<ellipse cx="494.3" cy="77.4" rx="0.95" ry="1.84" fill="#e8b058"/>
<ellipse cx="494.3" cy="76.6" rx="0.47" ry="0.80" fill="#fbe0a0"/>
<ellipse cx="498.4" cy="80.2" rx="1.28" ry="0.85" fill="#b8702c"/>
<ellipse cx="498.4" cy="78.8" rx="0.95" ry="1.84" fill="#e8b058"/>
<ellipse cx="498.4" cy="78.0" rx="0.47" ry="0.80" fill="#fbe0a0"/>
<ellipse cx="472.4" cy="74.8" rx="1.28" ry="0.85" fill="#b8702c"/>
<ellipse cx="472.4" cy="73.5" rx="0.95" ry="1.84" fill="#e8b058"/>
<ellipse cx="472.4" cy="72.7" rx="0.47" ry="0.80" fill="#fbe0a0"/>
<ellipse cx="476.5" cy="76.2" rx="1.28" ry="0.85" fill="#b8702c"/>
<ellipse cx="476.5" cy="74.8" rx="0.95" ry="1.84" fill="#e8b058"/>
<ellipse cx="476.5" cy="74.0" rx="0.47" ry="0.80" fill="#fbe0a0"/>
<ellipse cx="480.5" cy="77.5" rx="1.28" ry="0.85" fill="#b8702c"/>
<ellipse cx="480.5" cy="76.2" rx="0.95" ry="1.84" fill="#e8b058"/>
<ellipse cx="480.5" cy="75.4" rx="0.47" ry="0.80" fill="#fbe0a0"/>
<ellipse cx="484.6" cy="78.9" rx="1.28" ry="0.85" fill="#b8702c"/>
<ellipse cx="484.6" cy="77.5" rx="0.95" ry="1.84" fill="#e8b058"/>
<ellipse cx="484.6" cy="76.7" rx="0.47" ry="0.80" fill="#fbe0a0"/>
<ellipse cx="488.7" cy="80.3" rx="1.28" ry="0.85" fill="#b8702c"/>
<ellipse cx="488.7" cy="78.9" rx="0.95" ry="1.84" fill="#e8b058"/>
<ellipse cx="488.7" cy="78.1" rx="0.47" ry="0.80" fill="#fbe0a0"/>
<ellipse cx="492.7" cy="81.6" rx="1.28" ry="0.85" fill="#b8702c"/>
<ellipse cx="492.7" cy="80.2" rx="0.95" ry="1.84" fill="#e8b058"/>
<ellipse cx="492.7" cy="79.4" rx="0.47" ry="0.80" fill="#fbe0a0"/>
<ellipse cx="496.8" cy="83.0" rx="1.28" ry="0.85" fill="#b8702c"/>
<ellipse cx="496.8" cy="81.6" rx="0.95" ry="1.84" fill="#e8b058"/>
<ellipse cx="496.8" cy="80.8" rx="0.47" ry="0.80" fill="#fbe0a0"/>
<ellipse cx="470.8" cy="77.7" rx="1.28" ry="0.85" fill="#b8702c"/>
<ellipse cx="470.8" cy="76.3" rx="0.95" ry="1.84" fill="#e8b058"/>
<ellipse cx="470.8" cy="75.5" rx="0.47" ry="0.80" fill="#fbe0a0"/>
<ellipse cx="474.9" cy="79.0" rx="1.28" ry="0.85" fill="#b8702c"/>
<ellipse cx="474.9" cy="77.6" rx="0.95" ry="1.84" fill="#e8b058"/>
<ellipse cx="474.9" cy="76.8" rx="0.47" ry="0.80" fill="#fbe0a0"/>
<ellipse cx="478.9" cy="80.4" rx="1.28" ry="0.85" fill="#b8702c"/>
<ellipse cx="478.9" cy="79.0" rx="0.95" ry="1.84" fill="#e8b058"/>
<ellipse cx="478.9" cy="78.2" rx="0.47" ry="0.80" fill="#fbe0a0"/>
<ellipse cx="483.0" cy="81.7" rx="1.28" ry="0.85" fill="#b8702c"/>
<ellipse cx="483.0" cy="80.4" rx="0.95" ry="1.84" fill="#e8b058"/>
<ellipse cx="483.0" cy="79.6" rx="0.47" ry="0.80" fill="#fbe0a0"/>
<ellipse cx="487.1" cy="83.1" rx="1.28" ry="0.85" fill="#b8702c"/>
<ellipse cx="487.1" cy="81.7" rx="0.95" ry="1.84" fill="#e8b058"/>
<ellipse cx="487.1" cy="80.9" rx="0.47" ry="0.80" fill="#fbe0a0"/>
<ellipse cx="491.1" cy="84.5" rx="1.28" ry="0.85" fill="#b8702c"/>
<ellipse cx="491.1" cy="83.1" rx="0.95" ry="1.84" fill="#e8b058"/>
<ellipse cx="491.1" cy="82.3" rx="0.47" ry="0.80" fill="#fbe0a0"/>
<ellipse cx="495.2" cy="85.8" rx="1.28" ry="0.85" fill="#b8702c"/>
<ellipse cx="495.2" cy="84.4" rx="0.95" ry="1.84" fill="#e8b058"/>
<ellipse cx="495.2" cy="83.6" rx="0.47" ry="0.80" fill="#fbe0a0"/>
<text transform="translate(481.80,60.80) scale(0.950,1)" font-size="9.60" fill="#111" font-weight="bold" stroke="#111" stroke-width="0.35" font-family="Liberation Sans, sans-serif">P</text>
<text transform="translate(487.80,63.00) scale(0.900,1)" font-size="5.50" fill="#111" font-weight="bold" stroke="#111" stroke-width="0.20" font-family="Liberation Sans, sans-serif">5</text>
<text transform="translate(490.40,60.80) scale(0.870,1)" font-size="9.60" fill="#dc3446" font-weight="bold" stroke="#dc3446" stroke-width="0.25" font-family="Liberation Sans, sans-serif">:230</text>
<path d="M512.0,82.4 L541.4,92.9 L554.6,71.4" stroke="#d8d8d8" stroke-width="0.8" fill="none"/>
<polygon points="513.0,78.4 541.4,87.9 541.4,90.4 513.0,80.9" fill="#5a3410" />
<polygon points="541.4,87.9 552.6,66.4 552.6,68.9 541.4,90.4" fill="#4a2a0c" />
<polygon points="513.0,78.4 524.2,58.6 552.6,66.4 541.4,87.9" fill="#663610" />
<ellipse cx="525.6" cy="61.0" rx="1.28" ry="0.85" fill="#b8702c"/>
<ellipse cx="525.6" cy="59.7" rx="0.95" ry="1.84" fill="#e8b058"/>
<ellipse cx="525.6" cy="58.9" rx="0.47" ry="0.80" fill="#fbe0a0"/>
<ellipse cx="530.4" cy="62.6" rx="1.28" ry="0.85" fill="#b8702c"/>
<ellipse cx="530.4" cy="61.2" rx="0.95" ry="1.84" fill="#e8b058"/>
<ellipse cx="530.4" cy="60.4" rx="0.47" ry="0.80" fill="#fbe0a0"/>
<ellipse cx="535.1" cy="64.2" rx="1.28" ry="0.85" fill="#b8702c"/>
<ellipse cx="535.1" cy="62.8" rx="0.95" ry="1.84" fill="#e8b058"/>
<ellipse cx="535.1" cy="62.0" rx="0.47" ry="0.80" fill="#fbe0a0"/>
<ellipse cx="539.8" cy="65.8" rx="1.28" ry="0.85" fill="#b8702c"/>
<ellipse cx="539.8" cy="64.4" rx="0.95" ry="1.84" fill="#e8b058"/>
<ellipse cx="539.8" cy="63.6" rx="0.47" ry="0.80" fill="#fbe0a0"/>
<ellipse cx="544.6" cy="67.4" rx="1.28" ry="0.85" fill="#b8702c"/>
<ellipse cx="544.6" cy="66.0" rx="0.95" ry="1.84" fill="#e8b058"/>
<ellipse cx="544.6" cy="65.2" rx="0.47" ry="0.80" fill="#fbe0a0"/>
<ellipse cx="549.3" cy="69.0" rx="1.28" ry="0.85" fill="#b8702c"/>
<ellipse cx="549.3" cy="67.6" rx="0.95" ry="1.84" fill="#e8b058"/>
<ellipse cx="549.3" cy="66.8" rx="0.47" ry="0.80" fill="#fbe0a0"/>
<ellipse cx="523.8" cy="64.3" rx="1.28" ry="0.85" fill="#b8702c"/>
<ellipse cx="523.8" cy="63.0" rx="0.95" ry="1.84" fill="#e8b058"/>
<ellipse cx="523.8" cy="62.2" rx="0.47" ry="0.80" fill="#fbe0a0"/>
<ellipse cx="528.5" cy="65.9" rx="1.28" ry="0.85" fill="#b8702c"/>
<ellipse cx="528.5" cy="64.5" rx="0.95" ry="1.84" fill="#e8b058"/>
<ellipse cx="528.5" cy="63.7" rx="0.47" ry="0.80" fill="#fbe0a0"/>
<ellipse cx="533.2" cy="67.5" rx="1.28" ry="0.85" fill="#b8702c"/>
<ellipse cx="533.2" cy="66.1" rx="0.95" ry="1.84" fill="#e8b058"/>
<ellipse cx="533.2" cy="65.3" rx="0.47" ry="0.80" fill="#fbe0a0"/>
<ellipse cx="538.0" cy="69.1" rx="1.28" ry="0.85" fill="#b8702c"/>
<ellipse cx="538.0" cy="67.7" rx="0.95" ry="1.84" fill="#e8b058"/>
<ellipse cx="538.0" cy="66.9" rx="0.47" ry="0.80" fill="#fbe0a0"/>
<ellipse cx="542.7" cy="70.7" rx="1.28" ry="0.85" fill="#b8702c"/>
<ellipse cx="542.7" cy="69.3" rx="0.95" ry="1.84" fill="#e8b058"/>
<ellipse cx="542.7" cy="68.5" rx="0.47" ry="0.80" fill="#fbe0a0"/>
<ellipse cx="547.4" cy="72.3" rx="1.28" ry="0.85" fill="#b8702c"/>
<ellipse cx="547.4" cy="70.9" rx="0.95" ry="1.84" fill="#e8b058"/>
<ellipse cx="547.4" cy="70.1" rx="0.47" ry="0.80" fill="#fbe0a0"/>
<ellipse cx="521.9" cy="67.6" rx="1.28" ry="0.85" fill="#b8702c"/>
<ellipse cx="521.9" cy="66.3" rx="0.95" ry="1.84" fill="#e8b058"/>
<ellipse cx="521.9" cy="65.5" rx="0.47" ry="0.80" fill="#fbe0a0"/>
<ellipse cx="526.6" cy="69.2" rx="1.28" ry="0.85" fill="#b8702c"/>
<ellipse cx="526.6" cy="67.8" rx="0.95" ry="1.84" fill="#e8b058"/>
<ellipse cx="526.6" cy="67.0" rx="0.47" ry="0.80" fill="#fbe0a0"/>
<ellipse cx="531.4" cy="70.8" rx="1.28" ry="0.85" fill="#b8702c"/>
<ellipse cx="531.4" cy="69.4" rx="0.95" ry="1.84" fill="#e8b058"/>
<ellipse cx="531.4" cy="68.6" rx="0.47" ry="0.80" fill="#fbe0a0"/>
<ellipse cx="536.1" cy="72.4" rx="1.28" ry="0.85" fill="#b8702c"/>
<ellipse cx="536.1" cy="71.0" rx="0.95" ry="1.84" fill="#e8b058"/>
<ellipse cx="536.1" cy="70.2" rx="0.47" ry="0.80" fill="#fbe0a0"/>
<ellipse cx="540.8" cy="74.0" rx="1.28" ry="0.85" fill="#b8702c"/>
<ellipse cx="540.8" cy="72.6" rx="0.95" ry="1.84" fill="#e8b058"/>
<ellipse cx="540.8" cy="71.8" rx="0.47" ry="0.80" fill="#fbe0a0"/>
<ellipse cx="545.6" cy="75.6" rx="1.28" ry="0.85" fill="#b8702c"/>
<ellipse cx="545.6" cy="74.2" rx="0.95" ry="1.84" fill="#e8b058"/>
<ellipse cx="545.6" cy="73.4" rx="0.47" ry="0.80" fill="#fbe0a0"/>
<ellipse cx="520.0" cy="70.9" rx="1.28" ry="0.85" fill="#b8702c"/>
<ellipse cx="520.0" cy="69.6" rx="0.95" ry="1.84" fill="#e8b058"/>
<ellipse cx="520.0" cy="68.8" rx="0.47" ry="0.80" fill="#fbe0a0"/>
<ellipse cx="524.8" cy="72.5" rx="1.28" ry="0.85" fill="#b8702c"/>
<ellipse cx="524.8" cy="71.1" rx="0.95" ry="1.84" fill="#e8b058"/>
<ellipse cx="524.8" cy="70.3" rx="0.47" ry="0.80" fill="#fbe0a0"/>
<ellipse cx="529.5" cy="74.1" rx="1.28" ry="0.85" fill="#b8702c"/>
<ellipse cx="529.5" cy="72.7" rx="0.95" ry="1.84" fill="#e8b058"/>
<ellipse cx="529.5" cy="71.9" rx="0.47" ry="0.80" fill="#fbe0a0"/>
<ellipse cx="534.2" cy="75.7" rx="1.28" ry="0.85" fill="#b8702c"/>
<ellipse cx="534.2" cy="74.3" rx="0.95" ry="1.84" fill="#e8b058"/>
<ellipse cx="534.2" cy="73.5" rx="0.47" ry="0.80" fill="#fbe0a0"/>
<ellipse cx="539.0" cy="77.3" rx="1.28" ry="0.85" fill="#b8702c"/>
<ellipse cx="539.0" cy="75.9" rx="0.95" ry="1.84" fill="#e8b058"/>
<ellipse cx="539.0" cy="75.1" rx="0.47" ry="0.80" fill="#fbe0a0"/>
<ellipse cx="543.7" cy="78.9" rx="1.28" ry="0.85" fill="#b8702c"/>
<ellipse cx="543.7" cy="77.5" rx="0.95" ry="1.84" fill="#e8b058"/>
<ellipse cx="543.7" cy="76.7" rx="0.47" ry="0.80" fill="#fbe0a0"/>
<ellipse cx="518.2" cy="74.2" rx="1.28" ry="0.85" fill="#b8702c"/>
<ellipse cx="518.2" cy="72.9" rx="0.95" ry="1.84" fill="#e8b058"/>
<ellipse cx="518.2" cy="72.1" rx="0.47" ry="0.80" fill="#fbe0a0"/>
<ellipse cx="522.9" cy="75.8" rx="1.28" ry="0.85" fill="#b8702c"/>
<ellipse cx="522.9" cy="74.4" rx="0.95" ry="1.84" fill="#e8b058"/>
<ellipse cx="522.9" cy="73.6" rx="0.47" ry="0.80" fill="#fbe0a0"/>
<ellipse cx="527.6" cy="77.4" rx="1.28" ry="0.85" fill="#b8702c"/>
<ellipse cx="527.6" cy="76.0" rx="0.95" ry="1.84" fill="#e8b058"/>
<ellipse cx="527.6" cy="75.2" rx="0.47" ry="0.80" fill="#fbe0a0"/>
<ellipse cx="532.4" cy="79.0" rx="1.28" ry="0.85" fill="#b8702c"/>
<ellipse cx="532.4" cy="77.6" rx="0.95" ry="1.84" fill="#e8b058"/>
<ellipse cx="532.4" cy="76.8" rx="0.47" ry="0.80" fill="#fbe0a0"/>
<ellipse cx="537.1" cy="80.6" rx="1.28" ry="0.85" fill="#b8702c"/>
<ellipse cx="537.1" cy="79.2" rx="0.95" ry="1.84" fill="#e8b058"/>
<ellipse cx="537.1" cy="78.4" rx="0.47" ry="0.80" fill="#fbe0a0"/>
<ellipse cx="541.8" cy="82.2" rx="1.28" ry="0.85" fill="#b8702c"/>
<ellipse cx="541.8" cy="80.8" rx="0.95" ry="1.84" fill="#e8b058"/>
<ellipse cx="541.8" cy="80.0" rx="0.47" ry="0.80" fill="#fbe0a0"/>
<ellipse cx="516.3" cy="77.5" rx="1.28" ry="0.85" fill="#b8702c"/>
<ellipse cx="516.3" cy="76.2" rx="0.95" ry="1.84" fill="#e8b058"/>
<ellipse cx="516.3" cy="75.4" rx="0.47" ry="0.80" fill="#fbe0a0"/>
<ellipse cx="521.0" cy="79.1" rx="1.28" ry="0.85" fill="#b8702c"/>
<ellipse cx="521.0" cy="77.7" rx="0.95" ry="1.84" fill="#e8b058"/>
<ellipse cx="521.0" cy="76.9" rx="0.47" ry="0.80" fill="#fbe0a0"/>
<ellipse cx="525.8" cy="80.7" rx="1.28" ry="0.85" fill="#b8702c"/>
<ellipse cx="525.8" cy="79.3" rx="0.95" ry="1.84" fill="#e8b058"/>
<ellipse cx="525.8" cy="78.5" rx="0.47" ry="0.80" fill="#fbe0a0"/>
<ellipse cx="530.5" cy="82.3" rx="1.28" ry="0.85" fill="#b8702c"/>
<ellipse cx="530.5" cy="80.9" rx="0.95" ry="1.84" fill="#e8b058"/>
<ellipse cx="530.5" cy="80.1" rx="0.47" ry="0.80" fill="#fbe0a0"/>
<ellipse cx="535.2" cy="83.9" rx="1.28" ry="0.85" fill="#b8702c"/>
<ellipse cx="535.2" cy="82.5" rx="0.95" ry="1.84" fill="#e8b058"/>
<ellipse cx="535.2" cy="81.7" rx="0.47" ry="0.80" fill="#fbe0a0"/>
<ellipse cx="540.0" cy="85.5" rx="1.28" ry="0.85" fill="#b8702c"/>
<ellipse cx="540.0" cy="84.1" rx="0.95" ry="1.84" fill="#e8b058"/>
<ellipse cx="540.0" cy="83.3" rx="0.47" ry="0.80" fill="#fbe0a0"/>
<text transform="translate(526.80,60.80) scale(0.950,1)" font-size="9.60" fill="#111" font-weight="bold" stroke="#111" stroke-width="0.35" font-family="Liberation Sans, sans-serif">P</text>
<text transform="translate(532.80,63.00) scale(0.900,1)" font-size="5.50" fill="#111" font-weight="bold" stroke="#111" stroke-width="0.20" font-family="Liberation Sans, sans-serif">6</text>
<text transform="translate(535.40,60.80) scale(0.870,1)" font-size="9.60" fill="#dc3446" font-weight="bold" stroke="#dc3446" stroke-width="0.25" font-family="Liberation Sans, sans-serif">:250</text>
<path d="M422.6,120.8 L452.0,131.3 L465.2,109.8" stroke="#d8d8d8" stroke-width="0.8" fill="none"/>
<polygon points="423.6,116.8 452.0,126.3 452.0,128.8 423.6,119.3" fill="#5a3410" />
<polygon points="452.0,126.3 463.2,104.8 463.2,107.3 452.0,128.8" fill="#4a2a0c" />
<polygon points="423.6,116.8 434.8,97.0 463.2,104.8 452.0,126.3" fill="#643410" />
<ellipse cx="436.2" cy="99.4" rx="1.42" ry="0.95" fill="#b8702c"/>
<ellipse cx="436.2" cy="98.1" rx="1.05" ry="1.84" fill="#e8b058"/>
<ellipse cx="436.2" cy="97.3" rx="0.53" ry="0.80" fill="#fbe0a0"/>
<ellipse cx="441.0" cy="101.0" rx="1.42" ry="0.95" fill="#b8702c"/>
<ellipse cx="441.0" cy="99.6" rx="1.05" ry="1.84" fill="#e8b058"/>
<ellipse cx="441.0" cy="98.8" rx="0.53" ry="0.80" fill="#fbe0a0"/>
<ellipse cx="445.7" cy="102.6" rx="1.42" ry="0.95" fill="#b8702c"/>
<ellipse cx="445.7" cy="101.2" rx="1.05" ry="1.84" fill="#e8b058"/>
<ellipse cx="445.7" cy="100.4" rx="0.53" ry="0.80" fill="#fbe0a0"/>
<ellipse cx="450.4" cy="104.2" rx="1.42" ry="0.95" fill="#b8702c"/>
<ellipse cx="450.4" cy="102.8" rx="1.05" ry="1.84" fill="#e8b058"/>
<ellipse cx="450.4" cy="102.0" rx="0.53" ry="0.80" fill="#fbe0a0"/>
<ellipse cx="455.2" cy="105.8" rx="1.42" ry="0.95" fill="#b8702c"/>
<ellipse cx="455.2" cy="104.4" rx="1.05" ry="1.84" fill="#e8b058"/>
<ellipse cx="455.2" cy="103.6" rx="0.53" ry="0.80" fill="#fbe0a0"/>
<ellipse cx="459.9" cy="107.4" rx="1.42" ry="0.95" fill="#b8702c"/>
<ellipse cx="459.9" cy="106.0" rx="1.05" ry="1.84" fill="#e8b058"/>
<ellipse cx="459.9" cy="105.2" rx="0.53" ry="0.80" fill="#fbe0a0"/>
<ellipse cx="434.4" cy="102.7" rx="1.42" ry="0.95" fill="#b8702c"/>
<ellipse cx="434.4" cy="101.4" rx="1.05" ry="1.84" fill="#e8b058"/>
<ellipse cx="434.4" cy="100.6" rx="0.53" ry="0.80" fill="#fbe0a0"/>
<ellipse cx="439.1" cy="104.3" rx="1.42" ry="0.95" fill="#b8702c"/>
<ellipse cx="439.1" cy="102.9" rx="1.05" ry="1.84" fill="#e8b058"/>
<ellipse cx="439.1" cy="102.1" rx="0.53" ry="0.80" fill="#fbe0a0"/>
<ellipse cx="443.8" cy="105.9" rx="1.42" ry="0.95" fill="#b8702c"/>
<ellipse cx="443.8" cy="104.5" rx="1.05" ry="1.84" fill="#e8b058"/>
<ellipse cx="443.8" cy="103.7" rx="0.53" ry="0.80" fill="#fbe0a0"/>
<ellipse cx="448.6" cy="107.5" rx="1.42" ry="0.95" fill="#b8702c"/>
<ellipse cx="448.6" cy="106.1" rx="1.05" ry="1.84" fill="#e8b058"/>
<ellipse cx="448.6" cy="105.3" rx="0.53" ry="0.80" fill="#fbe0a0"/>
<ellipse cx="453.3" cy="109.1" rx="1.42" ry="0.95" fill="#b8702c"/>
<ellipse cx="453.3" cy="107.7" rx="1.05" ry="1.84" fill="#e8b058"/>
<ellipse cx="453.3" cy="106.9" rx="0.53" ry="0.80" fill="#fbe0a0"/>
<ellipse cx="458.0" cy="110.7" rx="1.42" ry="0.95" fill="#b8702c"/>
<ellipse cx="458.0" cy="109.3" rx="1.05" ry="1.84" fill="#e8b058"/>
<ellipse cx="458.0" cy="108.5" rx="0.53" ry="0.80" fill="#fbe0a0"/>
<ellipse cx="432.5" cy="106.0" rx="1.42" ry="0.95" fill="#b8702c"/>
<ellipse cx="432.5" cy="104.7" rx="1.05" ry="1.84" fill="#e8b058"/>
<ellipse cx="432.5" cy="103.9" rx="0.53" ry="0.80" fill="#fbe0a0"/>
<ellipse cx="437.2" cy="107.6" rx="1.42" ry="0.95" fill="#b8702c"/>
<ellipse cx="437.2" cy="106.2" rx="1.05" ry="1.84" fill="#e8b058"/>
<ellipse cx="437.2" cy="105.4" rx="0.53" ry="0.80" fill="#fbe0a0"/>
<ellipse cx="442.0" cy="109.2" rx="1.42" ry="0.95" fill="#b8702c"/>
<ellipse cx="442.0" cy="107.8" rx="1.05" ry="1.84" fill="#e8b058"/>
<ellipse cx="442.0" cy="107.0" rx="0.53" ry="0.80" fill="#fbe0a0"/>
<ellipse cx="446.7" cy="110.8" rx="1.42" ry="0.95" fill="#b8702c"/>
<ellipse cx="446.7" cy="109.4" rx="1.05" ry="1.84" fill="#e8b058"/>
<ellipse cx="446.7" cy="108.6" rx="0.53" ry="0.80" fill="#fbe0a0"/>
<ellipse cx="451.4" cy="112.4" rx="1.42" ry="0.95" fill="#b8702c"/>
<ellipse cx="451.4" cy="111.0" rx="1.05" ry="1.84" fill="#e8b058"/>
<ellipse cx="451.4" cy="110.2" rx="0.53" ry="0.80" fill="#fbe0a0"/>
<ellipse cx="456.2" cy="114.0" rx="1.42" ry="0.95" fill="#b8702c"/>
<ellipse cx="456.2" cy="112.6" rx="1.05" ry="1.84" fill="#e8b058"/>
<ellipse cx="456.2" cy="111.8" rx="0.53" ry="0.80" fill="#fbe0a0"/>
<ellipse cx="430.6" cy="109.3" rx="1.42" ry="0.95" fill="#b8702c"/>
<ellipse cx="430.6" cy="108.0" rx="1.05" ry="1.84" fill="#e8b058"/>
<ellipse cx="430.6" cy="107.2" rx="0.53" ry="0.80" fill="#fbe0a0"/>
<ellipse cx="435.4" cy="110.9" rx="1.42" ry="0.95" fill="#b8702c"/>
<ellipse cx="435.4" cy="109.5" rx="1.05" ry="1.84" fill="#e8b058"/>
<ellipse cx="435.4" cy="108.7" rx="0.53" ry="0.80" fill="#fbe0a0"/>
<ellipse cx="440.1" cy="112.5" rx="1.42" ry="0.95" fill="#b8702c"/>
<ellipse cx="440.1" cy="111.1" rx="1.05" ry="1.84" fill="#e8b058"/>
<ellipse cx="440.1" cy="110.3" rx="0.53" ry="0.80" fill="#fbe0a0"/>
<ellipse cx="444.8" cy="114.1" rx="1.42" ry="0.95" fill="#b8702c"/>
<ellipse cx="444.8" cy="112.7" rx="1.05" ry="1.84" fill="#e8b058"/>
<ellipse cx="444.8" cy="111.9" rx="0.53" ry="0.80" fill="#fbe0a0"/>
<ellipse cx="449.6" cy="115.7" rx="1.42" ry="0.95" fill="#b8702c"/>
<ellipse cx="449.6" cy="114.3" rx="1.05" ry="1.84" fill="#e8b058"/>
<ellipse cx="449.6" cy="113.5" rx="0.53" ry="0.80" fill="#fbe0a0"/>
<ellipse cx="454.3" cy="117.3" rx="1.42" ry="0.95" fill="#b8702c"/>
<ellipse cx="454.3" cy="115.9" rx="1.05" ry="1.84" fill="#e8b058"/>
<ellipse cx="454.3" cy="115.1" rx="0.53" ry="0.80" fill="#fbe0a0"/>
<ellipse cx="428.8" cy="112.6" rx="1.42" ry="0.95" fill="#b8702c"/>
<ellipse cx="428.8" cy="111.3" rx="1.05" ry="1.84" fill="#e8b058"/>
<ellipse cx="428.8" cy="110.5" rx="0.53" ry="0.80" fill="#fbe0a0"/>
<ellipse cx="433.5" cy="114.2" rx="1.42" ry="0.95" fill="#b8702c"/>
<ellipse cx="433.5" cy="112.8" rx="1.05" ry="1.84" fill="#e8b058"/>
<ellipse cx="433.5" cy="112.0" rx="0.53" ry="0.80" fill="#fbe0a0"/>
<ellipse cx="438.2" cy="115.8" rx="1.42" ry="0.95" fill="#b8702c"/>
<ellipse cx="438.2" cy="114.4" rx="1.05" ry="1.84" fill="#e8b058"/>
<ellipse cx="438.2" cy="113.6" rx="0.53" ry="0.80" fill="#fbe0a0"/>
<ellipse cx="443.0" cy="117.4" rx="1.42" ry="0.95" fill="#b8702c"/>
<ellipse cx="443.0" cy="116.0" rx="1.05" ry="1.84" fill="#e8b058"/>
<ellipse cx="443.0" cy="115.2" rx="0.53" ry="0.80" fill="#fbe0a0"/>
<ellipse cx="447.7" cy="119.0" rx="1.42" ry="0.95" fill="#b8702c"/>
<ellipse cx="447.7" cy="117.6" rx="1.05" ry="1.84" fill="#e8b058"/>
<ellipse cx="447.7" cy="116.8" rx="0.53" ry="0.80" fill="#fbe0a0"/>
<ellipse cx="452.4" cy="120.6" rx="1.42" ry="0.95" fill="#b8702c"/>
<ellipse cx="452.4" cy="119.2" rx="1.05" ry="1.84" fill="#e8b058"/>
<ellipse cx="452.4" cy="118.4" rx="0.53" ry="0.80" fill="#fbe0a0"/>
<ellipse cx="426.9" cy="115.9" rx="1.42" ry="0.95" fill="#b8702c"/>
<ellipse cx="426.9" cy="114.6" rx="1.05" ry="1.84" fill="#e8b058"/>
<ellipse cx="426.9" cy="113.8" rx="0.53" ry="0.80" fill="#fbe0a0"/>
<ellipse cx="431.6" cy="117.5" rx="1.42" ry="0.95" fill="#b8702c"/>
<ellipse cx="431.6" cy="116.1" rx="1.05" ry="1.84" fill="#e8b058"/>
<ellipse cx="431.6" cy="115.3" rx="0.53" ry="0.80" fill="#fbe0a0"/>
<ellipse cx="436.4" cy="119.1" rx="1.42" ry="0.95" fill="#b8702c"/>
<ellipse cx="436.4" cy="117.7" rx="1.05" ry="1.84" fill="#e8b058"/>
<ellipse cx="436.4" cy="116.9" rx="0.53" ry="0.80" fill="#fbe0a0"/>
<ellipse cx="441.1" cy="120.7" rx="1.42" ry="0.95" fill="#b8702c"/>
<ellipse cx="441.1" cy="119.3" rx="1.05" ry="1.84" fill="#e8b058"/>
<ellipse cx="441.1" cy="118.5" rx="0.53" ry="0.80" fill="#fbe0a0"/>
<ellipse cx="445.8" cy="122.3" rx="1.42" ry="0.95" fill="#b8702c"/>
<ellipse cx="445.8" cy="120.9" rx="1.05" ry="1.84" fill="#e8b058"/>
<ellipse cx="445.8" cy="120.1" rx="0.53" ry="0.80" fill="#fbe0a0"/>
<ellipse cx="450.6" cy="123.9" rx="1.42" ry="0.95" fill="#b8702c"/>
<ellipse cx="450.6" cy="122.5" rx="1.05" ry="1.84" fill="#e8b058"/>
<ellipse cx="450.6" cy="121.7" rx="0.53" ry="0.80" fill="#fbe0a0"/>
<text transform="translate(437.40,99.20) scale(0.950,1)" font-size="9.60" fill="#111" font-weight="bold" stroke="#111" stroke-width="0.35" font-family="Liberation Sans, sans-serif">P</text>
<text transform="translate(443.40,101.40) scale(0.900,1)" font-size="5.50" fill="#111" font-weight="bold" stroke="#111" stroke-width="0.20" font-family="Liberation Sans, sans-serif">7</text>
<text transform="translate(446.00,99.20) scale(0.870,1)" font-size="9.60" fill="#dc3446" font-weight="bold" stroke="#dc3446" stroke-width="0.25" font-family="Liberation Sans, sans-serif">:280</text>
<path d="M467.0,120.8 L496.4,131.3 L509.6,109.8" stroke="#d8d8d8" stroke-width="0.8" fill="none"/>
<polygon points="468.0,116.8 496.4,126.3 496.4,128.8 468.0,119.3" fill="#5a3410" />
<polygon points="496.4,126.3 507.6,104.8 507.6,107.3 496.4,128.8" fill="#4a2a0c" />
<polygon points="468.0,116.8 479.2,97.0 507.6,104.8 496.4,126.3" fill="#5a2a0c" />
<ellipse cx="480.9" cy="99.9" rx="1.35" ry="0.90" fill="#b8702c"/>
<ellipse cx="480.9" cy="98.6" rx="1.00" ry="1.84" fill="#e8b058"/>
<ellipse cx="480.9" cy="97.7" rx="0.50" ry="0.80" fill="#fbe0a0"/>
<ellipse cx="486.6" cy="101.8" rx="1.35" ry="0.90" fill="#b8702c"/>
<ellipse cx="486.6" cy="100.5" rx="1.00" ry="1.84" fill="#e8b058"/>
<ellipse cx="486.6" cy="99.6" rx="0.50" ry="0.80" fill="#fbe0a0"/>
<ellipse cx="492.3" cy="103.7" rx="1.35" ry="0.90" fill="#b8702c"/>
<ellipse cx="492.3" cy="102.4" rx="1.00" ry="1.84" fill="#e8b058"/>
<ellipse cx="492.3" cy="101.5" rx="0.50" ry="0.80" fill="#fbe0a0"/>
<ellipse cx="498.0" cy="105.6" rx="1.35" ry="0.90" fill="#b8702c"/>
<ellipse cx="498.0" cy="104.3" rx="1.00" ry="1.84" fill="#e8b058"/>
<ellipse cx="498.0" cy="103.4" rx="0.50" ry="0.80" fill="#fbe0a0"/>
<ellipse cx="503.6" cy="107.5" rx="1.35" ry="0.90" fill="#b8702c"/>
<ellipse cx="503.6" cy="106.2" rx="1.00" ry="1.84" fill="#e8b058"/>
<ellipse cx="503.6" cy="105.3" rx="0.50" ry="0.80" fill="#fbe0a0"/>
<ellipse cx="478.7" cy="103.9" rx="1.35" ry="0.90" fill="#b8702c"/>
<ellipse cx="478.7" cy="102.5" rx="1.00" ry="1.84" fill="#e8b058"/>
<ellipse cx="478.7" cy="101.7" rx="0.50" ry="0.80" fill="#fbe0a0"/>
<ellipse cx="484.4" cy="105.8" rx="1.35" ry="0.90" fill="#b8702c"/>
<ellipse cx="484.4" cy="104.4" rx="1.00" ry="1.84" fill="#e8b058"/>
<ellipse cx="484.4" cy="103.6" rx="0.50" ry="0.80" fill="#fbe0a0"/>
<ellipse cx="490.0" cy="107.7" rx="1.35" ry="0.90" fill="#b8702c"/>
<ellipse cx="490.0" cy="106.3" rx="1.00" ry="1.84" fill="#e8b058"/>
<ellipse cx="490.0" cy="105.5" rx="0.50" ry="0.80" fill="#fbe0a0"/>
<ellipse cx="495.7" cy="109.6" rx="1.35" ry="0.90" fill="#b8702c"/>
<ellipse cx="495.7" cy="108.2" rx="1.00" ry="1.84" fill="#e8b058"/>
<ellipse cx="495.7" cy="107.4" rx="0.50" ry="0.80" fill="#fbe0a0"/>
<ellipse cx="501.4" cy="111.5" rx="1.35" ry="0.90" fill="#b8702c"/>
<ellipse cx="501.4" cy="110.1" rx="1.00" ry="1.84" fill="#e8b058"/>
<ellipse cx="501.4" cy="109.3" rx="0.50" ry="0.80" fill="#fbe0a0"/>
<ellipse cx="476.4" cy="107.8" rx="1.35" ry="0.90" fill="#b8702c"/>
<ellipse cx="476.4" cy="106.5" rx="1.00" ry="1.84" fill="#e8b058"/>
<ellipse cx="476.4" cy="105.7" rx="0.50" ry="0.80" fill="#fbe0a0"/>
<ellipse cx="482.1" cy="109.8" rx="1.35" ry="0.90" fill="#b8702c"/>
<ellipse cx="482.1" cy="108.4" rx="1.00" ry="1.84" fill="#e8b058"/>
<ellipse cx="482.1" cy="107.6" rx="0.50" ry="0.80" fill="#fbe0a0"/>
<ellipse cx="487.8" cy="111.7" rx="1.35" ry="0.90" fill="#b8702c"/>
<ellipse cx="487.8" cy="110.3" rx="1.00" ry="1.84" fill="#e8b058"/>
<ellipse cx="487.8" cy="109.5" rx="0.50" ry="0.80" fill="#fbe0a0"/>
<ellipse cx="493.5" cy="113.6" rx="1.35" ry="0.90" fill="#b8702c"/>
<ellipse cx="493.5" cy="112.2" rx="1.00" ry="1.84" fill="#e8b058"/>
<ellipse cx="493.5" cy="111.4" rx="0.50" ry="0.80" fill="#fbe0a0"/>
<ellipse cx="499.2" cy="115.4" rx="1.35" ry="0.90" fill="#b8702c"/>
<ellipse cx="499.2" cy="114.1" rx="1.00" ry="1.84" fill="#e8b058"/>
<ellipse cx="499.2" cy="113.3" rx="0.50" ry="0.80" fill="#fbe0a0"/>
<ellipse cx="474.2" cy="111.8" rx="1.35" ry="0.90" fill="#b8702c"/>
<ellipse cx="474.2" cy="110.4" rx="1.00" ry="1.84" fill="#e8b058"/>
<ellipse cx="474.2" cy="109.6" rx="0.50" ry="0.80" fill="#fbe0a0"/>
<ellipse cx="479.9" cy="113.7" rx="1.35" ry="0.90" fill="#b8702c"/>
<ellipse cx="479.9" cy="112.3" rx="1.00" ry="1.84" fill="#e8b058"/>
<ellipse cx="479.9" cy="111.5" rx="0.50" ry="0.80" fill="#fbe0a0"/>
<ellipse cx="485.6" cy="115.6" rx="1.35" ry="0.90" fill="#b8702c"/>
<ellipse cx="485.6" cy="114.2" rx="1.00" ry="1.84" fill="#e8b058"/>
<ellipse cx="485.6" cy="113.4" rx="0.50" ry="0.80" fill="#fbe0a0"/>
<ellipse cx="491.2" cy="117.5" rx="1.35" ry="0.90" fill="#b8702c"/>
<ellipse cx="491.2" cy="116.1" rx="1.00" ry="1.84" fill="#e8b058"/>
<ellipse cx="491.2" cy="115.3" rx="0.50" ry="0.80" fill="#fbe0a0"/>
<ellipse cx="496.9" cy="119.4" rx="1.35" ry="0.90" fill="#b8702c"/>
<ellipse cx="496.9" cy="118.0" rx="1.00" ry="1.84" fill="#e8b058"/>
<ellipse cx="496.9" cy="117.2" rx="0.50" ry="0.80" fill="#fbe0a0"/>
<ellipse cx="472.0" cy="115.8" rx="1.35" ry="0.90" fill="#b8702c"/>
<ellipse cx="472.0" cy="114.4" rx="1.00" ry="1.84" fill="#e8b058"/>
<ellipse cx="472.0" cy="113.6" rx="0.50" ry="0.80" fill="#fbe0a0"/>
<ellipse cx="477.6" cy="117.7" rx="1.35" ry="0.90" fill="#b8702c"/>
<ellipse cx="477.6" cy="116.3" rx="1.00" ry="1.84" fill="#e8b058"/>
<ellipse cx="477.6" cy="115.5" rx="0.50" ry="0.80" fill="#fbe0a0"/>
<ellipse cx="483.3" cy="119.6" rx="1.35" ry="0.90" fill="#b8702c"/>
<ellipse cx="483.3" cy="118.2" rx="1.00" ry="1.84" fill="#e8b058"/>
<ellipse cx="483.3" cy="117.4" rx="0.50" ry="0.80" fill="#fbe0a0"/>
<ellipse cx="489.0" cy="121.5" rx="1.35" ry="0.90" fill="#b8702c"/>
<ellipse cx="489.0" cy="120.1" rx="1.00" ry="1.84" fill="#e8b058"/>
<ellipse cx="489.0" cy="119.3" rx="0.50" ry="0.80" fill="#fbe0a0"/>
<ellipse cx="494.7" cy="123.4" rx="1.35" ry="0.90" fill="#b8702c"/>
<ellipse cx="494.7" cy="122.0" rx="1.00" ry="1.84" fill="#e8b058"/>
<ellipse cx="494.7" cy="121.2" rx="0.50" ry="0.80" fill="#fbe0a0"/>
<text transform="translate(481.80,99.20) scale(0.950,1)" font-size="9.60" fill="#111" font-weight="bold" stroke="#111" stroke-width="0.35" font-family="Liberation Sans, sans-serif">P</text>
<text transform="translate(487.80,101.40) scale(0.900,1)" font-size="5.50" fill="#111" font-weight="bold" stroke="#111" stroke-width="0.20" font-family="Liberation Sans, sans-serif">8</text>
<text transform="translate(490.40,99.20) scale(0.870,1)" font-size="9.60" fill="#dc3446" font-weight="bold" stroke="#dc3446" stroke-width="0.25" font-family="Liberation Sans, sans-serif">:330</text>
<path d="M512.0,120.8 L541.4,131.3 L554.6,109.8" stroke="#d8d8d8" stroke-width="0.8" fill="none"/>
<polygon points="513.0,116.8 541.4,126.3 541.4,128.8 513.0,119.3" fill="#5a3410" />
<polygon points="541.4,126.3 552.6,104.8 552.6,107.3 541.4,128.8" fill="#4a2a0c" />
<polygon points="513.0,116.8 524.2,97.0 552.6,104.8 541.4,126.3" fill="#56280a" />
<ellipse cx="525.9" cy="99.9" rx="1.35" ry="0.90" fill="#b8702c"/>
<ellipse cx="525.9" cy="98.6" rx="1.00" ry="1.84" fill="#e8b058"/>
<ellipse cx="525.9" cy="97.7" rx="0.50" ry="0.80" fill="#fbe0a0"/>
<ellipse cx="531.6" cy="101.8" rx="1.35" ry="0.90" fill="#b8702c"/>
<ellipse cx="531.6" cy="100.5" rx="1.00" ry="1.84" fill="#e8b058"/>
<ellipse cx="531.6" cy="99.6" rx="0.50" ry="0.80" fill="#fbe0a0"/>
<ellipse cx="537.3" cy="103.7" rx="1.35" ry="0.90" fill="#b8702c"/>
<ellipse cx="537.3" cy="102.4" rx="1.00" ry="1.84" fill="#e8b058"/>
<ellipse cx="537.3" cy="101.5" rx="0.50" ry="0.80" fill="#fbe0a0"/>
<ellipse cx="543.0" cy="105.6" rx="1.35" ry="0.90" fill="#b8702c"/>
<ellipse cx="543.0" cy="104.3" rx="1.00" ry="1.84" fill="#e8b058"/>
<ellipse cx="543.0" cy="103.4" rx="0.50" ry="0.80" fill="#fbe0a0"/>
<ellipse cx="548.6" cy="107.5" rx="1.35" ry="0.90" fill="#b8702c"/>
<ellipse cx="548.6" cy="106.2" rx="1.00" ry="1.84" fill="#e8b058"/>
<ellipse cx="548.6" cy="105.3" rx="0.50" ry="0.80" fill="#fbe0a0"/>
<ellipse cx="523.7" cy="103.9" rx="1.35" ry="0.90" fill="#b8702c"/>
<ellipse cx="523.7" cy="102.5" rx="1.00" ry="1.84" fill="#e8b058"/>
<ellipse cx="523.7" cy="101.7" rx="0.50" ry="0.80" fill="#fbe0a0"/>
<ellipse cx="529.4" cy="105.8" rx="1.35" ry="0.90" fill="#b8702c"/>
<ellipse cx="529.4" cy="104.4" rx="1.00" ry="1.84" fill="#e8b058"/>
<ellipse cx="529.4" cy="103.6" rx="0.50" ry="0.80" fill="#fbe0a0"/>
<ellipse cx="535.0" cy="107.7" rx="1.35" ry="0.90" fill="#b8702c"/>
<ellipse cx="535.0" cy="106.3" rx="1.00" ry="1.84" fill="#e8b058"/>
<ellipse cx="535.0" cy="105.5" rx="0.50" ry="0.80" fill="#fbe0a0"/>
<ellipse cx="540.7" cy="109.6" rx="1.35" ry="0.90" fill="#b8702c"/>
<ellipse cx="540.7" cy="108.2" rx="1.00" ry="1.84" fill="#e8b058"/>
<ellipse cx="540.7" cy="107.4" rx="0.50" ry="0.80" fill="#fbe0a0"/>
<ellipse cx="546.4" cy="111.5" rx="1.35" ry="0.90" fill="#b8702c"/>
<ellipse cx="546.4" cy="110.1" rx="1.00" ry="1.84" fill="#e8b058"/>
<ellipse cx="546.4" cy="109.3" rx="0.50" ry="0.80" fill="#fbe0a0"/>
<ellipse cx="521.4" cy="107.8" rx="1.35" ry="0.90" fill="#b8702c"/>
<ellipse cx="521.4" cy="106.5" rx="1.00" ry="1.84" fill="#e8b058"/>
<ellipse cx="521.4" cy="105.7" rx="0.50" ry="0.80" fill="#fbe0a0"/>
<ellipse cx="527.1" cy="109.8" rx="1.35" ry="0.90" fill="#b8702c"/>
<ellipse cx="527.1" cy="108.4" rx="1.00" ry="1.84" fill="#e8b058"/>
<ellipse cx="527.1" cy="107.6" rx="0.50" ry="0.80" fill="#fbe0a0"/>
<ellipse cx="532.8" cy="111.7" rx="1.35" ry="0.90" fill="#b8702c"/>
<ellipse cx="532.8" cy="110.3" rx="1.00" ry="1.84" fill="#e8b058"/>
<ellipse cx="532.8" cy="109.5" rx="0.50" ry="0.80" fill="#fbe0a0"/>
<ellipse cx="538.5" cy="113.6" rx="1.35" ry="0.90" fill="#b8702c"/>
<ellipse cx="538.5" cy="112.2" rx="1.00" ry="1.84" fill="#e8b058"/>
<ellipse cx="538.5" cy="111.4" rx="0.50" ry="0.80" fill="#fbe0a0"/>
<ellipse cx="544.2" cy="115.4" rx="1.35" ry="0.90" fill="#b8702c"/>
<ellipse cx="544.2" cy="114.1" rx="1.00" ry="1.84" fill="#e8b058"/>
<ellipse cx="544.2" cy="113.3" rx="0.50" ry="0.80" fill="#fbe0a0"/>
<ellipse cx="519.2" cy="111.8" rx="1.35" ry="0.90" fill="#b8702c"/>
<ellipse cx="519.2" cy="110.4" rx="1.00" ry="1.84" fill="#e8b058"/>
<ellipse cx="519.2" cy="109.6" rx="0.50" ry="0.80" fill="#fbe0a0"/>
<ellipse cx="524.9" cy="113.7" rx="1.35" ry="0.90" fill="#b8702c"/>
<ellipse cx="524.9" cy="112.3" rx="1.00" ry="1.84" fill="#e8b058"/>
<ellipse cx="524.9" cy="111.5" rx="0.50" ry="0.80" fill="#fbe0a0"/>
<ellipse cx="530.6" cy="115.6" rx="1.35" ry="0.90" fill="#b8702c"/>
<ellipse cx="530.6" cy="114.2" rx="1.00" ry="1.84" fill="#e8b058"/>
<ellipse cx="530.6" cy="113.4" rx="0.50" ry="0.80" fill="#fbe0a0"/>
<ellipse cx="536.2" cy="117.5" rx="1.35" ry="0.90" fill="#b8702c"/>
<ellipse cx="536.2" cy="116.1" rx="1.00" ry="1.84" fill="#e8b058"/>
<ellipse cx="536.2" cy="115.3" rx="0.50" ry="0.80" fill="#fbe0a0"/>
<ellipse cx="541.9" cy="119.4" rx="1.35" ry="0.90" fill="#b8702c"/>
<ellipse cx="541.9" cy="118.0" rx="1.00" ry="1.84" fill="#e8b058"/>
<ellipse cx="541.9" cy="117.2" rx="0.50" ry="0.80" fill="#fbe0a0"/>
<ellipse cx="517.0" cy="115.8" rx="1.35" ry="0.90" fill="#b8702c"/>
<ellipse cx="517.0" cy="114.4" rx="1.00" ry="1.84" fill="#e8b058"/>
<ellipse cx="517.0" cy="113.6" rx="0.50" ry="0.80" fill="#fbe0a0"/>
<ellipse cx="522.6" cy="117.7" rx="1.35" ry="0.90" fill="#b8702c"/>
<ellipse cx="522.6" cy="116.3" rx="1.00" ry="1.84" fill="#e8b058"/>
<ellipse cx="522.6" cy="115.5" rx="0.50" ry="0.80" fill="#fbe0a0"/>
<ellipse cx="528.3" cy="119.6" rx="1.35" ry="0.90" fill="#b8702c"/>
<ellipse cx="528.3" cy="118.2" rx="1.00" ry="1.84" fill="#e8b058"/>
<ellipse cx="528.3" cy="117.4" rx="0.50" ry="0.80" fill="#fbe0a0"/>
<ellipse cx="534.0" cy="121.5" rx="1.35" ry="0.90" fill="#b8702c"/>
<ellipse cx="534.0" cy="120.1" rx="1.00" ry="1.84" fill="#e8b058"/>
<ellipse cx="534.0" cy="119.3" rx="0.50" ry="0.80" fill="#fbe0a0"/>
<ellipse cx="539.7" cy="123.4" rx="1.35" ry="0.90" fill="#b8702c"/>
<ellipse cx="539.7" cy="122.0" rx="1.00" ry="1.84" fill="#e8b058"/>
<ellipse cx="539.7" cy="121.2" rx="0.50" ry="0.80" fill="#fbe0a0"/>
<text transform="translate(526.80,99.20) scale(0.950,1)" font-size="9.60" fill="#111" font-weight="bold" stroke="#111" stroke-width="0.35" font-family="Liberation Sans, sans-serif">P</text>
<text transform="translate(532.80,101.40) scale(0.900,1)" font-size="5.50" fill="#111" font-weight="bold" stroke="#111" stroke-width="0.20" font-family="Liberation Sans, sans-serif">9</text>
<text transform="translate(535.40,99.20) scale(0.780,1)" font-size="9.60" fill="#dc3446" font-weight="bold" stroke="#dc3446" stroke-width="0.25" font-family="Liberation Sans, sans-serif">:380 (nm)</text>
<rect x="547.5" y="124.8" width="13.5" height="1.4" fill="#111"/>
<text x="551.5" y="134.0" font-size="7.20" fill="#222" font-weight="normal" text-anchor="start" font-family="Liberation Sans, sans-serif" textLength="12.5" lengthAdjust="spacingAndGlyphs" >1μm</text>
<rect x="593.3" y="14" width="150.7" height="70.5" fill="#7c7c7c"/>
<g clip-path="url(#semclip)">
<rect x="721.2" y="46.0" width="1.3" height="1.3" fill="#9a9a9a" opacity="0.4"/>
<rect x="718.9" y="26.4" width="1.3" height="1.3" fill="#9a9a9a" opacity="0.4"/>
<rect x="597.2" y="59.4" width="1.3" height="1.3" fill="#9a9a9a" opacity="0.4"/>
<rect x="739.9" y="15.8" width="1.3" height="1.3" fill="#9a9a9a" opacity="0.4"/>
<rect x="680.5" y="55.8" width="1.3" height="1.3" fill="#5e5e5e" opacity="0.4"/>
<rect x="632.4" y="72.1" width="1.3" height="1.3" fill="#9a9a9a" opacity="0.4"/>
<rect x="678.1" y="26.5" width="1.3" height="1.3" fill="#5e5e5e" opacity="0.4"/>
<rect x="628.5" y="15.0" width="1.3" height="1.3" fill="#9a9a9a" opacity="0.4"/>
<rect x="668.6" y="59.6" width="1.3" height="1.3" fill="#9a9a9a" opacity="0.4"/>
<rect x="733.0" y="58.9" width="1.3" height="1.3" fill="#5e5e5e" opacity="0.4"/>
<rect x="629.3" y="48.9" width="1.3" height="1.3" fill="#9a9a9a" opacity="0.4"/>
<rect x="737.0" y="64.0" width="1.3" height="1.3" fill="#9a9a9a" opacity="0.4"/>
<rect x="677.6" y="77.5" width="1.3" height="1.3" fill="#9a9a9a" opacity="0.4"/>
<rect x="739.4" y="29.8" width="1.3" height="1.3" fill="#5e5e5e" opacity="0.4"/>
<rect x="708.0" y="59.3" width="1.3" height="1.3" fill="#9a9a9a" opacity="0.4"/>
<rect x="617.4" y="67.7" width="1.3" height="1.3" fill="#5e5e5e" opacity="0.4"/>
<rect x="640.3" y="62.6" width="1.3" height="1.3" fill="#9a9a9a" opacity="0.4"/>
<rect x="618.3" y="63.2" width="1.3" height="1.3" fill="#9a9a9a" opacity="0.4"/>
<rect x="682.7" y="74.0" width="1.3" height="1.3" fill="#9a9a9a" opacity="0.4"/>
<rect x="619.9" y="31.9" width="1.3" height="1.3" fill="#5e5e5e" opacity="0.4"/>
<rect x="734.8" y="64.5" width="1.3" height="1.3" fill="#5e5e5e" opacity="0.4"/>
<rect x="667.8" y="41.9" width="1.3" height="1.3" fill="#9a9a9a" opacity="0.4"/>
<rect x="651.1" y="73.3" width="1.3" height="1.3" fill="#5e5e5e" opacity="0.4"/>
<rect x="672.1" y="20.8" width="1.3" height="1.3" fill="#9a9a9a" opacity="0.4"/>
<rect x="687.8" y="33.1" width="1.3" height="1.3" fill="#5e5e5e" opacity="0.4"/>
<rect x="737.4" y="24.2" width="1.3" height="1.3" fill="#5e5e5e" opacity="0.4"/>
<rect x="660.3" y="78.7" width="1.3" height="1.3" fill="#9a9a9a" opacity="0.4"/>
<rect x="734.5" y="77.3" width="1.3" height="1.3" fill="#9a9a9a" opacity="0.4"/>
<rect x="618.2" y="37.1" width="1.3" height="1.3" fill="#5e5e5e" opacity="0.4"/>
<rect x="686.9" y="48.4" width="1.3" height="1.3" fill="#5e5e5e" opacity="0.4"/>
<rect x="611.4" y="56.2" width="1.3" height="1.3" fill="#9a9a9a" opacity="0.4"/>
<rect x="729.9" y="60.4" width="1.3" height="1.3" fill="#9a9a9a" opacity="0.4"/>
<rect x="630.7" y="66.6" width="1.3" height="1.3" fill="#5e5e5e" opacity="0.4"/>
<rect x="737.5" y="51.2" width="1.3" height="1.3" fill="#5e5e5e" opacity="0.4"/>
<rect x="598.1" y="82.1" width="1.3" height="1.3" fill="#5e5e5e" opacity="0.4"/>
<rect x="718.8" y="28.9" width="1.3" height="1.3" fill="#9a9a9a" opacity="0.4"/>
<rect x="615.8" y="28.4" width="1.3" height="1.3" fill="#9a9a9a" opacity="0.4"/>
<rect x="681.4" y="31.9" width="1.3" height="1.3" fill="#9a9a9a" opacity="0.4"/>
<rect x="712.2" y="70.7" width="1.3" height="1.3" fill="#5e5e5e" opacity="0.4"/>
<rect x="675.3" y="48.6" width="1.3" height="1.3" fill="#5e5e5e" opacity="0.4"/>
<rect x="708.9" y="54.2" width="1.3" height="1.3" fill="#9a9a9a" opacity="0.4"/>
<rect x="624.2" y="70.8" width="1.3" height="1.3" fill="#5e5e5e" opacity="0.4"/>
<rect x="611.2" y="66.4" width="1.3" height="1.3" fill="#9a9a9a" opacity="0.4"/>
<rect x="738.2" y="67.4" width="1.3" height="1.3" fill="#5e5e5e" opacity="0.4"/>
<rect x="604.8" y="40.5" width="1.3" height="1.3" fill="#9a9a9a" opacity="0.4"/>
<rect x="659.1" y="61.6" width="1.3" height="1.3" fill="#9a9a9a" opacity="0.4"/>
<rect x="593.6" y="45.2" width="1.3" height="1.3" fill="#9a9a9a" opacity="0.4"/>
<rect x="646.0" y="52.0" width="1.3" height="1.3" fill="#9a9a9a" opacity="0.4"/>
<rect x="711.0" y="62.0" width="1.3" height="1.3" fill="#9a9a9a" opacity="0.4"/>
<rect x="610.5" y="78.3" width="1.3" height="1.3" fill="#9a9a9a" opacity="0.4"/>
<rect x="624.1" y="14.8" width="1.3" height="1.3" fill="#9a9a9a" opacity="0.4"/>
<rect x="688.8" y="64.7" width="1.3" height="1.3" fill="#5e5e5e" opacity="0.4"/>
<rect x="741.6" y="46.6" width="1.3" height="1.3" fill="#9a9a9a" opacity="0.4"/>
<rect x="734.1" y="64.0" width="1.3" height="1.3" fill="#9a9a9a" opacity="0.4"/>
<rect x="698.9" y="45.7" width="1.3" height="1.3" fill="#5e5e5e" opacity="0.4"/>
<rect x="647.4" y="14.7" width="1.3" height="1.3" fill="#9a9a9a" opacity="0.4"/>
<rect x="680.4" y="81.9" width="1.3" height="1.3" fill="#9a9a9a" opacity="0.4"/>
<rect x="722.7" y="55.1" width="1.3" height="1.3" fill="#5e5e5e" opacity="0.4"/>
<rect x="667.4" y="66.3" width="1.3" height="1.3" fill="#9a9a9a" opacity="0.4"/>
<rect x="688.0" y="42.8" width="1.3" height="1.3" fill="#5e5e5e" opacity="0.4"/>
<rect x="688.6" y="79.6" width="1.3" height="1.3" fill="#9a9a9a" opacity="0.4"/>
<rect x="720.4" y="67.8" width="1.3" height="1.3" fill="#5e5e5e" opacity="0.4"/>
<rect x="645.9" y="32.9" width="1.3" height="1.3" fill="#9a9a9a" opacity="0.4"/>
<rect x="724.6" y="52.3" width="1.3" height="1.3" fill="#5e5e5e" opacity="0.4"/>
<rect x="662.8" y="32.5" width="1.3" height="1.3" fill="#5e5e5e" opacity="0.4"/>
<rect x="663.6" y="17.7" width="1.3" height="1.3" fill="#5e5e5e" opacity="0.4"/>
<rect x="705.2" y="43.9" width="1.3" height="1.3" fill="#9a9a9a" opacity="0.4"/>
<rect x="603.5" y="45.3" width="1.3" height="1.3" fill="#5e5e5e" opacity="0.4"/>
<rect x="669.6" y="80.3" width="1.3" height="1.3" fill="#5e5e5e" opacity="0.4"/>
<rect x="653.8" y="62.4" width="1.3" height="1.3" fill="#9a9a9a" opacity="0.4"/>
<rect x="624.8" y="28.9" width="1.3" height="1.3" fill="#9a9a9a" opacity="0.4"/>
<rect x="633.9" y="19.7" width="1.3" height="1.3" fill="#9a9a9a" opacity="0.4"/>
<rect x="663.7" y="53.3" width="1.3" height="1.3" fill="#5e5e5e" opacity="0.4"/>
<rect x="618.8" y="59.9" width="1.3" height="1.3" fill="#9a9a9a" opacity="0.4"/>
<rect x="646.9" y="65.9" width="1.3" height="1.3" fill="#9a9a9a" opacity="0.4"/>
<rect x="677.7" y="26.5" width="1.3" height="1.3" fill="#9a9a9a" opacity="0.4"/>
<rect x="723.5" y="37.4" width="1.3" height="1.3" fill="#5e5e5e" opacity="0.4"/>
<rect x="632.3" y="56.9" width="1.3" height="1.3" fill="#5e5e5e" opacity="0.4"/>
<rect x="720.1" y="16.6" width="1.3" height="1.3" fill="#9a9a9a" opacity="0.4"/>
<rect x="641.0" y="44.5" width="1.3" height="1.3" fill="#5e5e5e" opacity="0.4"/>
<rect x="711.3" y="27.7" width="1.3" height="1.3" fill="#5e5e5e" opacity="0.4"/>
<rect x="724.2" y="54.8" width="1.3" height="1.3" fill="#5e5e5e" opacity="0.4"/>
<rect x="684.4" y="32.7" width="1.3" height="1.3" fill="#5e5e5e" opacity="0.4"/>
<rect x="614.3" y="24.1" width="1.3" height="1.3" fill="#9a9a9a" opacity="0.4"/>
<rect x="647.7" y="66.7" width="1.3" height="1.3" fill="#5e5e5e" opacity="0.4"/>
<rect x="610.9" y="28.8" width="1.3" height="1.3" fill="#9a9a9a" opacity="0.4"/>
<rect x="603.7" y="30.3" width="1.3" height="1.3" fill="#9a9a9a" opacity="0.4"/>
<rect x="667.4" y="21.4" width="1.3" height="1.3" fill="#5e5e5e" opacity="0.4"/>
<rect x="600.2" y="70.8" width="1.3" height="1.3" fill="#5e5e5e" opacity="0.4"/>
<rect x="726.8" y="29.6" width="1.3" height="1.3" fill="#5e5e5e" opacity="0.4"/>
<rect x="667.7" y="51.2" width="1.3" height="1.3" fill="#9a9a9a" opacity="0.4"/>
<rect x="644.9" y="72.7" width="1.3" height="1.3" fill="#5e5e5e" opacity="0.4"/>
<rect x="685.5" y="26.5" width="1.3" height="1.3" fill="#5e5e5e" opacity="0.4"/>
<rect x="653.5" y="48.9" width="1.3" height="1.3" fill="#9a9a9a" opacity="0.4"/>
<rect x="706.1" y="82.2" width="1.3" height="1.3" fill="#5e5e5e" opacity="0.4"/>
<rect x="716.5" y="46.6" width="1.3" height="1.3" fill="#9a9a9a" opacity="0.4"/>
<rect x="625.3" y="64.2" width="1.3" height="1.3" fill="#9a9a9a" opacity="0.4"/>
<rect x="667.9" y="22.2" width="1.3" height="1.3" fill="#5e5e5e" opacity="0.4"/>
<rect x="742.7" y="17.7" width="1.3" height="1.3" fill="#5e5e5e" opacity="0.4"/>
<rect x="722.1" y="36.7" width="1.3" height="1.3" fill="#9a9a9a" opacity="0.4"/>
<rect x="720.7" y="34.5" width="1.3" height="1.3" fill="#5e5e5e" opacity="0.4"/>
<rect x="653.5" y="75.7" width="1.3" height="1.3" fill="#5e5e5e" opacity="0.4"/>
<rect x="712.6" y="16.6" width="1.3" height="1.3" fill="#9a9a9a" opacity="0.4"/>
<rect x="615.3" y="60.7" width="1.3" height="1.3" fill="#5e5e5e" opacity="0.4"/>
<rect x="678.2" y="32.2" width="1.3" height="1.3" fill="#5e5e5e" opacity="0.4"/>
<rect x="662.9" y="72.9" width="1.3" height="1.3" fill="#5e5e5e" opacity="0.4"/>
<rect x="598.8" y="18.7" width="1.3" height="1.3" fill="#5e5e5e" opacity="0.4"/>
<rect x="599.9" y="33.5" width="1.3" height="1.3" fill="#5e5e5e" opacity="0.4"/>
<rect x="658.4" y="27.7" width="1.3" height="1.3" fill="#9a9a9a" opacity="0.4"/>
<rect x="689.1" y="66.3" width="1.3" height="1.3" fill="#5e5e5e" opacity="0.4"/>
<rect x="693.0" y="41.6" width="1.3" height="1.3" fill="#9a9a9a" opacity="0.4"/>
<rect x="738.9" y="59.1" width="1.3" height="1.3" fill="#5e5e5e" opacity="0.4"/>
<rect x="630.3" y="55.4" width="1.3" height="1.3" fill="#5e5e5e" opacity="0.4"/>
<rect x="645.9" y="56.6" width="1.3" height="1.3" fill="#5e5e5e" opacity="0.4"/>
<rect x="729.3" y="52.5" width="1.3" height="1.3" fill="#5e5e5e" opacity="0.4"/>
<rect x="700.2" y="51.8" width="1.3" height="1.3" fill="#5e5e5e" opacity="0.4"/>
<rect x="700.5" y="66.2" width="1.3" height="1.3" fill="#5e5e5e" opacity="0.4"/>
<rect x="631.2" y="82.4" width="1.3" height="1.3" fill="#5e5e5e" opacity="0.4"/>
<rect x="602.3" y="28.6" width="1.3" height="1.3" fill="#9a9a9a" opacity="0.4"/>
<rect x="721.3" y="18.2" width="1.3" height="1.3" fill="#5e5e5e" opacity="0.4"/>
<rect x="730.4" y="50.1" width="1.3" height="1.3" fill="#9a9a9a" opacity="0.4"/>
<rect x="608.4" y="36.2" width="1.3" height="1.3" fill="#5e5e5e" opacity="0.4"/>
<rect x="673.2" y="45.3" width="1.3" height="1.3" fill="#5e5e5e" opacity="0.4"/>
<rect x="727.8" y="67.6" width="1.3" height="1.3" fill="#9a9a9a" opacity="0.4"/>
<rect x="597.2" y="51.0" width="1.3" height="1.3" fill="#5e5e5e" opacity="0.4"/>
<rect x="631.0" y="37.1" width="1.3" height="1.3" fill="#9a9a9a" opacity="0.4"/>
<rect x="598.6" y="41.2" width="1.3" height="1.3" fill="#9a9a9a" opacity="0.4"/>
<rect x="640.5" y="23.5" width="1.3" height="1.3" fill="#9a9a9a" opacity="0.4"/>
<rect x="714.5" y="74.0" width="1.3" height="1.3" fill="#9a9a9a" opacity="0.4"/>
<rect x="607.6" y="73.0" width="1.3" height="1.3" fill="#5e5e5e" opacity="0.4"/>
<rect x="643.0" y="38.0" width="1.3" height="1.3" fill="#9a9a9a" opacity="0.4"/>
<rect x="736.9" y="55.1" width="1.3" height="1.3" fill="#5e5e5e" opacity="0.4"/>
<rect x="613.0" y="71.1" width="1.3" height="1.3" fill="#5e5e5e" opacity="0.4"/>
<rect x="728.0" y="72.3" width="1.3" height="1.3" fill="#9a9a9a" opacity="0.4"/>
<rect x="705.0" y="28.4" width="1.3" height="1.3" fill="#9a9a9a" opacity="0.4"/>
<rect x="671.7" y="21.3" width="1.3" height="1.3" fill="#9a9a9a" opacity="0.4"/>
<rect x="612.5" y="19.0" width="1.3" height="1.3" fill="#9a9a9a" opacity="0.4"/>
<rect x="715.7" y="59.8" width="1.3" height="1.3" fill="#9a9a9a" opacity="0.4"/>
<rect x="656.1" y="36.7" width="1.3" height="1.3" fill="#9a9a9a" opacity="0.4"/>
<rect x="642.3" y="66.5" width="1.3" height="1.3" fill="#5e5e5e" opacity="0.4"/>
<rect x="672.4" y="24.8" width="1.3" height="1.3" fill="#9a9a9a" opacity="0.4"/>
<rect x="711.2" y="54.3" width="1.3" height="1.3" fill="#9a9a9a" opacity="0.4"/>
<rect x="740.4" y="47.8" width="1.3" height="1.3" fill="#9a9a9a" opacity="0.4"/>
<rect x="732.6" y="81.9" width="1.3" height="1.3" fill="#5e5e5e" opacity="0.4"/>
<rect x="731.8" y="70.2" width="1.3" height="1.3" fill="#5e5e5e" opacity="0.4"/>
<rect x="600.8" y="48.7" width="1.3" height="1.3" fill="#9a9a9a" opacity="0.4"/>
<rect x="711.1" y="63.4" width="1.3" height="1.3" fill="#9a9a9a" opacity="0.4"/>
<rect x="647.7" y="80.0" width="1.3" height="1.3" fill="#9a9a9a" opacity="0.4"/>
<rect x="653.9" y="46.8" width="1.3" height="1.3" fill="#9a9a9a" opacity="0.4"/>
<rect x="673.3" y="26.2" width="1.3" height="1.3" fill="#5e5e5e" opacity="0.4"/>
<rect x="631.0" y="29.9" width="1.3" height="1.3" fill="#5e5e5e" opacity="0.4"/>
<rect x="729.5" y="27.3" width="1.3" height="1.3" fill="#9a9a9a" opacity="0.4"/>
<rect x="734.4" y="57.6" width="1.3" height="1.3" fill="#5e5e5e" opacity="0.4"/>
<rect x="740.3" y="61.9" width="1.3" height="1.3" fill="#5e5e5e" opacity="0.4"/>
<rect x="624.2" y="19.1" width="1.3" height="1.3" fill="#5e5e5e" opacity="0.4"/>
<rect x="721.8" y="69.7" width="1.3" height="1.3" fill="#5e5e5e" opacity="0.4"/>
<rect x="690.0" y="26.5" width="1.3" height="1.3" fill="#9a9a9a" opacity="0.4"/>
<rect x="596.8" y="40.1" width="1.3" height="1.3" fill="#9a9a9a" opacity="0.4"/>
<rect x="700.0" y="34.2" width="1.3" height="1.3" fill="#5e5e5e" opacity="0.4"/>
<rect x="683.2" y="74.7" width="1.3" height="1.3" fill="#5e5e5e" opacity="0.4"/>
<rect x="657.3" y="61.5" width="1.3" height="1.3" fill="#5e5e5e" opacity="0.4"/>
<rect x="713.2" y="64.9" width="1.3" height="1.3" fill="#9a9a9a" opacity="0.4"/>
<rect x="654.6" y="15.1" width="1.3" height="1.3" fill="#9a9a9a" opacity="0.4"/>
<rect x="670.6" y="48.4" width="1.3" height="1.3" fill="#9a9a9a" opacity="0.4"/>
<rect x="685.9" y="49.9" width="1.3" height="1.3" fill="#9a9a9a" opacity="0.4"/>
<rect x="599.5" y="73.7" width="1.3" height="1.3" fill="#9a9a9a" opacity="0.4"/>
<rect x="594.5" y="81.3" width="1.3" height="1.3" fill="#5e5e5e" opacity="0.4"/>
<rect x="674.6" y="71.6" width="1.3" height="1.3" fill="#9a9a9a" opacity="0.4"/>
<rect x="739.1" y="52.2" width="1.3" height="1.3" fill="#9a9a9a" opacity="0.4"/>
<rect x="672.3" y="52.2" width="1.3" height="1.3" fill="#9a9a9a" opacity="0.4"/>
<rect x="683.9" y="54.9" width="1.3" height="1.3" fill="#9a9a9a" opacity="0.4"/>
<rect x="638.8" y="49.7" width="1.3" height="1.3" fill="#5e5e5e" opacity="0.4"/>
<rect x="676.0" y="82.4" width="1.3" height="1.3" fill="#5e5e5e" opacity="0.4"/>
<rect x="631.4" y="15.2" width="1.3" height="1.3" fill="#9a9a9a" opacity="0.4"/>
<rect x="703.9" y="53.8" width="1.3" height="1.3" fill="#9a9a9a" opacity="0.4"/>
<rect x="656.6" y="34.1" width="1.3" height="1.3" fill="#5e5e5e" opacity="0.4"/>
<rect x="728.3" y="78.8" width="1.3" height="1.3" fill="#5e5e5e" opacity="0.4"/>
<rect x="651.0" y="46.8" width="1.3" height="1.3" fill="#9a9a9a" opacity="0.4"/>
<rect x="688.9" y="73.7" width="1.3" height="1.3" fill="#9a9a9a" opacity="0.4"/>
<rect x="651.8" y="70.3" width="1.3" height="1.3" fill="#9a9a9a" opacity="0.4"/>
<rect x="646.7" y="43.4" width="1.3" height="1.3" fill="#5e5e5e" opacity="0.4"/>
<rect x="742.8" y="71.1" width="1.3" height="1.3" fill="#9a9a9a" opacity="0.4"/>
<rect x="722.2" y="55.5" width="1.3" height="1.3" fill="#9a9a9a" opacity="0.4"/>
<rect x="735.9" y="43.2" width="1.3" height="1.3" fill="#9a9a9a" opacity="0.4"/>
<rect x="704.4" y="62.5" width="1.3" height="1.3" fill="#9a9a9a" opacity="0.4"/>
<rect x="643.9" y="78.0" width="1.3" height="1.3" fill="#5e5e5e" opacity="0.4"/>
<rect x="700.8" y="48.7" width="1.3" height="1.3" fill="#9a9a9a" opacity="0.4"/>
<rect x="700.9" y="20.9" width="1.3" height="1.3" fill="#5e5e5e" opacity="0.4"/>
<rect x="624.4" y="24.9" width="1.3" height="1.3" fill="#5e5e5e" opacity="0.4"/>
<rect x="609.0" y="25.3" width="1.3" height="1.3" fill="#5e5e5e" opacity="0.4"/>
<rect x="653.4" y="64.8" width="1.3" height="1.3" fill="#5e5e5e" opacity="0.4"/>
<rect x="606.9" y="57.0" width="1.3" height="1.3" fill="#5e5e5e" opacity="0.4"/>
<rect x="675.9" y="51.6" width="1.3" height="1.3" fill="#9a9a9a" opacity="0.4"/>
<rect x="600.6" y="59.8" width="1.3" height="1.3" fill="#5e5e5e" opacity="0.4"/>
<rect x="703.7" y="61.7" width="1.3" height="1.3" fill="#5e5e5e" opacity="0.4"/>
<rect x="742.8" y="62.1" width="1.3" height="1.3" fill="#5e5e5e" opacity="0.4"/>
<rect x="665.5" y="69.6" width="1.3" height="1.3" fill="#5e5e5e" opacity="0.4"/>
<rect x="711.5" y="61.5" width="1.3" height="1.3" fill="#5e5e5e" opacity="0.4"/>
<rect x="723.5" y="23.1" width="1.3" height="1.3" fill="#9a9a9a" opacity="0.4"/>
<rect x="637.6" y="49.8" width="1.3" height="1.3" fill="#9a9a9a" opacity="0.4"/>
<rect x="610.9" y="73.8" width="1.3" height="1.3" fill="#5e5e5e" opacity="0.4"/>
<rect x="615.9" y="57.1" width="1.3" height="1.3" fill="#5e5e5e" opacity="0.4"/>
<rect x="618.6" y="32.4" width="1.3" height="1.3" fill="#9a9a9a" opacity="0.4"/>
<rect x="723.8" y="58.5" width="1.3" height="1.3" fill="#5e5e5e" opacity="0.4"/>
<rect x="711.8" y="57.8" width="1.3" height="1.3" fill="#9a9a9a" opacity="0.4"/>
<rect x="608.9" y="67.2" width="1.3" height="1.3" fill="#9a9a9a" opacity="0.4"/>
<rect x="732.4" y="81.8" width="1.3" height="1.3" fill="#9a9a9a" opacity="0.4"/>
<rect x="602.0" y="58.0" width="1.3" height="1.3" fill="#9a9a9a" opacity="0.4"/>
<rect x="707.5" y="73.0" width="1.3" height="1.3" fill="#5e5e5e" opacity="0.4"/>
<rect x="669.7" y="33.3" width="1.3" height="1.3" fill="#5e5e5e" opacity="0.4"/>
<rect x="655.2" y="23.5" width="1.3" height="1.3" fill="#5e5e5e" opacity="0.4"/>
<rect x="654.7" y="58.3" width="1.3" height="1.3" fill="#5e5e5e" opacity="0.4"/>
<rect x="673.4" y="56.8" width="1.3" height="1.3" fill="#5e5e5e" opacity="0.4"/>
<rect x="735.4" y="33.3" width="1.3" height="1.3" fill="#9a9a9a" opacity="0.4"/>
<rect x="697.8" y="33.1" width="1.3" height="1.3" fill="#5e5e5e" opacity="0.4"/>
<rect x="668.3" y="56.1" width="1.3" height="1.3" fill="#5e5e5e" opacity="0.4"/>
<rect x="644.3" y="56.6" width="1.3" height="1.3" fill="#5e5e5e" opacity="0.4"/>
<rect x="704.4" y="54.8" width="1.3" height="1.3" fill="#9a9a9a" opacity="0.4"/>
<rect x="673.7" y="18.5" width="1.3" height="1.3" fill="#9a9a9a" opacity="0.4"/>
<rect x="672.8" y="23.9" width="1.3" height="1.3" fill="#5e5e5e" opacity="0.4"/>
<rect x="640.8" y="48.8" width="1.3" height="1.3" fill="#9a9a9a" opacity="0.4"/>
<rect x="611.3" y="76.2" width="1.3" height="1.3" fill="#9a9a9a" opacity="0.4"/>
<rect x="627.3" y="58.7" width="1.3" height="1.3" fill="#5e5e5e" opacity="0.4"/>
<rect x="678.0" y="62.1" width="1.3" height="1.3" fill="#5e5e5e" opacity="0.4"/>
<rect x="678.0" y="49.5" width="1.3" height="1.3" fill="#9a9a9a" opacity="0.4"/>
<rect x="656.8" y="14.8" width="1.3" height="1.3" fill="#5e5e5e" opacity="0.4"/>
<rect x="716.8" y="71.6" width="1.3" height="1.3" fill="#5e5e5e" opacity="0.4"/>
<rect x="606.2" y="30.1" width="1.3" height="1.3" fill="#9a9a9a" opacity="0.4"/>
<rect x="633.9" y="64.5" width="1.3" height="1.3" fill="#9a9a9a" opacity="0.4"/>
<rect x="597.0" y="37.4" width="1.3" height="1.3" fill="#5e5e5e" opacity="0.4"/>
<rect x="610.5" y="77.0" width="1.3" height="1.3" fill="#5e5e5e" opacity="0.4"/>
<rect x="695.7" y="17.4" width="1.3" height="1.3" fill="#5e5e5e" opacity="0.4"/>
<rect x="607.3" y="83.9" width="1.3" height="1.3" fill="#9a9a9a" opacity="0.4"/>
<rect x="641.1" y="33.2" width="1.3" height="1.3" fill="#5e5e5e" opacity="0.4"/>
<rect x="647.8" y="19.9" width="1.3" height="1.3" fill="#9a9a9a" opacity="0.4"/>
<rect x="649.3" y="64.5" width="1.3" height="1.3" fill="#5e5e5e" opacity="0.4"/>
<rect x="607.6" y="37.4" width="1.3" height="1.3" fill="#5e5e5e" opacity="0.4"/>
<rect x="670.8" y="36.9" width="1.3" height="1.3" fill="#5e5e5e" opacity="0.4"/>
<rect x="646.4" y="70.3" width="1.3" height="1.3" fill="#5e5e5e" opacity="0.4"/>
<rect x="684.4" y="75.0" width="1.3" height="1.3" fill="#9a9a9a" opacity="0.4"/>
<rect x="607.2" y="54.6" width="1.3" height="1.3" fill="#9a9a9a" opacity="0.4"/>
<rect x="678.2" y="51.7" width="1.3" height="1.3" fill="#9a9a9a" opacity="0.4"/>
<rect x="638.7" y="29.7" width="1.3" height="1.3" fill="#9a9a9a" opacity="0.4"/>
<rect x="675.9" y="18.2" width="1.3" height="1.3" fill="#5e5e5e" opacity="0.4"/>
<rect x="619.8" y="29.4" width="1.3" height="1.3" fill="#9a9a9a" opacity="0.4"/>
<rect x="634.7" y="15.9" width="1.3" height="1.3" fill="#9a9a9a" opacity="0.4"/>
<rect x="735.2" y="32.7" width="1.3" height="1.3" fill="#5e5e5e" opacity="0.4"/>
<rect x="654.0" y="21.7" width="1.3" height="1.3" fill="#9a9a9a" opacity="0.4"/>
<rect x="603.9" y="82.4" width="1.3" height="1.3" fill="#9a9a9a" opacity="0.4"/>
<rect x="675.2" y="73.1" width="1.3" height="1.3" fill="#5e5e5e" opacity="0.4"/>
<rect x="686.4" y="45.5" width="1.3" height="1.3" fill="#5e5e5e" opacity="0.4"/>
<rect x="616.9" y="78.0" width="1.3" height="1.3" fill="#5e5e5e" opacity="0.4"/>
<rect x="695.0" y="72.0" width="1.3" height="1.3" fill="#9a9a9a" opacity="0.4"/>
<rect x="719.7" y="73.5" width="1.3" height="1.3" fill="#9a9a9a" opacity="0.4"/>
<rect x="648.3" y="34.8" width="1.3" height="1.3" fill="#5e5e5e" opacity="0.4"/>
<rect x="720.9" y="41.0" width="1.3" height="1.3" fill="#9a9a9a" opacity="0.4"/>
<rect x="654.3" y="82.4" width="1.3" height="1.3" fill="#5e5e5e" opacity="0.4"/>
<rect x="634.0" y="60.8" width="1.3" height="1.3" fill="#5e5e5e" opacity="0.4"/>
<rect x="674.1" y="15.2" width="1.3" height="1.3" fill="#5e5e5e" opacity="0.4"/>
<rect x="650.4" y="53.6" width="1.3" height="1.3" fill="#5e5e5e" opacity="0.4"/>
<rect x="662.4" y="68.7" width="1.3" height="1.3" fill="#9a9a9a" opacity="0.4"/>
<rect x="634.9" y="40.2" width="1.3" height="1.3" fill="#9a9a9a" opacity="0.4"/>
<rect x="684.4" y="18.2" width="1.3" height="1.3" fill="#9a9a9a" opacity="0.4"/>
<rect x="710.4" y="59.4" width="1.3" height="1.3" fill="#5e5e5e" opacity="0.4"/>
<rect x="715.3" y="72.3" width="1.3" height="1.3" fill="#5e5e5e" opacity="0.4"/>
<rect x="673.1" y="67.5" width="1.3" height="1.3" fill="#9a9a9a" opacity="0.4"/>
<rect x="710.9" y="54.0" width="1.3" height="1.3" fill="#9a9a9a" opacity="0.4"/>
<rect x="713.8" y="71.5" width="1.3" height="1.3" fill="#5e5e5e" opacity="0.4"/>
<rect x="732.6" y="57.7" width="1.3" height="1.3" fill="#5e5e5e" opacity="0.4"/>
<rect x="677.9" y="39.4" width="1.3" height="1.3" fill="#5e5e5e" opacity="0.4"/>
<rect x="611.0" y="17.3" width="1.3" height="1.3" fill="#9a9a9a" opacity="0.4"/>
<rect x="656.9" y="65.0" width="1.3" height="1.3" fill="#9a9a9a" opacity="0.4"/>
<rect x="692.1" y="83.7" width="1.3" height="1.3" fill="#5e5e5e" opacity="0.4"/>
<rect x="686.0" y="43.3" width="1.3" height="1.3" fill="#9a9a9a" opacity="0.4"/>
<rect x="637.6" y="71.2" width="1.3" height="1.3" fill="#9a9a9a" opacity="0.4"/>
<rect x="713.2" y="31.0" width="1.3" height="1.3" fill="#5e5e5e" opacity="0.4"/>
<rect x="601.9" y="61.3" width="1.3" height="1.3" fill="#5e5e5e" opacity="0.4"/>
<rect x="675.0" y="58.0" width="1.3" height="1.3" fill="#9a9a9a" opacity="0.4"/>
<rect x="707.1" y="22.9" width="1.3" height="1.3" fill="#5e5e5e" opacity="0.4"/>
<rect x="665.5" y="29.0" width="1.3" height="1.3" fill="#5e5e5e" opacity="0.4"/>
<rect x="653.1" y="30.3" width="1.3" height="1.3" fill="#5e5e5e" opacity="0.4"/>
<rect x="643.8" y="81.9" width="1.3" height="1.3" fill="#5e5e5e" opacity="0.4"/>
<rect x="711.2" y="46.6" width="1.3" height="1.3" fill="#9a9a9a" opacity="0.4"/>
<rect x="648.9" y="59.8" width="1.3" height="1.3" fill="#5e5e5e" opacity="0.4"/>
<rect x="658.3" y="42.2" width="1.3" height="1.3" fill="#5e5e5e" opacity="0.4"/>
<rect x="679.2" y="78.9" width="1.3" height="1.3" fill="#5e5e5e" opacity="0.4"/>
<rect x="616.0" y="40.6" width="1.3" height="1.3" fill="#5e5e5e" opacity="0.4"/>
<rect x="713.4" y="59.8" width="1.3" height="1.3" fill="#5e5e5e" opacity="0.4"/>
<rect x="662.3" y="40.7" width="1.3" height="1.3" fill="#9a9a9a" opacity="0.4"/>
<rect x="731.2" y="25.2" width="1.3" height="1.3" fill="#5e5e5e" opacity="0.4"/>
<rect x="735.5" y="15.8" width="1.3" height="1.3" fill="#9a9a9a" opacity="0.4"/>
<rect x="715.1" y="63.5" width="1.3" height="1.3" fill="#5e5e5e" opacity="0.4"/>
<rect x="674.2" y="41.7" width="1.3" height="1.3" fill="#5e5e5e" opacity="0.4"/>
<rect x="675.1" y="31.8" width="1.3" height="1.3" fill="#9a9a9a" opacity="0.4"/>
<rect x="729.6" y="60.5" width="1.3" height="1.3" fill="#9a9a9a" opacity="0.4"/>
<rect x="692.9" y="19.8" width="1.3" height="1.3" fill="#5e5e5e" opacity="0.4"/>
<rect x="619.8" y="55.2" width="1.3" height="1.3" fill="#5e5e5e" opacity="0.4"/>
<rect x="657.6" y="69.7" width="1.3" height="1.3" fill="#5e5e5e" opacity="0.4"/>
<rect x="698.5" y="62.5" width="1.3" height="1.3" fill="#5e5e5e" opacity="0.4"/>
<rect x="630.7" y="68.7" width="1.3" height="1.3" fill="#5e5e5e" opacity="0.4"/>
<rect x="678.6" y="17.9" width="1.3" height="1.3" fill="#5e5e5e" opacity="0.4"/>
<rect x="677.5" y="59.1" width="1.3" height="1.3" fill="#9a9a9a" opacity="0.4"/>
<rect x="600.2" y="50.5" width="1.3" height="1.3" fill="#5e5e5e" opacity="0.4"/>
<rect x="596.6" y="74.2" width="1.3" height="1.3" fill="#9a9a9a" opacity="0.4"/>
<rect x="635.2" y="43.4" width="1.3" height="1.3" fill="#5e5e5e" opacity="0.4"/>
<rect x="741.4" y="63.7" width="1.3" height="1.3" fill="#9a9a9a" opacity="0.4"/>
<rect x="709.1" y="58.7" width="1.3" height="1.3" fill="#9a9a9a" opacity="0.4"/>
<rect x="676.6" y="63.1" width="1.3" height="1.3" fill="#9a9a9a" opacity="0.4"/>
<rect x="714.8" y="48.9" width="1.3" height="1.3" fill="#9a9a9a" opacity="0.4"/>
<rect x="647.5" y="25.0" width="1.3" height="1.3" fill="#9a9a9a" opacity="0.4"/>
<rect x="720.2" y="68.7" width="1.3" height="1.3" fill="#5e5e5e" opacity="0.4"/>
<rect x="703.2" y="37.9" width="1.3" height="1.3" fill="#5e5e5e" opacity="0.4"/>
<rect x="632.3" y="32.0" width="1.3" height="1.3" fill="#9a9a9a" opacity="0.4"/>
<rect x="635.4" y="47.0" width="1.3" height="1.3" fill="#5e5e5e" opacity="0.4"/>
<rect x="736.6" y="81.1" width="1.3" height="1.3" fill="#5e5e5e" opacity="0.4"/>
<rect x="623.0" y="70.2" width="1.3" height="1.3" fill="#5e5e5e" opacity="0.4"/>
<rect x="675.0" y="64.3" width="1.3" height="1.3" fill="#5e5e5e" opacity="0.4"/>
<rect x="680.1" y="53.0" width="1.3" height="1.3" fill="#9a9a9a" opacity="0.4"/>
<rect x="700.2" y="20.2" width="1.3" height="1.3" fill="#5e5e5e" opacity="0.4"/>
<rect x="616.5" y="60.9" width="1.3" height="1.3" fill="#5e5e5e" opacity="0.4"/>
<rect x="705.5" y="41.1" width="1.3" height="1.3" fill="#5e5e5e" opacity="0.4"/>
<rect x="682.2" y="23.5" width="1.3" height="1.3" fill="#5e5e5e" opacity="0.4"/>
<rect x="732.6" y="73.6" width="1.3" height="1.3" fill="#5e5e5e" opacity="0.4"/>
<rect x="636.4" y="60.5" width="1.3" height="1.3" fill="#9a9a9a" opacity="0.4"/>
<rect x="647.0" y="72.8" width="1.3" height="1.3" fill="#5e5e5e" opacity="0.4"/>
<rect x="638.2" y="24.5" width="1.3" height="1.3" fill="#9a9a9a" opacity="0.4"/>
<rect x="673.8" y="20.7" width="1.3" height="1.3" fill="#9a9a9a" opacity="0.4"/>
<rect x="624.8" y="46.7" width="1.3" height="1.3" fill="#9a9a9a" opacity="0.4"/>
<rect x="713.6" y="57.7" width="1.3" height="1.3" fill="#5e5e5e" opacity="0.4"/>
<rect x="685.8" y="67.0" width="1.3" height="1.3" fill="#9a9a9a" opacity="0.4"/>
<rect x="686.3" y="18.1" width="1.3" height="1.3" fill="#9a9a9a" opacity="0.4"/>
<rect x="617.5" y="23.7" width="1.3" height="1.3" fill="#5e5e5e" opacity="0.4"/>
<rect x="610.4" y="44.8" width="1.3" height="1.3" fill="#5e5e5e" opacity="0.4"/>
<rect x="705.2" y="49.5" width="1.3" height="1.3" fill="#9a9a9a" opacity="0.4"/>
<rect x="611.7" y="77.5" width="1.3" height="1.3" fill="#5e5e5e" opacity="0.4"/>
<rect x="716.4" y="41.2" width="1.3" height="1.3" fill="#5e5e5e" opacity="0.4"/>
<rect x="715.6" y="54.7" width="1.3" height="1.3" fill="#5e5e5e" opacity="0.4"/>
<rect x="701.2" y="70.7" width="1.3" height="1.3" fill="#9a9a9a" opacity="0.4"/>
<rect x="693.0" y="52.4" width="1.3" height="1.3" fill="#5e5e5e" opacity="0.4"/>
<rect x="633.6" y="58.9" width="1.3" height="1.3" fill="#5e5e5e" opacity="0.4"/>
<rect x="721.8" y="81.8" width="1.3" height="1.3" fill="#9a9a9a" opacity="0.4"/>
<rect x="653.3" y="48.8" width="1.3" height="1.3" fill="#5e5e5e" opacity="0.4"/>
<rect x="621.5" y="15.6" width="1.3" height="1.3" fill="#5e5e5e" opacity="0.4"/>
<rect x="666.8" y="41.9" width="1.3" height="1.3" fill="#9a9a9a" opacity="0.4"/>
<rect x="729.7" y="21.0" width="1.3" height="1.3" fill="#5e5e5e" opacity="0.4"/>
<rect x="720.5" y="72.4" width="1.3" height="1.3" fill="#5e5e5e" opacity="0.4"/>
<rect x="737.0" y="55.9" width="1.3" height="1.3" fill="#5e5e5e" opacity="0.4"/>
<rect x="720.6" y="41.2" width="1.3" height="1.3" fill="#9a9a9a" opacity="0.4"/>
<rect x="623.1" y="39.5" width="1.3" height="1.3" fill="#5e5e5e" opacity="0.4"/>
<rect x="644.7" y="18.1" width="1.3" height="1.3" fill="#5e5e5e" opacity="0.4"/>
<rect x="718.6" y="26.8" width="1.3" height="1.3" fill="#5e5e5e" opacity="0.4"/>
<rect x="721.6" y="79.7" width="1.3" height="1.3" fill="#9a9a9a" opacity="0.4"/>
<rect x="600.0" y="49.3" width="1.3" height="1.3" fill="#9a9a9a" opacity="0.4"/>
<rect x="607.3" y="42.3" width="1.3" height="1.3" fill="#9a9a9a" opacity="0.4"/>
<rect x="652.7" y="77.4" width="1.3" height="1.3" fill="#9a9a9a" opacity="0.4"/>
<rect x="737.7" y="17.9" width="1.3" height="1.3" fill="#9a9a9a" opacity="0.4"/>
<rect x="596.1" y="35.7" width="1.3" height="1.3" fill="#9a9a9a" opacity="0.4"/>
<rect x="712.8" y="55.9" width="1.3" height="1.3" fill="#9a9a9a" opacity="0.4"/>
<rect x="603.4" y="56.7" width="1.3" height="1.3" fill="#9a9a9a" opacity="0.4"/>
<rect x="655.8" y="83.9" width="1.3" height="1.3" fill="#5e5e5e" opacity="0.4"/>
<rect x="679.8" y="22.4" width="1.3" height="1.3" fill="#5e5e5e" opacity="0.4"/>
<rect x="608.6" y="37.6" width="1.3" height="1.3" fill="#9a9a9a" opacity="0.4"/>
<rect x="706.0" y="16.9" width="1.3" height="1.3" fill="#9a9a9a" opacity="0.4"/>
<rect x="680.9" y="48.2" width="1.3" height="1.3" fill="#5e5e5e" opacity="0.4"/>
<rect x="720.6" y="45.5" width="1.3" height="1.3" fill="#5e5e5e" opacity="0.4"/>
<rect x="731.9" y="77.7" width="1.3" height="1.3" fill="#9a9a9a" opacity="0.4"/>
<rect x="625.6" y="76.8" width="1.3" height="1.3" fill="#5e5e5e" opacity="0.4"/>
<rect x="681.9" y="42.6" width="1.3" height="1.3" fill="#9a9a9a" opacity="0.4"/>
<rect x="716.7" y="83.7" width="1.3" height="1.3" fill="#9a9a9a" opacity="0.4"/>
<rect x="684.8" y="17.1" width="1.3" height="1.3" fill="#5e5e5e" opacity="0.4"/>
<rect x="708.6" y="31.6" width="1.3" height="1.3" fill="#9a9a9a" opacity="0.4"/>
<rect x="706.7" y="42.1" width="1.3" height="1.3" fill="#9a9a9a" opacity="0.4"/>
<rect x="679.6" y="57.5" width="1.3" height="1.3" fill="#5e5e5e" opacity="0.4"/>
<rect x="699.8" y="77.4" width="1.3" height="1.3" fill="#9a9a9a" opacity="0.4"/>
<rect x="655.6" y="23.3" width="1.3" height="1.3" fill="#9a9a9a" opacity="0.4"/>
<rect x="628.7" y="21.4" width="1.3" height="1.3" fill="#9a9a9a" opacity="0.4"/>
<rect x="600.6" y="50.1" width="1.3" height="1.3" fill="#5e5e5e" opacity="0.4"/>
<rect x="716.8" y="19.7" width="1.3" height="1.3" fill="#9a9a9a" opacity="0.4"/>
<rect x="644.4" y="35.1" width="1.3" height="1.3" fill="#5e5e5e" opacity="0.4"/>
<rect x="598.8" y="71.1" width="1.3" height="1.3" fill="#5e5e5e" opacity="0.4"/>
<rect x="597.8" y="36.4" width="1.3" height="1.3" fill="#5e5e5e" opacity="0.4"/>
<rect x="726.5" y="17.3" width="1.3" height="1.3" fill="#9a9a9a" opacity="0.4"/>
<rect x="621.2" y="77.3" width="1.3" height="1.3" fill="#5e5e5e" opacity="0.4"/>
<rect x="610.7" y="23.5" width="1.3" height="1.3" fill="#5e5e5e" opacity="0.4"/>
<rect x="701.7" y="46.4" width="1.3" height="1.3" fill="#5e5e5e" opacity="0.4"/>
<rect x="647.7" y="46.2" width="1.3" height="1.3" fill="#9a9a9a" opacity="0.4"/>
<rect x="626.5" y="79.3" width="1.3" height="1.3" fill="#5e5e5e" opacity="0.4"/>
<rect x="595.6" y="48.5" width="1.3" height="1.3" fill="#5e5e5e" opacity="0.4"/>
<rect x="631.5" y="52.9" width="1.3" height="1.3" fill="#5e5e5e" opacity="0.4"/>
<rect x="628.0" y="76.2" width="1.3" height="1.3" fill="#5e5e5e" opacity="0.4"/>
<rect x="598.8" y="51.2" width="1.3" height="1.3" fill="#5e5e5e" opacity="0.4"/>
<rect x="659.9" y="31.4" width="1.3" height="1.3" fill="#9a9a9a" opacity="0.4"/>
<rect x="642.2" y="80.1" width="1.3" height="1.3" fill="#5e5e5e" opacity="0.4"/>
<rect x="622.8" y="27.1" width="1.3" height="1.3" fill="#9a9a9a" opacity="0.4"/>
<rect x="736.8" y="54.9" width="1.3" height="1.3" fill="#9a9a9a" opacity="0.4"/>
<rect x="648.0" y="48.4" width="1.3" height="1.3" fill="#5e5e5e" opacity="0.4"/>
<rect x="692.4" y="54.7" width="1.3" height="1.3" fill="#9a9a9a" opacity="0.4"/>
<rect x="717.6" y="55.0" width="1.3" height="1.3" fill="#9a9a9a" opacity="0.4"/>
<rect x="604.6" y="43.7" width="1.3" height="1.3" fill="#9a9a9a" opacity="0.4"/>
<rect x="736.3" y="72.3" width="1.3" height="1.3" fill="#9a9a9a" opacity="0.4"/>
<rect x="683.5" y="65.8" width="1.3" height="1.3" fill="#9a9a9a" opacity="0.4"/>
<rect x="684.1" y="26.0" width="1.3" height="1.3" fill="#9a9a9a" opacity="0.4"/>
<rect x="694.8" y="50.9" width="1.3" height="1.3" fill="#9a9a9a" opacity="0.4"/>
<rect x="684.6" y="32.5" width="1.3" height="1.3" fill="#9a9a9a" opacity="0.4"/>
<rect x="595.7" y="67.1" width="1.3" height="1.3" fill="#9a9a9a" opacity="0.4"/>
<rect x="662.1" y="39.2" width="1.3" height="1.3" fill="#9a9a9a" opacity="0.4"/>
<rect x="624.9" y="47.6" width="1.3" height="1.3" fill="#9a9a9a" opacity="0.4"/>
<rect x="697.9" y="58.0" width="1.3" height="1.3" fill="#9a9a9a" opacity="0.4"/>
<rect x="722.8" y="18.3" width="1.3" height="1.3" fill="#5e5e5e" opacity="0.4"/>
<rect x="646.9" y="69.0" width="1.3" height="1.3" fill="#5e5e5e" opacity="0.4"/>
<rect x="631.9" y="52.1" width="1.3" height="1.3" fill="#5e5e5e" opacity="0.4"/>
<rect x="639.5" y="15.5" width="1.3" height="1.3" fill="#9a9a9a" opacity="0.4"/>
<rect x="639.8" y="75.5" width="1.3" height="1.3" fill="#5e5e5e" opacity="0.4"/>
<rect x="624.8" y="20.2" width="1.3" height="1.3" fill="#5e5e5e" opacity="0.4"/>
<rect x="694.2" y="71.6" width="1.3" height="1.3" fill="#5e5e5e" opacity="0.4"/>
<rect x="612.8" y="62.5" width="1.3" height="1.3" fill="#9a9a9a" opacity="0.4"/>
<rect x="684.6" y="30.7" width="1.3" height="1.3" fill="#5e5e5e" opacity="0.4"/>
<rect x="706.8" y="67.1" width="1.3" height="1.3" fill="#9a9a9a" opacity="0.4"/>
<rect x="638.9" y="40.8" width="1.3" height="1.3" fill="#9a9a9a" opacity="0.4"/>
<rect x="715.1" y="74.1" width="1.3" height="1.3" fill="#5e5e5e" opacity="0.4"/>
<rect x="654.7" y="30.6" width="1.3" height="1.3" fill="#5e5e5e" opacity="0.4"/>
<rect x="686.1" y="58.3" width="1.3" height="1.3" fill="#5e5e5e" opacity="0.4"/>
<rect x="700.5" y="40.9" width="1.3" height="1.3" fill="#5e5e5e" opacity="0.4"/>
<rect x="701.5" y="35.3" width="1.3" height="1.3" fill="#9a9a9a" opacity="0.4"/>
<rect x="593.7" y="63.5" width="1.3" height="1.3" fill="#9a9a9a" opacity="0.4"/>
<rect x="660.1" y="26.4" width="1.3" height="1.3" fill="#5e5e5e" opacity="0.4"/>
<rect x="598.2" y="40.3" width="1.3" height="1.3" fill="#9a9a9a" opacity="0.4"/>
<rect x="724.7" y="50.2" width="1.3" height="1.3" fill="#9a9a9a" opacity="0.4"/>
<rect x="734.4" y="22.3" width="1.3" height="1.3" fill="#9a9a9a" opacity="0.4"/>
<rect x="715.1" y="60.6" width="1.3" height="1.3" fill="#9a9a9a" opacity="0.4"/>
<rect x="595.2" y="36.1" width="1.3" height="1.3" fill="#5e5e5e" opacity="0.4"/>
<rect x="689.3" y="22.5" width="1.3" height="1.3" fill="#5e5e5e" opacity="0.4"/>
<rect x="724.0" y="66.5" width="1.3" height="1.3" fill="#9a9a9a" opacity="0.4"/>
<rect x="659.0" y="69.0" width="1.3" height="1.3" fill="#5e5e5e" opacity="0.4"/>
<rect x="608.9" y="50.3" width="1.3" height="1.3" fill="#5e5e5e" opacity="0.4"/>
<rect x="613.0" y="78.6" width="1.3" height="1.3" fill="#5e5e5e" opacity="0.4"/>
<rect x="626.2" y="61.2" width="1.3" height="1.3" fill="#9a9a9a" opacity="0.4"/>
<rect x="703.3" y="73.8" width="1.3" height="1.3" fill="#5e5e5e" opacity="0.4"/>
<rect x="601.8" y="16.9" width="1.3" height="1.3" fill="#9a9a9a" opacity="0.4"/>
<rect x="643.4" y="15.8" width="1.3" height="1.3" fill="#5e5e5e" opacity="0.4"/>
<rect x="677.4" y="47.1" width="1.3" height="1.3" fill="#9a9a9a" opacity="0.4"/>
<rect x="637.8" y="52.8" width="1.3" height="1.3" fill="#9a9a9a" opacity="0.4"/>
<rect x="726.8" y="27.2" width="1.3" height="1.3" fill="#9a9a9a" opacity="0.4"/>
<rect x="726.6" y="31.1" width="1.3" height="1.3" fill="#9a9a9a" opacity="0.4"/>
<rect x="598.8" y="37.2" width="1.3" height="1.3" fill="#5e5e5e" opacity="0.4"/>
<rect x="595.9" y="27.4" width="1.3" height="1.3" fill="#5e5e5e" opacity="0.4"/>
<rect x="707.7" y="29.7" width="1.3" height="1.3" fill="#5e5e5e" opacity="0.4"/>
<rect x="639.1" y="70.5" width="1.3" height="1.3" fill="#5e5e5e" opacity="0.4"/>
<rect x="712.7" y="75.5" width="1.3" height="1.3" fill="#5e5e5e" opacity="0.4"/>
<rect x="602.9" y="45.3" width="1.3" height="1.3" fill="#5e5e5e" opacity="0.4"/>
<rect x="600.0" y="34.4" width="1.3" height="1.3" fill="#9a9a9a" opacity="0.4"/>
<rect x="602.2" y="20.7" width="1.3" height="1.3" fill="#5e5e5e" opacity="0.4"/>
<rect x="712.5" y="60.7" width="1.3" height="1.3" fill="#5e5e5e" opacity="0.4"/>
<rect x="602.1" y="18.3" width="1.3" height="1.3" fill="#5e5e5e" opacity="0.4"/>
<rect x="606.6" y="69.1" width="1.3" height="1.3" fill="#5e5e5e" opacity="0.4"/>
<rect x="734.3" y="64.1" width="1.3" height="1.3" fill="#9a9a9a" opacity="0.4"/>
<rect x="724.2" y="64.7" width="1.3" height="1.3" fill="#9a9a9a" opacity="0.4"/>
<rect x="708.2" y="37.1" width="1.3" height="1.3" fill="#9a9a9a" opacity="0.4"/>
<rect x="661.6" y="75.3" width="1.3" height="1.3" fill="#9a9a9a" opacity="0.4"/>
<rect x="723.2" y="41.4" width="1.3" height="1.3" fill="#9a9a9a" opacity="0.4"/>
<rect x="733.3" y="72.3" width="1.3" height="1.3" fill="#9a9a9a" opacity="0.4"/>
<rect x="725.1" y="77.8" width="1.3" height="1.3" fill="#5e5e5e" opacity="0.4"/>
<rect x="629.5" y="68.2" width="1.3" height="1.3" fill="#9a9a9a" opacity="0.4"/>
<rect x="726.3" y="51.5" width="1.3" height="1.3" fill="#9a9a9a" opacity="0.4"/>
<rect x="706.7" y="40.3" width="1.3" height="1.3" fill="#9a9a9a" opacity="0.4"/>
<rect x="648.2" y="36.5" width="1.3" height="1.3" fill="#9a9a9a" opacity="0.4"/>
<rect x="670.2" y="40.2" width="1.3" height="1.3" fill="#9a9a9a" opacity="0.4"/>
<rect x="618.7" y="53.9" width="1.3" height="1.3" fill="#5e5e5e" opacity="0.4"/>
<rect x="618.5" y="59.3" width="1.3" height="1.3" fill="#5e5e5e" opacity="0.4"/>
<rect x="613.8" y="20.0" width="1.3" height="1.3" fill="#9a9a9a" opacity="0.4"/>
<rect x="628.8" y="59.3" width="1.3" height="1.3" fill="#5e5e5e" opacity="0.4"/>
<rect x="635.1" y="47.4" width="1.3" height="1.3" fill="#5e5e5e" opacity="0.4"/>
<rect x="657.8" y="52.7" width="1.3" height="1.3" fill="#9a9a9a" opacity="0.4"/>
<rect x="731.0" y="73.2" width="1.3" height="1.3" fill="#9a9a9a" opacity="0.4"/>
<rect x="603.9" y="27.5" width="1.3" height="1.3" fill="#5e5e5e" opacity="0.4"/>
<rect x="741.3" y="65.0" width="1.3" height="1.3" fill="#5e5e5e" opacity="0.4"/>
<rect x="690.9" y="65.6" width="1.3" height="1.3" fill="#9a9a9a" opacity="0.4"/>
<rect x="669.7" y="75.0" width="1.3" height="1.3" fill="#9a9a9a" opacity="0.4"/>
<rect x="644.8" y="22.9" width="1.3" height="1.3" fill="#9a9a9a" opacity="0.4"/>
<rect x="598.4" y="33.3" width="1.3" height="1.3" fill="#5e5e5e" opacity="0.4"/>
<rect x="602.9" y="72.7" width="1.3" height="1.3" fill="#9a9a9a" opacity="0.4"/>
<rect x="642.6" y="42.5" width="1.3" height="1.3" fill="#9a9a9a" opacity="0.4"/>
<rect x="709.4" y="30.6" width="1.3" height="1.3" fill="#9a9a9a" opacity="0.4"/>
<rect x="698.2" y="15.0" width="1.3" height="1.3" fill="#5e5e5e" opacity="0.4"/>
<rect x="739.9" y="30.0" width="1.3" height="1.3" fill="#9a9a9a" opacity="0.4"/>
<rect x="614.6" y="30.4" width="1.3" height="1.3" fill="#9a9a9a" opacity="0.4"/>
<rect x="679.5" y="49.9" width="1.3" height="1.3" fill="#9a9a9a" opacity="0.4"/>
<rect x="722.9" y="45.0" width="1.3" height="1.3" fill="#9a9a9a" opacity="0.4"/>
<rect x="620.9" y="74.6" width="1.3" height="1.3" fill="#5e5e5e" opacity="0.4"/>
<rect x="658.5" y="19.7" width="1.3" height="1.3" fill="#5e5e5e" opacity="0.4"/>
<rect x="627.8" y="24.4" width="1.3" height="1.3" fill="#5e5e5e" opacity="0.4"/>
<rect x="596.7" y="48.3" width="1.3" height="1.3" fill="#5e5e5e" opacity="0.4"/>
<rect x="600.9" y="39.5" width="1.3" height="1.3" fill="#5e5e5e" opacity="0.4"/>
<rect x="695.2" y="74.8" width="1.3" height="1.3" fill="#5e5e5e" opacity="0.4"/>
<rect x="659.7" y="60.1" width="1.3" height="1.3" fill="#9a9a9a" opacity="0.4"/>
<rect x="618.3" y="62.6" width="1.3" height="1.3" fill="#5e5e5e" opacity="0.4"/>
<rect x="626.1" y="76.3" width="1.3" height="1.3" fill="#5e5e5e" opacity="0.4"/>
<rect x="728.7" y="73.8" width="1.3" height="1.3" fill="#9a9a9a" opacity="0.4"/>
<rect x="677.4" y="23.9" width="1.3" height="1.3" fill="#5e5e5e" opacity="0.4"/>
<rect x="670.2" y="60.7" width="1.3" height="1.3" fill="#9a9a9a" opacity="0.4"/>
<rect x="593.3" y="14" width="150.7" height="1.5" fill="#b8b8b8"/>
<rect x="595.7" y="23.4" width="7.4" height="2.4" rx="1" fill="#505050" filter="url(#blur05)"/>
<rect x="596.0" y="17.2" width="7.0" height="6.4" rx="1.8" fill="#a2a2a2" filter="url(#blur05)"/>
<rect x="597.1" y="17.8" width="4.4" height="2.6" rx="1" fill="#bcbcbc" filter="url(#blur05)"/>
<rect x="598.9" y="20.0" width="1.2" height="3" fill="#8a8a8a" filter="url(#blur05)"/>
<rect x="594.7" y="31.2" width="7.4" height="2.4" rx="1" fill="#505050" filter="url(#blur05)"/>
<rect x="595.0" y="25.1" width="7.0" height="6.4" rx="1.8" fill="#a2a2a2" filter="url(#blur05)"/>
<rect x="596.1" y="25.7" width="4.4" height="2.6" rx="1" fill="#bcbcbc" filter="url(#blur05)"/>
<rect x="597.9" y="27.9" width="1.2" height="3" fill="#8a8a8a" filter="url(#blur05)"/>
<rect x="593.7" y="39.1" width="7.4" height="2.4" rx="1" fill="#505050" filter="url(#blur05)"/>
<rect x="594.0" y="32.9" width="7.0" height="6.4" rx="1.8" fill="#a2a2a2" filter="url(#blur05)"/>
<rect x="595.1" y="33.5" width="4.4" height="2.6" rx="1" fill="#bcbcbc" filter="url(#blur05)"/>
<rect x="596.9" y="35.7" width="1.2" height="3" fill="#8a8a8a" filter="url(#blur05)"/>
<rect x="592.6" y="46.9" width="7.4" height="2.4" rx="1" fill="#505050" filter="url(#blur05)"/>
<rect x="592.9" y="40.8" width="7.0" height="6.4" rx="1.8" fill="#a2a2a2" filter="url(#blur05)"/>
<rect x="594.0" y="41.3" width="4.4" height="2.6" rx="1" fill="#bcbcbc" filter="url(#blur05)"/>
<rect x="595.8" y="43.5" width="1.2" height="3" fill="#8a8a8a" filter="url(#blur05)"/>
<rect x="591.6" y="54.8" width="7.4" height="2.4" rx="1" fill="#505050" filter="url(#blur05)"/>
<rect x="591.9" y="48.6" width="7.0" height="6.4" rx="1.8" fill="#a2a2a2" filter="url(#blur05)"/>
<rect x="593.0" y="49.2" width="4.4" height="2.6" rx="1" fill="#bcbcbc" filter="url(#blur05)"/>
<rect x="594.8" y="51.4" width="1.2" height="3" fill="#8a8a8a" filter="url(#blur05)"/>
<rect x="590.6" y="62.6" width="7.4" height="2.4" rx="1" fill="#505050" filter="url(#blur05)"/>
<rect x="590.9" y="56.5" width="7.0" height="6.4" rx="1.8" fill="#a2a2a2" filter="url(#blur05)"/>
<rect x="592.0" y="57.0" width="4.4" height="2.6" rx="1" fill="#bcbcbc" filter="url(#blur05)"/>
<rect x="593.8" y="59.2" width="1.2" height="3" fill="#8a8a8a" filter="url(#blur05)"/>
<rect x="589.6" y="70.5" width="7.4" height="2.4" rx="1" fill="#505050" filter="url(#blur05)"/>
<rect x="589.9" y="64.3" width="7.0" height="6.4" rx="1.8" fill="#a2a2a2" filter="url(#blur05)"/>
<rect x="591.0" y="64.9" width="4.4" height="2.6" rx="1" fill="#bcbcbc" filter="url(#blur05)"/>
<rect x="592.8" y="67.1" width="1.2" height="3" fill="#8a8a8a" filter="url(#blur05)"/>
<rect x="588.6" y="78.3" width="7.4" height="2.4" rx="1" fill="#505050" filter="url(#blur05)"/>
<rect x="588.9" y="72.1" width="7.0" height="6.4" rx="1.8" fill="#a2a2a2" filter="url(#blur05)"/>
<rect x="590.0" y="72.7" width="4.4" height="2.6" rx="1" fill="#bcbcbc" filter="url(#blur05)"/>
<rect x="591.8" y="74.9" width="1.2" height="3" fill="#8a8a8a" filter="url(#blur05)"/>
<rect x="587.5" y="86.2" width="7.4" height="2.4" rx="1" fill="#505050" filter="url(#blur05)"/>
<rect x="587.8" y="80.0" width="7.0" height="6.4" rx="1.8" fill="#a2a2a2" filter="url(#blur05)"/>
<rect x="588.9" y="80.6" width="4.4" height="2.6" rx="1" fill="#bcbcbc" filter="url(#blur05)"/>
<rect x="590.7" y="82.8" width="1.2" height="3" fill="#8a8a8a" filter="url(#blur05)"/>
<rect x="586.5" y="94.0" width="7.4" height="2.4" rx="1" fill="#505050" filter="url(#blur05)"/>
<rect x="586.8" y="87.8" width="7.0" height="6.4" rx="1.8" fill="#a2a2a2" filter="url(#blur05)"/>
<rect x="587.9" y="88.4" width="4.4" height="2.6" rx="1" fill="#bcbcbc" filter="url(#blur05)"/>
<rect x="589.7" y="90.6" width="1.2" height="3" fill="#8a8a8a" filter="url(#blur05)"/>
<rect x="618.3" y="23.4" width="7.4" height="2.4" rx="1" fill="#505050" filter="url(#blur05)"/>
<rect x="618.6" y="17.2" width="7.0" height="6.4" rx="1.8" fill="#a2a2a2" filter="url(#blur05)"/>
<rect x="619.7" y="17.8" width="4.4" height="2.6" rx="1" fill="#bcbcbc" filter="url(#blur05)"/>
<rect x="621.5" y="20.0" width="1.2" height="3" fill="#8a8a8a" filter="url(#blur05)"/>
<rect x="617.3" y="31.2" width="7.4" height="2.4" rx="1" fill="#505050" filter="url(#blur05)"/>
<rect x="617.6" y="25.1" width="7.0" height="6.4" rx="1.8" fill="#a2a2a2" filter="url(#blur05)"/>
<rect x="618.7" y="25.7" width="4.4" height="2.6" rx="1" fill="#bcbcbc" filter="url(#blur05)"/>
<rect x="620.5" y="27.9" width="1.2" height="3" fill="#8a8a8a" filter="url(#blur05)"/>
<rect x="616.3" y="39.1" width="7.4" height="2.4" rx="1" fill="#505050" filter="url(#blur05)"/>
<rect x="616.6" y="32.9" width="7.0" height="6.4" rx="1.8" fill="#a2a2a2" filter="url(#blur05)"/>
<rect x="617.7" y="33.5" width="4.4" height="2.6" rx="1" fill="#bcbcbc" filter="url(#blur05)"/>
<rect x="619.5" y="35.7" width="1.2" height="3" fill="#8a8a8a" filter="url(#blur05)"/>
<rect x="615.2" y="46.9" width="7.4" height="2.4" rx="1" fill="#505050" filter="url(#blur05)"/>
<rect x="615.5" y="40.8" width="7.0" height="6.4" rx="1.8" fill="#a2a2a2" filter="url(#blur05)"/>
<rect x="616.6" y="41.3" width="4.4" height="2.6" rx="1" fill="#bcbcbc" filter="url(#blur05)"/>
<rect x="618.4" y="43.5" width="1.2" height="3" fill="#8a8a8a" filter="url(#blur05)"/>
<rect x="614.2" y="54.8" width="7.4" height="2.4" rx="1" fill="#505050" filter="url(#blur05)"/>
<rect x="614.5" y="48.6" width="7.0" height="6.4" rx="1.8" fill="#a2a2a2" filter="url(#blur05)"/>
<rect x="615.6" y="49.2" width="4.4" height="2.6" rx="1" fill="#bcbcbc" filter="url(#blur05)"/>
<rect x="617.4" y="51.4" width="1.2" height="3" fill="#8a8a8a" filter="url(#blur05)"/>
<rect x="613.2" y="62.6" width="7.4" height="2.4" rx="1" fill="#505050" filter="url(#blur05)"/>
<rect x="613.5" y="56.5" width="7.0" height="6.4" rx="1.8" fill="#a2a2a2" filter="url(#blur05)"/>
<rect x="614.6" y="57.0" width="4.4" height="2.6" rx="1" fill="#bcbcbc" filter="url(#blur05)"/>
<rect x="616.4" y="59.2" width="1.2" height="3" fill="#8a8a8a" filter="url(#blur05)"/>
<rect x="612.2" y="70.5" width="7.4" height="2.4" rx="1" fill="#505050" filter="url(#blur05)"/>
<rect x="612.5" y="64.3" width="7.0" height="6.4" rx="1.8" fill="#a2a2a2" filter="url(#blur05)"/>
<rect x="613.6" y="64.9" width="4.4" height="2.6" rx="1" fill="#bcbcbc" filter="url(#blur05)"/>
<rect x="615.4" y="67.1" width="1.2" height="3" fill="#8a8a8a" filter="url(#blur05)"/>
<rect x="611.2" y="78.3" width="7.4" height="2.4" rx="1" fill="#505050" filter="url(#blur05)"/>
<rect x="611.5" y="72.1" width="7.0" height="6.4" rx="1.8" fill="#a2a2a2" filter="url(#blur05)"/>
<rect x="612.6" y="72.7" width="4.4" height="2.6" rx="1" fill="#bcbcbc" filter="url(#blur05)"/>
<rect x="614.4" y="74.9" width="1.2" height="3" fill="#8a8a8a" filter="url(#blur05)"/>
<rect x="610.1" y="86.2" width="7.4" height="2.4" rx="1" fill="#505050" filter="url(#blur05)"/>
<rect x="610.4" y="80.0" width="7.0" height="6.4" rx="1.8" fill="#a2a2a2" filter="url(#blur05)"/>
<rect x="611.5" y="80.6" width="4.4" height="2.6" rx="1" fill="#bcbcbc" filter="url(#blur05)"/>
<rect x="613.3" y="82.8" width="1.2" height="3" fill="#8a8a8a" filter="url(#blur05)"/>
<rect x="609.1" y="94.0" width="7.4" height="2.4" rx="1" fill="#505050" filter="url(#blur05)"/>
<rect x="609.4" y="87.8" width="7.0" height="6.4" rx="1.8" fill="#a2a2a2" filter="url(#blur05)"/>
<rect x="610.5" y="88.4" width="4.4" height="2.6" rx="1" fill="#bcbcbc" filter="url(#blur05)"/>
<rect x="612.3" y="90.6" width="1.2" height="3" fill="#8a8a8a" filter="url(#blur05)"/>
<rect x="640.9" y="23.4" width="7.4" height="2.4" rx="1" fill="#505050" filter="url(#blur05)"/>
<rect x="641.2" y="17.2" width="7.0" height="6.4" rx="1.8" fill="#a2a2a2" filter="url(#blur05)"/>
<rect x="642.3" y="17.8" width="4.4" height="2.6" rx="1" fill="#bcbcbc" filter="url(#blur05)"/>
<rect x="644.1" y="20.0" width="1.2" height="3" fill="#8a8a8a" filter="url(#blur05)"/>
<rect x="639.9" y="31.2" width="7.4" height="2.4" rx="1" fill="#505050" filter="url(#blur05)"/>
<rect x="640.2" y="25.1" width="7.0" height="6.4" rx="1.8" fill="#a2a2a2" filter="url(#blur05)"/>
<rect x="641.3" y="25.7" width="4.4" height="2.6" rx="1" fill="#bcbcbc" filter="url(#blur05)"/>
<rect x="643.1" y="27.9" width="1.2" height="3" fill="#8a8a8a" filter="url(#blur05)"/>
<rect x="638.9" y="39.1" width="7.4" height="2.4" rx="1" fill="#505050" filter="url(#blur05)"/>
<rect x="639.2" y="32.9" width="7.0" height="6.4" rx="1.8" fill="#a2a2a2" filter="url(#blur05)"/>
<rect x="640.3" y="33.5" width="4.4" height="2.6" rx="1" fill="#bcbcbc" filter="url(#blur05)"/>
<rect x="642.1" y="35.7" width="1.2" height="3" fill="#8a8a8a" filter="url(#blur05)"/>
<rect x="637.8" y="46.9" width="7.4" height="2.4" rx="1" fill="#505050" filter="url(#blur05)"/>
<rect x="638.1" y="40.8" width="7.0" height="6.4" rx="1.8" fill="#a2a2a2" filter="url(#blur05)"/>
<rect x="639.2" y="41.3" width="4.4" height="2.6" rx="1" fill="#bcbcbc" filter="url(#blur05)"/>
<rect x="641.0" y="43.5" width="1.2" height="3" fill="#8a8a8a" filter="url(#blur05)"/>
<rect x="636.8" y="54.8" width="7.4" height="2.4" rx="1" fill="#505050" filter="url(#blur05)"/>
<rect x="637.1" y="48.6" width="7.0" height="6.4" rx="1.8" fill="#a2a2a2" filter="url(#blur05)"/>
<rect x="638.2" y="49.2" width="4.4" height="2.6" rx="1" fill="#bcbcbc" filter="url(#blur05)"/>
<rect x="640.0" y="51.4" width="1.2" height="3" fill="#8a8a8a" filter="url(#blur05)"/>
<rect x="635.8" y="62.6" width="7.4" height="2.4" rx="1" fill="#505050" filter="url(#blur05)"/>
<rect x="636.1" y="56.5" width="7.0" height="6.4" rx="1.8" fill="#a2a2a2" filter="url(#blur05)"/>
<rect x="637.2" y="57.0" width="4.4" height="2.6" rx="1" fill="#bcbcbc" filter="url(#blur05)"/>
<rect x="639.0" y="59.2" width="1.2" height="3" fill="#8a8a8a" filter="url(#blur05)"/>
<rect x="634.8" y="70.5" width="7.4" height="2.4" rx="1" fill="#505050" filter="url(#blur05)"/>
<rect x="635.1" y="64.3" width="7.0" height="6.4" rx="1.8" fill="#a2a2a2" filter="url(#blur05)"/>
<rect x="636.2" y="64.9" width="4.4" height="2.6" rx="1" fill="#bcbcbc" filter="url(#blur05)"/>
<rect x="638.0" y="67.1" width="1.2" height="3" fill="#8a8a8a" filter="url(#blur05)"/>
<rect x="633.8" y="78.3" width="7.4" height="2.4" rx="1" fill="#505050" filter="url(#blur05)"/>
<rect x="634.1" y="72.1" width="7.0" height="6.4" rx="1.8" fill="#a2a2a2" filter="url(#blur05)"/>
<rect x="635.2" y="72.7" width="4.4" height="2.6" rx="1" fill="#bcbcbc" filter="url(#blur05)"/>
<rect x="637.0" y="74.9" width="1.2" height="3" fill="#8a8a8a" filter="url(#blur05)"/>
<rect x="632.7" y="86.2" width="7.4" height="2.4" rx="1" fill="#505050" filter="url(#blur05)"/>
<rect x="633.0" y="80.0" width="7.0" height="6.4" rx="1.8" fill="#a2a2a2" filter="url(#blur05)"/>
<rect x="634.1" y="80.6" width="4.4" height="2.6" rx="1" fill="#bcbcbc" filter="url(#blur05)"/>
<rect x="635.9" y="82.8" width="1.2" height="3" fill="#8a8a8a" filter="url(#blur05)"/>
<rect x="631.7" y="94.0" width="7.4" height="2.4" rx="1" fill="#505050" filter="url(#blur05)"/>
<rect x="632.0" y="87.8" width="7.0" height="6.4" rx="1.8" fill="#a2a2a2" filter="url(#blur05)"/>
<rect x="633.1" y="88.4" width="4.4" height="2.6" rx="1" fill="#bcbcbc" filter="url(#blur05)"/>
<rect x="634.9" y="90.6" width="1.2" height="3" fill="#8a8a8a" filter="url(#blur05)"/>
<rect x="663.5" y="23.4" width="7.4" height="2.4" rx="1" fill="#505050" filter="url(#blur05)"/>
<rect x="663.8" y="17.2" width="7.0" height="6.4" rx="1.8" fill="#a2a2a2" filter="url(#blur05)"/>
<rect x="664.9" y="17.8" width="4.4" height="2.6" rx="1" fill="#bcbcbc" filter="url(#blur05)"/>
<rect x="666.7" y="20.0" width="1.2" height="3" fill="#8a8a8a" filter="url(#blur05)"/>
<rect x="662.5" y="31.2" width="7.4" height="2.4" rx="1" fill="#505050" filter="url(#blur05)"/>
<rect x="662.8" y="25.1" width="7.0" height="6.4" rx="1.8" fill="#a2a2a2" filter="url(#blur05)"/>
<rect x="663.9" y="25.7" width="4.4" height="2.6" rx="1" fill="#bcbcbc" filter="url(#blur05)"/>
<rect x="665.7" y="27.9" width="1.2" height="3" fill="#8a8a8a" filter="url(#blur05)"/>
<rect x="661.5" y="39.1" width="7.4" height="2.4" rx="1" fill="#505050" filter="url(#blur05)"/>
<rect x="661.8" y="32.9" width="7.0" height="6.4" rx="1.8" fill="#a2a2a2" filter="url(#blur05)"/>
<rect x="662.9" y="33.5" width="4.4" height="2.6" rx="1" fill="#bcbcbc" filter="url(#blur05)"/>
<rect x="664.7" y="35.7" width="1.2" height="3" fill="#8a8a8a" filter="url(#blur05)"/>
<rect x="660.4" y="46.9" width="7.4" height="2.4" rx="1" fill="#505050" filter="url(#blur05)"/>
<rect x="660.7" y="40.8" width="7.0" height="6.4" rx="1.8" fill="#a2a2a2" filter="url(#blur05)"/>
<rect x="661.8" y="41.3" width="4.4" height="2.6" rx="1" fill="#bcbcbc" filter="url(#blur05)"/>
<rect x="663.6" y="43.5" width="1.2" height="3" fill="#8a8a8a" filter="url(#blur05)"/>
<rect x="659.4" y="54.8" width="7.4" height="2.4" rx="1" fill="#505050" filter="url(#blur05)"/>
<rect x="659.7" y="48.6" width="7.0" height="6.4" rx="1.8" fill="#a2a2a2" filter="url(#blur05)"/>
<rect x="660.8" y="49.2" width="4.4" height="2.6" rx="1" fill="#bcbcbc" filter="url(#blur05)"/>
<rect x="662.6" y="51.4" width="1.2" height="3" fill="#8a8a8a" filter="url(#blur05)"/>
<rect x="658.4" y="62.6" width="7.4" height="2.4" rx="1" fill="#505050" filter="url(#blur05)"/>
<rect x="658.7" y="56.5" width="7.0" height="6.4" rx="1.8" fill="#a2a2a2" filter="url(#blur05)"/>
<rect x="659.8" y="57.0" width="4.4" height="2.6" rx="1" fill="#bcbcbc" filter="url(#blur05)"/>
<rect x="661.6" y="59.2" width="1.2" height="3" fill="#8a8a8a" filter="url(#blur05)"/>
<rect x="657.4" y="70.5" width="7.4" height="2.4" rx="1" fill="#505050" filter="url(#blur05)"/>
<rect x="657.7" y="64.3" width="7.0" height="6.4" rx="1.8" fill="#a2a2a2" filter="url(#blur05)"/>
<rect x="658.8" y="64.9" width="4.4" height="2.6" rx="1" fill="#bcbcbc" filter="url(#blur05)"/>
<rect x="660.6" y="67.1" width="1.2" height="3" fill="#8a8a8a" filter="url(#blur05)"/>
<rect x="656.4" y="78.3" width="7.4" height="2.4" rx="1" fill="#505050" filter="url(#blur05)"/>
<rect x="656.7" y="72.1" width="7.0" height="6.4" rx="1.8" fill="#a2a2a2" filter="url(#blur05)"/>
<rect x="657.8" y="72.7" width="4.4" height="2.6" rx="1" fill="#bcbcbc" filter="url(#blur05)"/>
<rect x="659.6" y="74.9" width="1.2" height="3" fill="#8a8a8a" filter="url(#blur05)"/>
<rect x="655.3" y="86.2" width="7.4" height="2.4" rx="1" fill="#505050" filter="url(#blur05)"/>
<rect x="655.6" y="80.0" width="7.0" height="6.4" rx="1.8" fill="#a2a2a2" filter="url(#blur05)"/>
<rect x="656.7" y="80.6" width="4.4" height="2.6" rx="1" fill="#bcbcbc" filter="url(#blur05)"/>
<rect x="658.5" y="82.8" width="1.2" height="3" fill="#8a8a8a" filter="url(#blur05)"/>
<rect x="654.3" y="94.0" width="7.4" height="2.4" rx="1" fill="#505050" filter="url(#blur05)"/>
<rect x="654.6" y="87.8" width="7.0" height="6.4" rx="1.8" fill="#a2a2a2" filter="url(#blur05)"/>
<rect x="655.7" y="88.4" width="4.4" height="2.6" rx="1" fill="#bcbcbc" filter="url(#blur05)"/>
<rect x="657.5" y="90.6" width="1.2" height="3" fill="#8a8a8a" filter="url(#blur05)"/>
<rect x="686.1" y="23.4" width="7.4" height="2.4" rx="1" fill="#505050" filter="url(#blur05)"/>
<rect x="686.4" y="17.2" width="7.0" height="6.4" rx="1.8" fill="#a2a2a2" filter="url(#blur05)"/>
<rect x="687.5" y="17.8" width="4.4" height="2.6" rx="1" fill="#bcbcbc" filter="url(#blur05)"/>
<rect x="689.3" y="20.0" width="1.2" height="3" fill="#8a8a8a" filter="url(#blur05)"/>
<rect x="685.1" y="31.2" width="7.4" height="2.4" rx="1" fill="#505050" filter="url(#blur05)"/>
<rect x="685.4" y="25.1" width="7.0" height="6.4" rx="1.8" fill="#a2a2a2" filter="url(#blur05)"/>
<rect x="686.5" y="25.7" width="4.4" height="2.6" rx="1" fill="#bcbcbc" filter="url(#blur05)"/>
<rect x="688.3" y="27.9" width="1.2" height="3" fill="#8a8a8a" filter="url(#blur05)"/>
<rect x="684.1" y="39.1" width="7.4" height="2.4" rx="1" fill="#505050" filter="url(#blur05)"/>
<rect x="684.4" y="32.9" width="7.0" height="6.4" rx="1.8" fill="#a2a2a2" filter="url(#blur05)"/>
<rect x="685.5" y="33.5" width="4.4" height="2.6" rx="1" fill="#bcbcbc" filter="url(#blur05)"/>
<rect x="687.3" y="35.7" width="1.2" height="3" fill="#8a8a8a" filter="url(#blur05)"/>
<rect x="683.0" y="46.9" width="7.4" height="2.4" rx="1" fill="#505050" filter="url(#blur05)"/>
<rect x="683.3" y="40.8" width="7.0" height="6.4" rx="1.8" fill="#a2a2a2" filter="url(#blur05)"/>
<rect x="684.4" y="41.3" width="4.4" height="2.6" rx="1" fill="#bcbcbc" filter="url(#blur05)"/>
<rect x="686.2" y="43.5" width="1.2" height="3" fill="#8a8a8a" filter="url(#blur05)"/>
<rect x="682.0" y="54.8" width="7.4" height="2.4" rx="1" fill="#505050" filter="url(#blur05)"/>
<rect x="682.3" y="48.6" width="7.0" height="6.4" rx="1.8" fill="#a2a2a2" filter="url(#blur05)"/>
<rect x="683.4" y="49.2" width="4.4" height="2.6" rx="1" fill="#bcbcbc" filter="url(#blur05)"/>
<rect x="685.2" y="51.4" width="1.2" height="3" fill="#8a8a8a" filter="url(#blur05)"/>
<rect x="681.0" y="62.6" width="7.4" height="2.4" rx="1" fill="#505050" filter="url(#blur05)"/>
<rect x="681.3" y="56.5" width="7.0" height="6.4" rx="1.8" fill="#a2a2a2" filter="url(#blur05)"/>
<rect x="682.4" y="57.0" width="4.4" height="2.6" rx="1" fill="#bcbcbc" filter="url(#blur05)"/>
<rect x="684.2" y="59.2" width="1.2" height="3" fill="#8a8a8a" filter="url(#blur05)"/>
<rect x="680.0" y="70.5" width="7.4" height="2.4" rx="1" fill="#505050" filter="url(#blur05)"/>
<rect x="680.3" y="64.3" width="7.0" height="6.4" rx="1.8" fill="#a2a2a2" filter="url(#blur05)"/>
<rect x="681.4" y="64.9" width="4.4" height="2.6" rx="1" fill="#bcbcbc" filter="url(#blur05)"/>
<rect x="683.2" y="67.1" width="1.2" height="3" fill="#8a8a8a" filter="url(#blur05)"/>
<rect x="679.0" y="78.3" width="7.4" height="2.4" rx="1" fill="#505050" filter="url(#blur05)"/>
<rect x="679.3" y="72.1" width="7.0" height="6.4" rx="1.8" fill="#a2a2a2" filter="url(#blur05)"/>
<rect x="680.4" y="72.7" width="4.4" height="2.6" rx="1" fill="#bcbcbc" filter="url(#blur05)"/>
<rect x="682.2" y="74.9" width="1.2" height="3" fill="#8a8a8a" filter="url(#blur05)"/>
<rect x="677.9" y="86.2" width="7.4" height="2.4" rx="1" fill="#505050" filter="url(#blur05)"/>
<rect x="678.2" y="80.0" width="7.0" height="6.4" rx="1.8" fill="#a2a2a2" filter="url(#blur05)"/>
<rect x="679.3" y="80.6" width="4.4" height="2.6" rx="1" fill="#bcbcbc" filter="url(#blur05)"/>
<rect x="681.1" y="82.8" width="1.2" height="3" fill="#8a8a8a" filter="url(#blur05)"/>
<rect x="676.9" y="94.0" width="7.4" height="2.4" rx="1" fill="#505050" filter="url(#blur05)"/>
<rect x="677.2" y="87.8" width="7.0" height="6.4" rx="1.8" fill="#a2a2a2" filter="url(#blur05)"/>
<rect x="678.3" y="88.4" width="4.4" height="2.6" rx="1" fill="#bcbcbc" filter="url(#blur05)"/>
<rect x="680.1" y="90.6" width="1.2" height="3" fill="#8a8a8a" filter="url(#blur05)"/>
<rect x="708.7" y="23.4" width="7.4" height="2.4" rx="1" fill="#505050" filter="url(#blur05)"/>
<rect x="709.0" y="17.2" width="7.0" height="6.4" rx="1.8" fill="#a2a2a2" filter="url(#blur05)"/>
<rect x="710.1" y="17.8" width="4.4" height="2.6" rx="1" fill="#bcbcbc" filter="url(#blur05)"/>
<rect x="711.9" y="20.0" width="1.2" height="3" fill="#8a8a8a" filter="url(#blur05)"/>
<rect x="707.7" y="31.2" width="7.4" height="2.4" rx="1" fill="#505050" filter="url(#blur05)"/>
<rect x="708.0" y="25.1" width="7.0" height="6.4" rx="1.8" fill="#a2a2a2" filter="url(#blur05)"/>
<rect x="709.1" y="25.7" width="4.4" height="2.6" rx="1" fill="#bcbcbc" filter="url(#blur05)"/>
<rect x="710.9" y="27.9" width="1.2" height="3" fill="#8a8a8a" filter="url(#blur05)"/>
<rect x="706.7" y="39.1" width="7.4" height="2.4" rx="1" fill="#505050" filter="url(#blur05)"/>
<rect x="707.0" y="32.9" width="7.0" height="6.4" rx="1.8" fill="#a2a2a2" filter="url(#blur05)"/>
<rect x="708.1" y="33.5" width="4.4" height="2.6" rx="1" fill="#bcbcbc" filter="url(#blur05)"/>
<rect x="709.9" y="35.7" width="1.2" height="3" fill="#8a8a8a" filter="url(#blur05)"/>
<rect x="705.6" y="46.9" width="7.4" height="2.4" rx="1" fill="#505050" filter="url(#blur05)"/>
<rect x="705.9" y="40.8" width="7.0" height="6.4" rx="1.8" fill="#a2a2a2" filter="url(#blur05)"/>
<rect x="707.0" y="41.3" width="4.4" height="2.6" rx="1" fill="#bcbcbc" filter="url(#blur05)"/>
<rect x="708.8" y="43.5" width="1.2" height="3" fill="#8a8a8a" filter="url(#blur05)"/>
<rect x="704.6" y="54.8" width="7.4" height="2.4" rx="1" fill="#505050" filter="url(#blur05)"/>
<rect x="704.9" y="48.6" width="7.0" height="6.4" rx="1.8" fill="#a2a2a2" filter="url(#blur05)"/>
<rect x="706.0" y="49.2" width="4.4" height="2.6" rx="1" fill="#bcbcbc" filter="url(#blur05)"/>
<rect x="707.8" y="51.4" width="1.2" height="3" fill="#8a8a8a" filter="url(#blur05)"/>
<rect x="703.6" y="62.6" width="7.4" height="2.4" rx="1" fill="#505050" filter="url(#blur05)"/>
<rect x="703.9" y="56.5" width="7.0" height="6.4" rx="1.8" fill="#a2a2a2" filter="url(#blur05)"/>
<rect x="705.0" y="57.0" width="4.4" height="2.6" rx="1" fill="#bcbcbc" filter="url(#blur05)"/>
<rect x="706.8" y="59.2" width="1.2" height="3" fill="#8a8a8a" filter="url(#blur05)"/>
<rect x="702.6" y="70.5" width="7.4" height="2.4" rx="1" fill="#505050" filter="url(#blur05)"/>
<rect x="702.9" y="64.3" width="7.0" height="6.4" rx="1.8" fill="#a2a2a2" filter="url(#blur05)"/>
<rect x="704.0" y="64.9" width="4.4" height="2.6" rx="1" fill="#bcbcbc" filter="url(#blur05)"/>
<rect x="705.8" y="67.1" width="1.2" height="3" fill="#8a8a8a" filter="url(#blur05)"/>
<rect x="701.6" y="78.3" width="7.4" height="2.4" rx="1" fill="#505050" filter="url(#blur05)"/>
<rect x="701.9" y="72.1" width="7.0" height="6.4" rx="1.8" fill="#a2a2a2" filter="url(#blur05)"/>
<rect x="703.0" y="72.7" width="4.4" height="2.6" rx="1" fill="#bcbcbc" filter="url(#blur05)"/>
<rect x="704.8" y="74.9" width="1.2" height="3" fill="#8a8a8a" filter="url(#blur05)"/>
<rect x="700.5" y="86.2" width="7.4" height="2.4" rx="1" fill="#505050" filter="url(#blur05)"/>
<rect x="700.8" y="80.0" width="7.0" height="6.4" rx="1.8" fill="#a2a2a2" filter="url(#blur05)"/>
<rect x="701.9" y="80.6" width="4.4" height="2.6" rx="1" fill="#bcbcbc" filter="url(#blur05)"/>
<rect x="703.7" y="82.8" width="1.2" height="3" fill="#8a8a8a" filter="url(#blur05)"/>
<rect x="699.5" y="94.0" width="7.4" height="2.4" rx="1" fill="#505050" filter="url(#blur05)"/>
<rect x="699.8" y="87.8" width="7.0" height="6.4" rx="1.8" fill="#a2a2a2" filter="url(#blur05)"/>
<rect x="700.9" y="88.4" width="4.4" height="2.6" rx="1" fill="#bcbcbc" filter="url(#blur05)"/>
<rect x="702.7" y="90.6" width="1.2" height="3" fill="#8a8a8a" filter="url(#blur05)"/>
<rect x="731.3" y="23.4" width="7.4" height="2.4" rx="1" fill="#505050" filter="url(#blur05)"/>
<rect x="731.6" y="17.2" width="7.0" height="6.4" rx="1.8" fill="#a2a2a2" filter="url(#blur05)"/>
<rect x="732.7" y="17.8" width="4.4" height="2.6" rx="1" fill="#bcbcbc" filter="url(#blur05)"/>
<rect x="734.5" y="20.0" width="1.2" height="3" fill="#8a8a8a" filter="url(#blur05)"/>
<rect x="730.3" y="31.2" width="7.4" height="2.4" rx="1" fill="#505050" filter="url(#blur05)"/>
<rect x="730.6" y="25.1" width="7.0" height="6.4" rx="1.8" fill="#a2a2a2" filter="url(#blur05)"/>
<rect x="731.7" y="25.7" width="4.4" height="2.6" rx="1" fill="#bcbcbc" filter="url(#blur05)"/>
<rect x="733.5" y="27.9" width="1.2" height="3" fill="#8a8a8a" filter="url(#blur05)"/>
<rect x="729.3" y="39.1" width="7.4" height="2.4" rx="1" fill="#505050" filter="url(#blur05)"/>
<rect x="729.6" y="32.9" width="7.0" height="6.4" rx="1.8" fill="#a2a2a2" filter="url(#blur05)"/>
<rect x="730.7" y="33.5" width="4.4" height="2.6" rx="1" fill="#bcbcbc" filter="url(#blur05)"/>
<rect x="732.5" y="35.7" width="1.2" height="3" fill="#8a8a8a" filter="url(#blur05)"/>
<rect x="728.2" y="46.9" width="7.4" height="2.4" rx="1" fill="#505050" filter="url(#blur05)"/>
<rect x="728.5" y="40.8" width="7.0" height="6.4" rx="1.8" fill="#a2a2a2" filter="url(#blur05)"/>
<rect x="729.6" y="41.3" width="4.4" height="2.6" rx="1" fill="#bcbcbc" filter="url(#blur05)"/>
<rect x="731.4" y="43.5" width="1.2" height="3" fill="#8a8a8a" filter="url(#blur05)"/>
<rect x="727.2" y="54.8" width="7.4" height="2.4" rx="1" fill="#505050" filter="url(#blur05)"/>
<rect x="727.5" y="48.6" width="7.0" height="6.4" rx="1.8" fill="#a2a2a2" filter="url(#blur05)"/>
<rect x="728.6" y="49.2" width="4.4" height="2.6" rx="1" fill="#bcbcbc" filter="url(#blur05)"/>
<rect x="730.4" y="51.4" width="1.2" height="3" fill="#8a8a8a" filter="url(#blur05)"/>
<rect x="726.2" y="62.6" width="7.4" height="2.4" rx="1" fill="#505050" filter="url(#blur05)"/>
<rect x="726.5" y="56.5" width="7.0" height="6.4" rx="1.8" fill="#a2a2a2" filter="url(#blur05)"/>
<rect x="727.6" y="57.0" width="4.4" height="2.6" rx="1" fill="#bcbcbc" filter="url(#blur05)"/>
<rect x="729.4" y="59.2" width="1.2" height="3" fill="#8a8a8a" filter="url(#blur05)"/>
<rect x="725.2" y="70.5" width="7.4" height="2.4" rx="1" fill="#505050" filter="url(#blur05)"/>
<rect x="725.5" y="64.3" width="7.0" height="6.4" rx="1.8" fill="#a2a2a2" filter="url(#blur05)"/>
<rect x="726.6" y="64.9" width="4.4" height="2.6" rx="1" fill="#bcbcbc" filter="url(#blur05)"/>
<rect x="728.4" y="67.1" width="1.2" height="3" fill="#8a8a8a" filter="url(#blur05)"/>
<rect x="724.2" y="78.3" width="7.4" height="2.4" rx="1" fill="#505050" filter="url(#blur05)"/>
<rect x="724.5" y="72.1" width="7.0" height="6.4" rx="1.8" fill="#a2a2a2" filter="url(#blur05)"/>
<rect x="725.6" y="72.7" width="4.4" height="2.6" rx="1" fill="#bcbcbc" filter="url(#blur05)"/>
<rect x="727.4" y="74.9" width="1.2" height="3" fill="#8a8a8a" filter="url(#blur05)"/>
<rect x="723.1" y="86.2" width="7.4" height="2.4" rx="1" fill="#505050" filter="url(#blur05)"/>
<rect x="723.4" y="80.0" width="7.0" height="6.4" rx="1.8" fill="#a2a2a2" filter="url(#blur05)"/>
<rect x="724.5" y="80.6" width="4.4" height="2.6" rx="1" fill="#bcbcbc" filter="url(#blur05)"/>
<rect x="726.3" y="82.8" width="1.2" height="3" fill="#8a8a8a" filter="url(#blur05)"/>
<rect x="722.1" y="94.0" width="7.4" height="2.4" rx="1" fill="#505050" filter="url(#blur05)"/>
<rect x="722.4" y="87.8" width="7.0" height="6.4" rx="1.8" fill="#a2a2a2" filter="url(#blur05)"/>
<rect x="723.5" y="88.4" width="4.4" height="2.6" rx="1" fill="#bcbcbc" filter="url(#blur05)"/>
<rect x="725.3" y="90.6" width="1.2" height="3" fill="#8a8a8a" filter="url(#blur05)"/>
<rect x="753.9" y="23.4" width="7.4" height="2.4" rx="1" fill="#505050" filter="url(#blur05)"/>
<rect x="754.2" y="17.2" width="7.0" height="6.4" rx="1.8" fill="#a2a2a2" filter="url(#blur05)"/>
<rect x="755.3" y="17.8" width="4.4" height="2.6" rx="1" fill="#bcbcbc" filter="url(#blur05)"/>
<rect x="757.1" y="20.0" width="1.2" height="3" fill="#8a8a8a" filter="url(#blur05)"/>
<rect x="752.9" y="31.2" width="7.4" height="2.4" rx="1" fill="#505050" filter="url(#blur05)"/>
<rect x="753.2" y="25.1" width="7.0" height="6.4" rx="1.8" fill="#a2a2a2" filter="url(#blur05)"/>
<rect x="754.3" y="25.7" width="4.4" height="2.6" rx="1" fill="#bcbcbc" filter="url(#blur05)"/>
<rect x="756.1" y="27.9" width="1.2" height="3" fill="#8a8a8a" filter="url(#blur05)"/>
<rect x="751.9" y="39.1" width="7.4" height="2.4" rx="1" fill="#505050" filter="url(#blur05)"/>
<rect x="752.2" y="32.9" width="7.0" height="6.4" rx="1.8" fill="#a2a2a2" filter="url(#blur05)"/>
<rect x="753.3" y="33.5" width="4.4" height="2.6" rx="1" fill="#bcbcbc" filter="url(#blur05)"/>
<rect x="755.1" y="35.7" width="1.2" height="3" fill="#8a8a8a" filter="url(#blur05)"/>
<rect x="750.8" y="46.9" width="7.4" height="2.4" rx="1" fill="#505050" filter="url(#blur05)"/>
<rect x="751.1" y="40.8" width="7.0" height="6.4" rx="1.8" fill="#a2a2a2" filter="url(#blur05)"/>
<rect x="752.2" y="41.3" width="4.4" height="2.6" rx="1" fill="#bcbcbc" filter="url(#blur05)"/>
<rect x="754.0" y="43.5" width="1.2" height="3" fill="#8a8a8a" filter="url(#blur05)"/>
<rect x="749.8" y="54.8" width="7.4" height="2.4" rx="1" fill="#505050" filter="url(#blur05)"/>
<rect x="750.1" y="48.6" width="7.0" height="6.4" rx="1.8" fill="#a2a2a2" filter="url(#blur05)"/>
<rect x="751.2" y="49.2" width="4.4" height="2.6" rx="1" fill="#bcbcbc" filter="url(#blur05)"/>
<rect x="753.0" y="51.4" width="1.2" height="3" fill="#8a8a8a" filter="url(#blur05)"/>
<rect x="748.8" y="62.6" width="7.4" height="2.4" rx="1" fill="#505050" filter="url(#blur05)"/>
<rect x="749.1" y="56.5" width="7.0" height="6.4" rx="1.8" fill="#a2a2a2" filter="url(#blur05)"/>
<rect x="750.2" y="57.0" width="4.4" height="2.6" rx="1" fill="#bcbcbc" filter="url(#blur05)"/>
<rect x="752.0" y="59.2" width="1.2" height="3" fill="#8a8a8a" filter="url(#blur05)"/>
<rect x="747.8" y="70.5" width="7.4" height="2.4" rx="1" fill="#505050" filter="url(#blur05)"/>
<rect x="748.1" y="64.3" width="7.0" height="6.4" rx="1.8" fill="#a2a2a2" filter="url(#blur05)"/>
<rect x="749.2" y="64.9" width="4.4" height="2.6" rx="1" fill="#bcbcbc" filter="url(#blur05)"/>
<rect x="751.0" y="67.1" width="1.2" height="3" fill="#8a8a8a" filter="url(#blur05)"/>
<rect x="746.8" y="78.3" width="7.4" height="2.4" rx="1" fill="#505050" filter="url(#blur05)"/>
<rect x="747.1" y="72.1" width="7.0" height="6.4" rx="1.8" fill="#a2a2a2" filter="url(#blur05)"/>
<rect x="748.2" y="72.7" width="4.4" height="2.6" rx="1" fill="#bcbcbc" filter="url(#blur05)"/>
<rect x="750.0" y="74.9" width="1.2" height="3" fill="#8a8a8a" filter="url(#blur05)"/>
<rect x="745.7" y="86.2" width="7.4" height="2.4" rx="1" fill="#505050" filter="url(#blur05)"/>
<rect x="746.0" y="80.0" width="7.0" height="6.4" rx="1.8" fill="#a2a2a2" filter="url(#blur05)"/>
<rect x="747.1" y="80.6" width="4.4" height="2.6" rx="1" fill="#bcbcbc" filter="url(#blur05)"/>
<rect x="748.9" y="82.8" width="1.2" height="3" fill="#8a8a8a" filter="url(#blur05)"/>
<rect x="744.7" y="94.0" width="7.4" height="2.4" rx="1" fill="#505050" filter="url(#blur05)"/>
<rect x="745.0" y="87.8" width="7.0" height="6.4" rx="1.8" fill="#a2a2a2" filter="url(#blur05)"/>
<rect x="746.1" y="88.4" width="4.4" height="2.6" rx="1" fill="#bcbcbc" filter="url(#blur05)"/>
<rect x="747.9" y="90.6" width="1.2" height="3" fill="#8a8a8a" filter="url(#blur05)"/>
</g>
<rect x="593.3" y="87" width="150.7" height="42.5" fill="#4c4c4c"/>
<g clip-path="url(#sem2clip)">
<rect x="593.3" y="87" width="150.7" height="9.4" fill="#a6a6a6"/>
<rect x="593.3" y="96.2" width="150.7" height="3" fill="#2c2c2c"/>
<rect x="604.0" y="97" width="6" height="3.4" fill="#d8d8d8"/>
<rect x="626.0" y="97" width="6" height="3.4" fill="#d8d8d8"/>
<rect x="648.0" y="97" width="6" height="3.4" fill="#d8d8d8"/>
<rect x="670.0" y="97" width="6" height="3.4" fill="#d8d8d8"/>
<rect x="692.0" y="97" width="6" height="3.4" fill="#d8d8d8"/>
<rect x="714.0" y="97" width="6" height="3.4" fill="#d8d8d8"/>
<rect x="736.0" y="97" width="6" height="3.4" fill="#d8d8d8"/>
<rect x="589.0" y="100.2" width="15" height="5.4" fill="#d4d4d4"/>
<rect x="611.0" y="100.2" width="15" height="5.4" fill="#d4d4d4"/>
<rect x="633.0" y="100.2" width="15" height="5.4" fill="#d4d4d4"/>
<rect x="655.0" y="100.2" width="15" height="5.4" fill="#d4d4d4"/>
<rect x="677.0" y="100.2" width="15" height="5.4" fill="#d4d4d4"/>
<rect x="699.0" y="100.2" width="15" height="5.4" fill="#d4d4d4"/>
<rect x="721.0" y="100.2" width="15" height="5.4" fill="#d4d4d4"/>
<rect x="743.0" y="100.2" width="15" height="5.4" fill="#d4d4d4"/>
<rect x="593.3" y="105.6" width="150.7" height="2" fill="#3a3a3a"/>
</g>
<path d="M622.4,111.8 L617.7,99.5 M615.6,103.2 L617.7,99.5 L619.8,103.2" stroke="#eee" stroke-width="1" fill="none"/>
<path d="M692,112 L686,101 M692,112 L699,101 M686,101 l-0.3,3 M699,101 l-2.8,1.2" stroke="#eee" stroke-width="1" fill="none"/>
<text x="598.8" y="121.4" font-size="8.60" fill="#e4e4e4" font-weight="normal" text-anchor="start" font-family="Liberation Sans, sans-serif" textLength="67.6" lengthAdjust="spacingAndGlyphs" >Planarization layer</text>
<text x="680.4" y="121.4" font-size="8.60" fill="#e4e4e4" font-weight="normal" text-anchor="start" font-family="Liberation Sans, sans-serif" textLength="29.0" lengthAdjust="spacingAndGlyphs" >Ag layer</text>
<rect x="723" y="116.8" width="17.8" height="1.6" fill="#fff"/>
<text x="718.2" y="127.5" font-size="7.40" fill="#fff" font-weight="normal" text-anchor="start" font-family="Liberation Sans, sans-serif" textLength="23.5" lengthAdjust="spacingAndGlyphs" >500 nm</text>
<rect x="278.8" y="163" width="292.2" height="18" fill="#3b3b3b"/>
<text x="344.4" y="176.2" font-size="10.60" fill="#fff" font-weight="normal" text-anchor="start" font-family="Liberation Sans, sans-serif" textLength="160.0" lengthAdjust="spacingAndGlyphs" stroke="#fff" stroke-width="0.2">Nanorod Diameter（@ 85 nm height )</text>
<rect x="278.8" y="181.6" width="292.2" height="12.8" fill="#dadada"/>
<text x="314.6" y="191.2" font-size="10.20" fill="#222" font-weight="normal" text-anchor="start" font-family="Liberation Sans, sans-serif" textLength="25.2" lengthAdjust="spacingAndGlyphs" stroke="#222" stroke-width="0.15">80 nm</text>
<text x="410.7" y="191.2" font-size="10.20" fill="#222" font-weight="normal" text-anchor="start" font-family="Liberation Sans, sans-serif" textLength="27.9" lengthAdjust="spacingAndGlyphs" stroke="#222" stroke-width="0.15">100 nm</text>
<text x="508.5" y="191.2" font-size="10.20" fill="#222" font-weight="normal" text-anchor="start" font-family="Liberation Sans, sans-serif" textLength="27.2" lengthAdjust="spacingAndGlyphs" stroke="#222" stroke-width="0.15">120 nm</text>
<text x="227.2" y="174.6" font-size="10.40" fill="#333" font-weight="normal" text-anchor="start" font-family="Liberation Sans, sans-serif" textLength="49.0" lengthAdjust="spacingAndGlyphs" stroke="#333" stroke-width="0.15">Meta-OLED</text>
<text x="230.6" y="188.2" font-size="10.40" fill="#333" font-weight="normal" text-anchor="start" font-family="Liberation Sans, sans-serif" textLength="43.0" lengthAdjust="spacingAndGlyphs" stroke="#333" stroke-width="0.15">EL images</text>
<rect x="231.5" y="194.6" width="21.6" height="194" fill="#3b3b3b"/>
<rect x="253.1" y="194.6" width="25.5" height="194" fill="#dadada"/>
<rect x="278.3" y="163" width="1.2" height="225.6" fill="#2a2a2a"/>
<rect x="375.6" y="181.5" width="1.2" height="207" fill="#2a2a2a"/>
<rect x="473.2" y="181.5" width="1.2" height="207" fill="#2a2a2a"/>
<rect x="570.3" y="181.5" width="1.2" height="207" fill="#2a2a2a"/>
<rect x="570.3" y="163" width="1.2" height="20" fill="#2a2a2a"/>
<rect x="231.5" y="194.2" width="339.8" height="1.4" fill="#2a2a2a"/>
<rect x="253.1" y="291.2" width="318" height="1.4" fill="#2a2a2a"/>
<rect x="231.5" y="387.6" width="339.8" height="1.2" fill="#2a2a2a"/>
<rect x="280.2" y="196" width="94.6" height="93.8" fill="#2f4bb0" stroke="#dde" stroke-width="0.8"/>
<rect x="280.2" y="293" width="94.6" height="94.6" fill="#6ebf46" stroke="#eee" stroke-width="0.8"/>
<rect x="290.0" y="206.5" width="19" height="19" fill="#bca838" filter="url(#blurSq)"/>
<rect x="290.0" y="301.5" width="19" height="19" fill="#a02020" filter="url(#blurSq)"/>
<rect x="318.2" y="206.5" width="19" height="19" fill="#6cc040" filter="url(#blurSq)"/>
<rect x="318.2" y="301.5" width="19" height="19" fill="#d02830" filter="url(#blurSq)"/>
<rect x="346.4" y="206.5" width="19" height="19" fill="#72c848" filter="url(#blurSq)"/>
<rect x="346.4" y="301.5" width="19" height="19" fill="#e82828" filter="url(#blurSq)"/>
<rect x="290.0" y="234.7" width="19" height="19" fill="#6cc040" filter="url(#blurSq)"/>
<rect x="290.0" y="330.5" width="19" height="19" fill="#f05028" filter="url(#blurSq)"/>
<rect x="318.2" y="234.7" width="19" height="19" fill="#7ac840" filter="url(#blurSq)"/>
<rect x="318.2" y="330.5" width="19" height="19" fill="#e06030" filter="url(#blurSq)"/>
<rect x="346.4" y="234.7" width="19" height="19" fill="#3cb860" filter="url(#blurSq)"/>
<rect x="346.4" y="330.5" width="19" height="19" fill="#b8a040" filter="url(#blurSq)"/>
<rect x="290.0" y="262.9" width="19" height="19" fill="#40c0a8" filter="url(#blurSq)"/>
<rect x="290.0" y="359.5" width="19" height="19" fill="#a8b040" filter="url(#blurSq)"/>
<rect x="318.2" y="262.9" width="19" height="19" fill="#58c090" filter="url(#blurSq)"/>
<rect x="318.2" y="359.5" width="19" height="19" fill="#88c040" filter="url(#blurSq)"/>
<rect x="346.4" y="262.9" width="19" height="19" fill="#30b0c8" filter="url(#blurSq)"/>
<rect x="346.4" y="359.5" width="19" height="19" fill="#90c840" filter="url(#blurSq)"/>
<rect x="377.4" y="196" width="94.6" height="93.8" fill="#2f4bb0" stroke="#dde" stroke-width="0.8"/>
<rect x="377.4" y="293" width="94.6" height="94.6" fill="#6ebf46" stroke="#eee" stroke-width="0.8"/>
<rect x="387.0" y="206.5" width="19" height="19" fill="#e83828" filter="url(#blurSq)"/>
<rect x="387.0" y="301.5" width="19" height="19" fill="#3a2a70" filter="url(#blurSq)"/>
<rect x="415.2" y="206.5" width="19" height="19" fill="#f06028" filter="url(#blurSq)"/>
<rect x="415.2" y="301.5" width="19" height="19" fill="#801a50" filter="url(#blurSq)"/>
<rect x="443.4" y="206.5" width="19" height="19" fill="#f08a28" filter="url(#blurSq)"/>
<rect x="443.4" y="301.5" width="19" height="19" fill="#c02030" filter="url(#blurSq)"/>
<rect x="387.0" y="234.7" width="19" height="19" fill="#b8d030" filter="url(#blurSq)"/>
<rect x="387.0" y="330.5" width="19" height="19" fill="#e83030" filter="url(#blurSq)"/>
<rect x="415.2" y="234.7" width="19" height="19" fill="#70c040" filter="url(#blurSq)"/>
<rect x="415.2" y="330.5" width="19" height="19" fill="#f03030" filter="url(#blurSq)"/>
<rect x="443.4" y="234.7" width="19" height="19" fill="#50c070" filter="url(#blurSq)"/>
<rect x="443.4" y="330.5" width="19" height="19" fill="#f05840" filter="url(#blurSq)"/>
<rect x="387.0" y="262.9" width="19" height="19" fill="#68c888" filter="url(#blurSq)"/>
<rect x="387.0" y="359.5" width="19" height="19" fill="#f0c030" filter="url(#blurSq)"/>
<rect x="415.2" y="262.9" width="19" height="19" fill="#70c880" filter="url(#blurSq)"/>
<rect x="415.2" y="359.5" width="19" height="19" fill="#e8e040" filter="url(#blurSq)"/>
<rect x="443.4" y="262.9" width="19" height="19" fill="#60c8b8" filter="url(#blurSq)"/>
<rect x="443.4" y="359.5" width="19" height="19" fill="#e8e040" filter="url(#blurSq)"/>
<rect x="474.7" y="196" width="94.6" height="93.8" fill="#2f4bb0" stroke="#dde" stroke-width="0.8"/>
<rect x="474.7" y="293" width="94.6" height="94.6" fill="#6ebf46" stroke="#eee" stroke-width="0.8"/>
<rect x="483.3" y="206.5" width="19" height="19" fill="#c02030" filter="url(#blurSq)"/>
<rect x="483.3" y="301.5" width="19" height="19" fill="#1a3070" filter="url(#blurSq)"/>
<rect x="511.5" y="206.5" width="19" height="19" fill="#d82030" filter="url(#blurSq)"/>
<rect x="511.5" y="301.5" width="19" height="19" fill="#1a3070" filter="url(#blurSq)"/>
<rect x="539.7" y="206.5" width="19" height="19" fill="#d82028" filter="url(#blurSq)"/>
<rect x="539.7" y="301.5" width="19" height="19" fill="#1a2a60" filter="url(#blurSq)"/>
<rect x="483.3" y="234.7" width="19" height="19" fill="#a82028" filter="url(#blurSq)"/>
<rect x="483.3" y="330.5" width="19" height="19" fill="#701830" filter="url(#blurSq)"/>
<rect x="511.5" y="234.7" width="19" height="19" fill="#902040" filter="url(#blurSq)"/>
<rect x="511.5" y="330.5" width="19" height="19" fill="#904060" filter="url(#blurSq)"/>
<rect x="539.7" y="234.7" width="19" height="19" fill="#706068" filter="url(#blurSq)"/>
<rect x="539.7" y="330.5" width="19" height="19" fill="#72b848" filter="url(#blurSq)"/>
<rect x="483.3" y="262.9" width="19" height="19" fill="#40c050" filter="url(#blurSq)"/>
<rect x="483.3" y="359.5" width="19" height="19" fill="#b0d040" filter="url(#blurSq)"/>
<rect x="511.5" y="262.9" width="19" height="19" fill="#70c040" filter="url(#blurSq)"/>
<rect x="511.5" y="359.5" width="19" height="19" fill="#e8e040" filter="url(#blurSq)"/>
<rect x="539.7" y="262.9" width="19" height="19" fill="#50c080" filter="url(#blurSq)"/>
<rect x="539.7" y="359.5" width="19" height="19" fill="#e8e040" filter="url(#blurSq)"/>
<rect x="543" y="372" width="19" height="2" fill="#111"/>
<text x="537.0" y="383.8" font-size="7.80" fill="#185018" font-weight="normal" text-anchor="start" font-family="Liberation Sans, sans-serif" textLength="27.0" lengthAdjust="spacingAndGlyphs" stroke="#185018" stroke-width="0.2">0.3 mm</text>
<text x="0.0" y="0.0" font-size="10.50" fill="#fff" font-weight="normal" text-anchor="middle" font-family="Liberation Sans, sans-serif" textLength="68.8" lengthAdjust="spacingAndGlyphs" stroke="#fff" stroke-width="0.2" transform="translate(246,291.4) rotate(-90)">OLED  Thickness</text>
<text x="0.0" y="0.0" font-size="9.60" fill="#222" font-weight="normal" text-anchor="middle" font-family="Liberation Sans, sans-serif" textLength="27.0" lengthAdjust="spacingAndGlyphs" stroke="#222" stroke-width="0.2" transform="translate(263.4,243.5) rotate(-90)">135 nm</text>
<text x="0.0" y="0.0" font-size="9.60" fill="#222" font-weight="normal" text-anchor="middle" font-family="Liberation Sans, sans-serif" textLength="61.0" lengthAdjust="spacingAndGlyphs" stroke="#222" stroke-width="0.2" transform="translate(274.4,243.5) rotate(-90)">(Blue Flat Zone)</text>
<text x="0.0" y="0.0" font-size="9.60" fill="#222" font-weight="normal" text-anchor="middle" font-family="Liberation Sans, sans-serif" textLength="27.0" lengthAdjust="spacingAndGlyphs" stroke="#222" stroke-width="0.2" transform="translate(263.4,340) rotate(-90)">165 nm</text>
<text x="0.0" y="0.0" font-size="9.60" fill="#222" font-weight="normal" text-anchor="middle" font-family="Liberation Sans, sans-serif" textLength="66.0" lengthAdjust="spacingAndGlyphs" stroke="#222" stroke-width="0.2" transform="translate(274.4,340) rotate(-90)">(Green Flat Zone)</text>
<polyline points="624.2,211.0 625.0,211.0 625.7,211.0 626.5,211.0 627.2,211.0 628.0,210.9 628.7,210.9 629.5,210.9 630.2,210.8 631.0,210.7 631.7,210.5 632.5,210.2 633.2,209.9 634.0,209.6 634.7,209.1 635.5,208.7 636.2,208.1 637.0,207.6 637.7,207.1 638.5,206.7 639.2,206.5 640.0,206.6 640.7,206.9 641.5,207.4 642.2,207.9 643.0,208.4 643.7,209.0 644.5,209.5 645.2,209.9 646.0,210.2 646.7,210.4 647.5,210.5 648.2,210.6 649.0,210.6 649.7,210.6 650.5,210.6 651.2,210.5 652.0,210.5 652.7,210.4 653.5,210.4 654.2,210.3 655.0,210.3 655.7,210.2 656.5,210.2 657.2,210.1 658.0,210.1 658.7,210.0 659.5,210.0 660.2,209.9 661.0,209.9 661.7,209.8 662.5,209.8 663.2,209.7 664.0,209.6 664.7,209.6 665.5,209.5 666.2,209.4 667.0,209.3 667.7,209.2 668.5,209.1 669.2,209.0 670.0,208.8 670.7,208.7 671.5,208.6 672.2,208.5 673.0,208.4 673.7,208.2 674.5,208.1 675.2,207.9 676.0,207.7 676.7,207.6 677.5,207.4 678.2,207.2 679.0,206.9 679.7,206.7 680.5,206.4 681.2,206.2 682.0,205.9 682.7,205.6 683.5,205.2 684.2,204.9 685.0,204.5 685.7,204.2 686.5,203.7 687.2,203.2 688.0,202.4 688.7,201.2 689.5,199.6 690.2,197.5 691.0,195.0 691.7,192.5 692.5,189.9 693.2,187.4 694.0,184.9 694.7,182.5 695.5,180.3 696.2,178.7 697.0,177.7 697.7,177.6 698.5,178.3 699.2,179.5 700.0,180.9 700.7,182.4 701.5,183.8 702.2,185.3 703.0,186.8 703.7,188.1 704.5,189.4 705.2,190.5 706.0,191.5 706.7,192.4 707.5,193.2 708.2,194.1 709.0,194.8 709.7,195.6 710.5,196.3 711.2,197.0 712.0,197.7 712.7,198.3 713.5,198.9 714.2,199.5 715.0,200.1 715.7,200.6 716.5,201.1 717.2,201.5 718.0,202.0 718.7,202.4 719.5,202.8 720.2,203.2 721.0,203.6 721.7,204.0 722.5,204.4 723.2,204.8 724.0,205.2 724.7,205.6 725.5,206.0 726.2,206.4 727.0,206.8 727.7,207.2 728.5,207.6 729.2,207.9 730.0,208.2 730.7,208.6 731.5,208.8 732.2,209.1 733.0,209.3 733.7,209.5 734.5,209.6 735.2,209.8 736.0,209.9 736.7,210.0 737.5,210.2 738.2,210.3 739.0,210.4 739.5,210.4" fill="none" stroke="#d42a3a" stroke-width="2.9" stroke-linejoin="round" stroke-linecap="round"/>
<polyline points="624.2,227.0 625.0,227.0 625.7,226.9 626.5,226.9 627.2,226.9 628.0,226.8 628.7,226.8 629.5,226.7 630.2,226.6 631.0,226.5 631.7,226.3 632.5,226.1 633.2,225.9 634.0,225.6 634.7,225.3 635.5,225.1 636.2,224.8 637.0,224.6 637.7,224.4 638.5,224.3 639.2,224.3 640.0,224.3 640.7,224.4 641.5,224.6 642.2,224.8 643.0,225.0 643.7,225.3 644.5,225.6 645.2,225.8 646.0,226.0 646.7,226.1 647.5,226.2 648.2,226.3 649.0,226.3 649.7,226.3 650.5,226.3 651.2,226.3 652.0,226.3 652.7,226.3 653.5,226.3 654.2,226.2 655.0,226.2 655.7,226.1 656.5,226.0 657.2,226.0 658.0,225.9 658.7,225.8 659.5,225.7 660.2,225.6 661.0,225.5 661.7,225.4 662.5,225.3 663.2,225.1 664.0,225.0 664.7,224.8 665.5,224.6 666.2,224.4 667.0,224.2 667.7,224.0 668.5,223.8 669.2,223.6 670.0,223.3 670.7,223.0 671.5,222.7 672.2,222.4 673.0,222.0 673.7,221.6 674.5,221.2 675.2,220.7 676.0,220.2 676.7,219.7 677.5,219.1 678.2,218.6 679.0,218.0 679.7,217.5 680.5,217.0 681.2,216.5 682.0,216.0 682.7,215.6 683.5,215.1 684.2,214.5 685.0,214.0 685.7,213.3 686.5,212.6 687.2,211.7 688.0,210.7 688.7,209.5 689.5,208.1 690.2,206.6 691.0,204.9 691.7,202.9 692.5,200.6 693.2,198.3 694.0,196.3 694.7,194.8 695.5,194.2 696.2,194.5 697.0,195.5 697.7,197.0 698.5,198.7 699.2,200.4 700.0,202.1 700.7,203.7 701.5,205.4 702.2,206.9 703.0,208.3 703.7,209.6 704.5,210.7 705.2,211.8 706.0,212.9 706.7,213.9 707.5,214.8 708.2,215.7 709.0,216.6 709.7,217.4 710.5,218.2 711.2,218.9 712.0,219.6 712.7,220.2 713.5,220.7 714.2,221.2 715.0,221.6 715.7,221.9 716.5,222.3 717.2,222.6 718.0,222.9 718.7,223.1 719.5,223.4 720.2,223.6 721.0,223.9 721.7,224.1 722.5,224.3 723.2,224.5 724.0,224.8 724.7,224.9 725.5,225.1 726.2,225.3 727.0,225.4 727.7,225.5 728.5,225.6 729.2,225.7 730.0,225.8 730.7,226.0 731.5,226.1 732.2,226.2 733.0,226.3 733.7,226.4 734.5,226.4 735.2,226.5 736.0,226.6 736.7,226.7 737.5,226.8 738.2,226.9 739.0,226.9 739.5,227.0" fill="none" stroke="#d44050" stroke-width="2.9" stroke-linejoin="round" stroke-linecap="round"/>
<polyline points="624.2,245.0 625.0,245.0 625.7,244.9 626.5,244.9 627.2,244.9 628.0,244.8 628.7,244.8 629.5,244.7 630.2,244.6 631.0,244.5 631.7,244.3 632.5,244.1 633.2,243.8 634.0,243.6 634.7,243.3 635.5,243.0 636.2,242.8 637.0,242.6 637.7,242.4 638.5,242.2 639.2,242.2 640.0,242.2 640.7,242.3 641.5,242.4 642.2,242.6 643.0,242.9 643.7,243.1 644.5,243.4 645.2,243.6 646.0,243.8 646.7,243.9 647.5,244.0 648.2,244.1 649.0,244.2 649.7,244.3 650.5,244.4 651.2,244.4 652.0,244.5 652.7,244.5 653.5,244.5 654.2,244.6 655.0,244.6 655.7,244.5 656.5,244.5 657.2,244.4 658.0,244.2 658.7,244.0 659.5,243.6 660.2,243.1 661.0,242.5 661.7,241.8 662.5,241.0 663.2,240.3 664.0,239.4 664.7,238.6 665.5,237.6 666.2,236.6 667.0,235.5 667.7,234.3 668.5,233.0 669.2,231.5 670.0,229.9 670.7,228.3 671.5,226.6 672.2,224.8 673.0,223.0 673.7,221.1 674.5,219.2 675.2,217.2 676.0,215.3 676.7,213.8 677.5,212.7 678.2,212.4 679.0,212.7 679.7,213.5 680.5,214.6 681.2,215.8 682.0,216.9 682.7,217.9 683.5,218.9 684.2,219.9 685.0,220.9 685.7,221.7 686.5,222.4 687.2,222.8 688.0,222.7 688.7,222.0 689.5,220.9 690.2,219.6 691.0,218.2 691.7,216.8 692.5,215.6 693.2,214.7 694.0,214.3 694.7,214.6 695.5,215.6 696.2,217.0 697.0,218.6 697.7,220.4 698.5,222.1 699.2,223.9 700.0,225.6 700.7,227.1 701.5,228.3 702.2,229.4 703.0,230.3 703.7,231.1 704.5,231.9 705.2,232.7 706.0,233.4 706.7,234.1 707.5,234.8 708.2,235.5 709.0,236.1 709.7,236.7 710.5,237.3 711.2,237.9 712.0,238.4 712.7,238.8 713.5,239.3 714.2,239.6 715.0,239.9 715.7,240.2 716.5,240.5 717.2,240.7 718.0,240.9 718.7,241.1 719.5,241.2 720.2,241.4 721.0,241.6 721.7,241.7 722.5,241.9 723.2,242.1 724.0,242.3 724.7,242.6 725.5,242.8 726.2,242.9 727.0,243.1 727.7,243.3 728.5,243.5 729.2,243.6 730.0,243.8 730.7,243.9 731.5,244.1 732.2,244.2 733.0,244.3 733.7,244.4 734.5,244.5 735.2,244.6 736.0,244.6 736.7,244.7 737.5,244.8 738.2,244.9 739.0,244.9 739.5,245.0" fill="none" stroke="#e0803a" stroke-width="2.9" stroke-linejoin="round" stroke-linecap="round"/>
<polyline points="624.2,261.5 625.0,261.4 625.7,261.3 626.5,261.2 627.2,261.2 628.0,261.1 628.7,261.0 629.5,260.9 630.2,260.8 631.0,260.7 631.7,260.6 632.5,260.5 633.2,260.3 634.0,260.2 634.7,260.0 635.5,259.9 636.2,259.8 637.0,259.7 637.7,259.6 638.5,259.5 639.2,259.5 640.0,259.6 640.7,259.7 641.5,259.8 642.2,259.9 643.0,260.1 643.7,260.2 644.5,260.3 645.2,260.4 646.0,260.5 646.7,260.5 647.5,260.6 648.2,260.6 649.0,260.7 649.7,260.7 650.5,260.8 651.2,260.8 652.0,260.8 652.7,260.8 653.5,260.8 654.2,260.8 655.0,260.7 655.7,260.6 656.5,260.4 657.2,260.2 658.0,259.9 658.7,259.6 659.5,259.1 660.2,258.6 661.0,257.9 661.7,257.2 662.5,256.3 663.2,255.3 664.0,254.1 664.7,252.8 665.5,251.2 666.2,249.3 667.0,247.2 667.7,245.0 668.5,243.0 669.2,241.0 670.0,239.1 670.7,237.2 671.5,235.3 672.2,233.5 673.0,231.9 673.7,230.6 674.5,229.5 675.2,229.0 676.0,228.9 676.7,229.4 677.5,230.3 678.2,231.6 679.0,233.0 679.7,234.6 680.5,236.2 681.2,237.7 682.0,239.1 682.7,240.4 683.5,241.8 684.2,243.2 685.0,244.5 685.7,245.8 686.5,247.0 687.2,247.9 688.0,248.5 688.7,248.7 689.5,248.6 690.2,248.2 691.0,247.8 691.7,247.4 692.5,247.1 693.2,247.0 694.0,247.3 694.7,247.8 695.5,248.6 696.2,249.6 697.0,250.6 697.7,251.6 698.5,252.6 699.2,253.6 700.0,254.5 700.7,255.3 701.5,256.0 702.2,256.6 703.0,257.1 703.7,257.5 704.5,257.8 705.2,258.1 706.0,258.4 706.7,258.6 707.5,258.8 708.2,259.0 709.0,259.2 709.7,259.3 710.5,259.5 711.2,259.6 712.0,259.8 712.7,259.9 713.5,260.1 714.2,260.2 715.0,260.3 715.7,260.3 716.5,260.4 717.2,260.4 718.0,260.5 718.7,260.5 719.5,260.6 720.2,260.6 721.0,260.6 721.7,260.7 722.5,260.7 723.2,260.8 724.0,260.8 724.7,260.8 725.5,260.9 726.2,260.9 727.0,261.0 727.7,261.0 728.5,261.0 729.2,261.1 730.0,261.1 730.7,261.1 731.5,261.2 732.2,261.2 733.0,261.2 733.7,261.3 734.5,261.3 735.2,261.3 736.0,261.3 736.7,261.4 737.5,261.4 738.2,261.4 739.0,261.5 739.5,261.5" fill="none" stroke="#dcb048" stroke-width="2.9" stroke-linejoin="round" stroke-linecap="round"/>
<polyline points="624.2,278.5 625.0,278.4 625.7,278.3 626.5,278.2 627.2,278.2 628.0,278.1 628.7,278.0 629.5,277.9 630.2,277.8 631.0,277.7 631.7,277.6 632.5,277.5 633.2,277.3 634.0,277.2 634.7,277.0 635.5,276.9 636.2,276.8 637.0,276.7 637.7,276.6 638.5,276.5 639.2,276.5 640.0,276.6 640.7,276.6 641.5,276.7 642.2,276.8 643.0,276.9 643.7,277.1 644.5,277.2 645.2,277.3 646.0,277.4 646.7,277.5 647.5,277.5 648.2,277.6 649.0,277.7 649.7,277.8 650.5,277.8 651.2,277.9 652.0,277.9 652.7,278.0 653.5,277.9 654.2,277.9 655.0,277.7 655.7,277.5 656.5,277.3 657.2,276.9 658.0,276.5 658.7,276.0 659.5,275.3 660.2,274.6 661.0,273.6 661.7,272.5 662.5,271.1 663.2,269.5 664.0,267.6 664.7,265.6 665.5,263.4 666.2,261.2 667.0,259.0 667.7,257.0 668.5,255.2 669.2,253.4 670.0,251.6 670.7,250.0 671.5,248.6 672.2,247.4 673.0,246.7 673.7,246.4 674.5,246.6 675.2,247.2 676.0,248.1 676.7,249.4 677.5,250.7 678.2,252.2 679.0,253.7 679.7,255.2 680.5,256.7 681.2,258.3 682.0,259.9 682.7,261.6 683.5,263.2 684.2,264.7 685.0,266.0 685.7,267.0 686.5,267.8 687.2,268.4 688.0,268.7 688.7,268.8 689.5,268.9 690.2,269.0 691.0,269.1 691.7,269.2 692.5,269.5 693.2,269.9 694.0,270.4 694.7,271.0 695.5,271.7 696.2,272.3 697.0,273.0 697.7,273.7 698.5,274.3 699.2,274.9 700.0,275.5 700.7,275.9 701.5,276.3 702.2,276.7 703.0,276.9 703.7,277.1 704.5,277.3 705.2,277.4 706.0,277.5 706.7,277.5 707.5,277.5 708.2,277.6 709.0,277.6 709.7,277.6 710.5,277.6 711.2,277.7 712.0,277.7 712.7,277.7 713.5,277.8 714.2,277.8 715.0,277.8 715.7,277.9 716.5,277.9 717.2,277.9 718.0,277.9 718.7,278.0 719.5,278.0 720.2,278.0 721.0,278.0 721.7,278.0 722.5,278.1 723.2,278.1 724.0,278.1 724.7,278.1 725.5,278.2 726.2,278.2 727.0,278.2 727.7,278.2 728.5,278.2 729.2,278.2 730.0,278.3 730.7,278.3 731.5,278.3 732.2,278.3 733.0,278.3 733.7,278.4 734.5,278.4 735.2,278.4 736.0,278.4 736.7,278.4 737.5,278.4 738.2,278.5 739.0,278.5 739.5,278.5" fill="none" stroke="#dcd858" stroke-width="2.9" stroke-linejoin="round" stroke-linecap="round"/>
<polyline points="624.2,295.0 625.0,294.9 625.7,294.8 626.5,294.7 627.2,294.7 628.0,294.6 628.7,294.5 629.5,294.4 630.2,294.3 631.0,294.2 631.7,294.1 632.5,294.0 633.2,293.8 634.0,293.7 634.7,293.5 635.5,293.4 636.2,293.3 637.0,293.2 637.7,293.1 638.5,293.0 639.2,293.0 640.0,293.1 640.7,293.1 641.5,293.2 642.2,293.3 643.0,293.4 643.7,293.6 644.5,293.7 645.2,293.8 646.0,293.9 646.7,294.0 647.5,294.0 648.2,294.0 649.0,294.0 649.7,294.0 650.5,294.0 651.2,294.0 652.0,294.0 652.7,293.9 653.5,293.8 654.2,293.7 655.0,293.5 655.7,293.4 656.5,293.3 657.2,293.2 658.0,292.9 658.7,292.4 659.5,291.5 660.2,290.2 661.0,288.5 661.7,286.3 662.5,283.7 663.2,281.0 664.0,278.1 664.7,275.2 665.5,272.5 666.2,269.9 667.0,267.6 667.7,265.6 668.5,264.1 669.2,263.1 670.0,262.9 670.7,263.1 671.5,263.7 672.2,264.5 673.0,265.4 673.7,266.5 674.5,267.6 675.2,268.8 676.0,270.0 676.7,271.2 677.5,272.5 678.2,273.9 679.0,275.3 679.7,276.9 680.5,278.6 681.2,280.4 682.0,282.0 682.7,283.3 683.5,284.4 684.2,285.1 685.0,285.5 685.7,285.7 686.5,285.7 687.2,285.6 688.0,285.4 688.7,285.2 689.5,285.0 690.2,285.0 691.0,285.1 691.7,285.3 692.5,285.6 693.2,286.1 694.0,286.7 694.7,287.3 695.5,288.0 696.2,288.7 697.0,289.4 697.7,290.0 698.5,290.7 699.2,291.3 700.0,291.9 700.7,292.4 701.5,292.8 702.2,293.2 703.0,293.5 703.7,293.7 704.5,293.9 705.2,294.0 706.0,294.0 706.7,294.1 707.5,294.1 708.2,294.1 709.0,294.1 709.7,294.1 710.5,294.1 711.2,294.2 712.0,294.2 712.7,294.2 713.5,294.3 714.2,294.3 715.0,294.3 715.7,294.4 716.5,294.4 717.2,294.4 718.0,294.4 718.7,294.5 719.5,294.5 720.2,294.5 721.0,294.5 721.7,294.5 722.5,294.6 723.2,294.6 724.0,294.6 724.7,294.6 725.5,294.7 726.2,294.7 727.0,294.7 727.7,294.7 728.5,294.7 729.2,294.7 730.0,294.8 730.7,294.8 731.5,294.8 732.2,294.8 733.0,294.8 733.7,294.9 734.5,294.9 735.2,294.9 736.0,294.9 736.7,294.9 737.5,294.9 738.2,295.0 739.0,295.0 739.5,295.0" fill="none" stroke="#b8cc50" stroke-width="2.9" stroke-linejoin="round" stroke-linecap="round"/>
<polyline points="624.2,313.3 625.0,313.3 625.7,313.2 626.5,313.1 627.2,313.0 628.0,312.9 628.7,312.8 629.5,312.7 630.2,312.5 631.0,312.4 631.7,312.2 632.5,312.1 633.2,311.9 634.0,311.7 634.7,311.4 635.5,311.3 636.2,311.1 637.0,311.0 637.7,310.9 638.5,310.9 639.2,310.9 640.0,311.0 640.7,311.1 641.5,311.3 642.2,311.6 643.0,311.8 643.7,312.0 644.5,312.2 645.2,312.3 646.0,312.4 646.7,312.4 647.5,312.4 648.2,312.4 649.0,312.4 649.7,312.3 650.5,312.3 651.2,312.3 652.0,312.2 652.7,312.2 653.5,312.0 654.2,311.9 655.0,311.7 655.7,311.4 656.5,311.0 657.2,310.5 658.0,309.8 658.7,308.9 659.5,307.6 660.2,305.9 661.0,303.8 661.7,301.4 662.5,298.6 663.2,295.7 664.0,292.8 664.7,289.9 665.5,286.8 666.2,284.0 667.0,281.8 667.7,280.6 668.5,280.4 669.2,280.7 670.0,281.5 670.7,282.5 671.5,283.6 672.2,284.8 673.0,286.1 673.7,287.4 674.5,288.7 675.2,290.1 676.0,291.6 676.7,293.2 677.5,295.0 678.2,296.8 679.0,298.5 679.7,300.1 680.5,301.4 681.2,302.5 682.0,303.4 682.7,304.0 683.5,304.5 684.2,304.9 685.0,305.1 685.7,305.3 686.5,305.4 687.2,305.5 688.0,305.6 688.7,305.7 689.5,305.8 690.2,305.9 691.0,306.0 691.7,306.2 692.5,306.4 693.2,306.7 694.0,307.1 694.7,307.6 695.5,308.1 696.2,308.7 697.0,309.3 697.7,309.9 698.5,310.4 699.2,311.0 700.0,311.4 700.7,311.8 701.5,312.2 702.2,312.4 703.0,312.6 703.7,312.8 704.5,312.9 705.2,312.9 706.0,312.9 706.7,312.9 707.5,312.9 708.2,312.9 709.0,312.9 709.7,312.9 710.5,312.9 711.2,312.9 712.0,312.9 712.7,312.9 713.5,312.9 714.2,313.0 715.0,313.0 715.7,313.0 716.5,313.0 717.2,313.0 718.0,313.0 718.7,313.1 719.5,313.1 720.2,313.1 721.0,313.1 721.7,313.1 722.5,313.1 723.2,313.1 724.0,313.1 724.7,313.2 725.5,313.2 726.2,313.2 727.0,313.2 727.7,313.2 728.5,313.2 729.2,313.2 730.0,313.2 730.7,313.3 731.5,313.3 732.2,313.3 733.0,313.3 733.7,313.3 734.5,313.3 735.2,313.3 736.0,313.3 736.7,313.4 737.5,313.4 738.2,313.4 739.0,313.4 739.5,313.4" fill="none" stroke="#68b048" stroke-width="2.9" stroke-linejoin="round" stroke-linecap="round"/>
<polyline points="624.2,330.6 625.0,330.5 625.7,330.4 626.5,330.3 627.2,330.2 628.0,330.1 628.7,330.0 629.5,329.9 630.2,329.8 631.0,329.6 631.7,329.4 632.5,329.1 633.2,328.8 634.0,328.5 634.7,328.2 635.5,327.9 636.2,327.6 637.0,327.4 637.7,327.3 638.5,327.3 639.2,327.3 640.0,327.4 640.7,327.6 641.5,327.9 642.2,328.1 643.0,328.4 643.7,328.7 644.5,329.0 645.2,329.3 646.0,329.5 646.7,329.7 647.5,329.8 648.2,329.9 649.0,330.0 649.7,330.1 650.5,330.2 651.2,330.2 652.0,330.2 652.7,330.1 653.5,329.9 654.2,329.5 655.0,329.0 655.7,328.2 656.5,327.1 657.2,325.8 658.0,324.1 658.7,322.2 659.5,320.1 660.2,317.8 661.0,315.2 661.7,312.4 662.5,309.5 663.2,306.6 664.0,303.7 664.7,301.2 665.5,299.1 666.2,297.6 667.0,296.7 667.7,296.5 668.5,296.9 669.2,297.8 670.0,299.0 670.7,300.4 671.5,301.8 672.2,303.0 673.0,304.2 673.7,305.4 674.5,306.6 675.2,307.8 676.0,309.0 676.7,310.2 677.5,311.5 678.2,312.7 679.0,313.9 679.7,315.1 680.5,316.4 681.2,317.6 682.0,318.9 682.7,320.2 683.5,321.4 684.2,322.5 685.0,323.4 685.7,324.2 686.5,324.8 687.2,325.2 688.0,325.5 688.7,325.7 689.5,325.8 690.2,325.8 691.0,325.8 691.7,325.8 692.5,325.9 693.2,325.9 694.0,325.9 694.7,325.9 695.5,325.9 696.2,325.9 697.0,326.0 697.7,326.1 698.5,326.3 699.2,326.6 700.0,327.0 700.7,327.4 701.5,327.8 702.2,328.1 703.0,328.3 703.7,328.5 704.5,328.7 705.2,328.8 706.0,329.0 706.7,329.1 707.5,329.1 708.2,329.2 709.0,329.3 709.7,329.3 710.5,329.4 711.2,329.4 712.0,329.5 712.7,329.5 713.5,329.6 714.2,329.6 715.0,329.7 715.7,329.7 716.5,329.7 717.2,329.8 718.0,329.8 718.7,329.8 719.5,329.9 720.2,329.9 721.0,329.9 721.7,330.0 722.5,330.0 723.2,330.0 724.0,330.0 724.7,330.1 725.5,330.1 726.2,330.1 727.0,330.2 727.7,330.2 728.5,330.2 729.2,330.2 730.0,330.3 730.7,330.3 731.5,330.3 732.2,330.3 733.0,330.4 733.7,330.4 734.5,330.4 735.2,330.4 736.0,330.5 736.7,330.5 737.5,330.5 738.2,330.5 739.0,330.6 739.5,330.6" fill="none" stroke="#48a870" stroke-width="2.9" stroke-linejoin="round" stroke-linecap="round"/>
<polyline points="624.2,347.8 625.0,347.7 625.7,347.6 626.5,347.6 627.2,347.5 628.0,347.4 628.7,347.3 629.5,347.1 630.2,347.0 631.0,346.8 631.7,346.5 632.5,346.2 633.2,345.8 634.0,345.4 634.7,345.0 635.5,344.6 636.2,344.2 637.0,344.0 637.7,343.8 638.5,343.7 639.2,343.7 640.0,343.9 640.7,344.1 641.5,344.4 642.2,344.7 643.0,345.1 643.7,345.5 644.5,345.8 645.2,346.1 646.0,346.3 646.7,346.5 647.5,346.6 648.2,346.6 649.0,346.6 649.7,346.6 650.5,346.5 651.2,346.4 652.0,346.3 652.7,346.1 653.5,345.8 654.2,345.5 655.0,345.0 655.7,344.3 656.5,343.4 657.2,342.0 658.0,340.2 658.7,338.0 659.5,335.6 660.2,332.8 661.0,329.9 661.7,326.7 662.5,323.4 663.2,320.3 664.0,317.7 664.7,315.8 665.5,314.7 666.2,314.5 667.0,315.3 667.7,316.6 668.5,318.5 669.2,320.7 670.0,323.0 670.7,325.2 671.5,327.2 672.2,329.0 673.0,330.4 673.7,331.7 674.5,332.9 675.2,333.9 676.0,334.9 676.7,335.8 677.5,336.7 678.2,337.6 679.0,338.4 679.7,339.2 680.5,340.0 681.2,340.7 682.0,341.4 682.7,342.0 683.5,342.6 684.2,343.0 685.0,343.4 685.7,343.7 686.5,343.8 687.2,344.0 688.0,344.0 688.7,344.0 689.5,343.9 690.2,343.9 691.0,343.8 691.7,343.7 692.5,343.7 693.2,343.7 694.0,343.7 694.7,343.8 695.5,343.9 696.2,344.1 697.0,344.3 697.7,344.5 698.5,344.8 699.2,345.1 700.0,345.4 700.7,345.6 701.5,345.8 702.2,346.0 703.0,346.2 703.7,346.4 704.5,346.5 705.2,346.6 706.0,346.7 706.7,346.8 707.5,346.8 708.2,346.9 709.0,346.9 709.7,347.0 710.5,347.0 711.2,347.1 712.0,347.1 712.7,347.1 713.5,347.2 714.2,347.2 715.0,347.2 715.7,347.3 716.5,347.3 717.2,347.3 718.0,347.3 718.7,347.4 719.5,347.4 720.2,347.4 721.0,347.4 721.7,347.4 722.5,347.5 723.2,347.5 724.0,347.5 724.7,347.5 725.5,347.5 726.2,347.5 727.0,347.5 727.7,347.6 728.5,347.6 729.2,347.6 730.0,347.6 730.7,347.6 731.5,347.6 732.2,347.6 733.0,347.7 733.7,347.7 734.5,347.7 735.2,347.7 736.0,347.7 736.7,347.7 737.5,347.7 738.2,347.8 739.0,347.8 739.5,347.8" fill="none" stroke="#38b4b4" stroke-width="2.9" stroke-linejoin="round" stroke-linecap="round"/>
<rect x="623.8" y="160.3" width="116.2" height="203.9" fill="none" stroke="#111" stroke-width="1.3"/>
<line x1="640.4" y1="160.3" x2="640.4" y2="162.7" stroke="#111" stroke-width="1"/>
<line x1="640.4" y1="364.2" x2="640.4" y2="361.8" stroke="#111" stroke-width="1"/>
<line x1="657.0" y1="160.3" x2="657.0" y2="162.7" stroke="#111" stroke-width="1"/>
<line x1="657.0" y1="364.2" x2="657.0" y2="361.8" stroke="#111" stroke-width="1"/>
<line x1="673.6" y1="160.3" x2="673.6" y2="162.7" stroke="#111" stroke-width="1"/>
<line x1="673.6" y1="364.2" x2="673.6" y2="361.8" stroke="#111" stroke-width="1"/>
<line x1="690.2" y1="160.3" x2="690.2" y2="162.7" stroke="#111" stroke-width="1"/>
<line x1="690.2" y1="364.2" x2="690.2" y2="361.8" stroke="#111" stroke-width="1"/>
<line x1="706.8" y1="160.3" x2="706.8" y2="162.7" stroke="#111" stroke-width="1"/>
<line x1="706.8" y1="364.2" x2="706.8" y2="361.8" stroke="#111" stroke-width="1"/>
<line x1="723.4" y1="160.3" x2="723.4" y2="162.7" stroke="#111" stroke-width="1"/>
<line x1="723.4" y1="364.2" x2="723.4" y2="361.8" stroke="#111" stroke-width="1"/>
<text x="623.8" y="377.2" font-size="9.80" fill="#444" font-weight="normal" text-anchor="middle" font-family="Liberation Sans, sans-serif" textLength="15.0" lengthAdjust="spacingAndGlyphs" stroke="#444" stroke-width="0.15">400</text>
<line x1="623.8" y1="364.2" x2="623.8" y2="366.4" stroke="#111" stroke-width="1"/>
<text x="657.0" y="377.2" font-size="9.80" fill="#444" font-weight="normal" text-anchor="middle" font-family="Liberation Sans, sans-serif" textLength="15.0" lengthAdjust="spacingAndGlyphs" stroke="#444" stroke-width="0.15">500</text>
<line x1="657.0" y1="364.2" x2="657.0" y2="366.4" stroke="#111" stroke-width="1"/>
<text x="690.2" y="377.2" font-size="9.80" fill="#444" font-weight="normal" text-anchor="middle" font-family="Liberation Sans, sans-serif" textLength="15.0" lengthAdjust="spacingAndGlyphs" stroke="#444" stroke-width="0.15">600</text>
<line x1="690.2" y1="364.2" x2="690.2" y2="366.4" stroke="#111" stroke-width="1"/>
<text x="723.4" y="377.2" font-size="9.80" fill="#444" font-weight="normal" text-anchor="middle" font-family="Liberation Sans, sans-serif" textLength="15.0" lengthAdjust="spacingAndGlyphs" stroke="#444" stroke-width="0.15">700</text>
<line x1="723.4" y1="364.2" x2="723.4" y2="366.4" stroke="#111" stroke-width="1"/>
<text x="639.6" y="393.8" font-size="12.20" fill="#3a3a3a" font-weight="normal" text-anchor="start" font-family="Liberation Sans, sans-serif" textLength="83.4" lengthAdjust="spacingAndGlyphs" stroke="#3a3a3a" stroke-width="0.2">Wavelength (nm)</text>
<text x="0.0" y="0.0" font-size="11.40" fill="#3a3a3a" font-weight="normal" text-anchor="middle" font-family="Liberation Sans, sans-serif" textLength="98.4" lengthAdjust="spacingAndGlyphs" stroke="#3a3a3a" stroke-width="0.15" transform="translate(610.2,256.8) rotate(-90)">EL Intensity (a.u.)</text>
<path d="M720,211 H726.8 V317.5 H730.4 L723.4,328.5 L716.4,317.5 H720 Z" fill="url(#ag)" opacity="0.9"/>
<text transform="translate(718.40,202.80) scale(1.000,1)" font-size="12.40" fill="#111" font-weight="bold" stroke="#111" stroke-width="0.30" font-family="Liberation Sans, sans-serif">P</text>
<text transform="translate(725.80,205.00) scale(1.000,1)" font-size="8.50" fill="#111" font-weight="bold" stroke="#111" stroke-width="0.20" font-family="Liberation Sans, sans-serif">1</text>
<text transform="translate(717.80,345.20) scale(1.000,1)" font-size="12.40" fill="#111" font-weight="bold" stroke="#111" stroke-width="0.30" font-family="Liberation Sans, sans-serif">P</text>
<text transform="translate(725.20,347.40) scale(1.000,1)" font-size="8.50" fill="#111" font-weight="bold" stroke="#111" stroke-width="0.20" font-family="Liberation Sans, sans-serif">9</text>
</svg>
</body></html>
